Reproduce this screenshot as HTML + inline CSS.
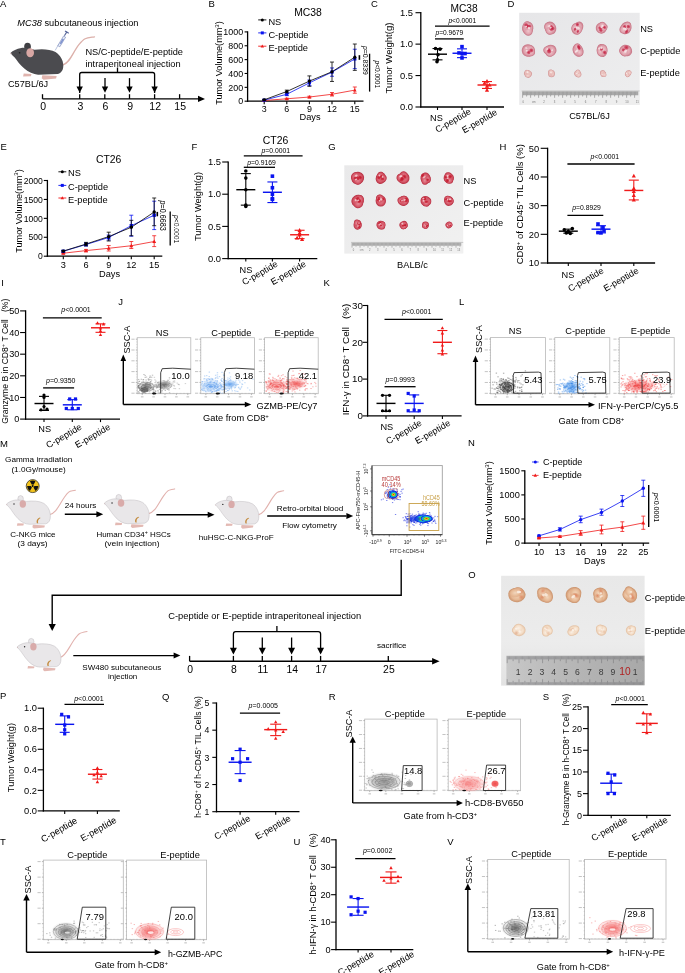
<!DOCTYPE html>
<html><head><meta charset="utf-8"><style>
html,body{margin:0;padding:0;background:#fff;width:685px;height:973px;overflow:hidden}
svg{display:block;font-family:"Liberation Sans",sans-serif;will-change:transform}
</style></head><body>
<svg width="685" height="973" viewBox="0 0 685 973">
<defs>
<radialGradient id="tumA"><stop offset="0" stop-color="#eec6cc"/><stop offset="0.7" stop-color="#e0a2ae"/><stop offset="1" stop-color="#d8929e" stop-opacity="0.2"/></radialGradient>
<radialGradient id="tumB" cx="0.4" cy="0.4" r="0.65"><stop offset="0" stop-color="#f0c8cc"/><stop offset="0.5" stop-color="#d8768a"/><stop offset="1" stop-color="#b83048"/></radialGradient>
<radialGradient id="tumS"><stop offset="0" stop-color="#f2d6d2"/><stop offset="0.7" stop-color="#eac0bc"/><stop offset="1" stop-color="#e0b0ae" stop-opacity="0.3"/></radialGradient>
<radialGradient id="tumG"><stop offset="0" stop-color="#e6909c"/><stop offset="0.7" stop-color="#d65a6a"/><stop offset="1" stop-color="#cc4a5c" stop-opacity="0.3"/></radialGradient>
<radialGradient id="tumO"><stop offset="0" stop-color="#f2d6bc"/><stop offset="0.7" stop-color="#e6b894"/><stop offset="1" stop-color="#dca884" stop-opacity="0.3"/></radialGradient>
<radialGradient id="tumO2"><stop offset="0" stop-color="#faf0e6"/><stop offset="0.7" stop-color="#f4dec8"/><stop offset="1" stop-color="#eed0b6" stop-opacity="0.2"/></radialGradient>
<radialGradient id="redA"><stop offset="0" stop-color="#c01c3c"/><stop offset="0.6" stop-color="#c82848" stop-opacity="0.7"/><stop offset="1" stop-color="#d04060" stop-opacity="0"/></radialGradient>
<radialGradient id="redS"><stop offset="0" stop-color="#e0a0a4"/><stop offset="1" stop-color="#e0a0a4" stop-opacity="0"/></radialGradient>
<radialGradient id="redG"><stop offset="0" stop-color="#c01428"/><stop offset="0.6" stop-color="#c81c30" stop-opacity="0.75"/><stop offset="1" stop-color="#d03040" stop-opacity="0"/></radialGradient>
<radialGradient id="redO"><stop offset="0" stop-color="#d8704a"/><stop offset="1" stop-color="#d8704a" stop-opacity="0"/></radialGradient>
<radialGradient id="redO2"><stop offset="0" stop-color="#e0a888"/><stop offset="1" stop-color="#e0a888" stop-opacity="0"/></radialGradient>
<linearGradient id="bgD" x1="0" y1="0" x2="1" y2="1"><stop offset="0" stop-color="#e6e6e8"/><stop offset="1" stop-color="#eeeeef"/></linearGradient>
<linearGradient id="bgG" x1="0" y1="0" x2="1" y2="1"><stop offset="0" stop-color="#e9e9ea"/><stop offset="1" stop-color="#f1f1f1"/></linearGradient>
<linearGradient id="rulerO" x1="0" y1="0" x2="1" y2="0"><stop offset="0" stop-color="#c8c8c8"/><stop offset="0.35" stop-color="#bababa"/><stop offset="0.7" stop-color="#b0b0b0"/><stop offset="1" stop-color="#a8a8a8"/></linearGradient>
<radialGradient id="cgK"><stop offset="0" stop-color="#505050" stop-opacity="0.9"/><stop offset="0.45" stop-color="#8a8a8a" stop-opacity="0.6"/><stop offset="1" stop-color="#bbb" stop-opacity="0"/></radialGradient>
<radialGradient id="cgB"><stop offset="0" stop-color="#3d8ae8" stop-opacity="0.85"/><stop offset="0.5" stop-color="#7ab0f0" stop-opacity="0.5"/><stop offset="1" stop-color="#b0d0f8" stop-opacity="0"/></radialGradient>
<radialGradient id="cgK2"><stop offset="0" stop-color="#7a7a7a" stop-opacity="0.85"/><stop offset="0.6" stop-color="#a0a0a0" stop-opacity="0.55"/><stop offset="1" stop-color="#c0c0c0" stop-opacity="0"/></radialGradient>
<radialGradient id="cgR2"><stop offset="0" stop-color="#f47070" stop-opacity="0.8"/><stop offset="0.6" stop-color="#f69a9a" stop-opacity="0.5"/><stop offset="1" stop-color="#f8c0c0" stop-opacity="0"/></radialGradient>
<radialGradient id="cgR"><stop offset="0" stop-color="#f04848" stop-opacity="0.9"/><stop offset="0.5" stop-color="#f47c7c" stop-opacity="0.55"/><stop offset="1" stop-color="#f8b8b8" stop-opacity="0"/></radialGradient>
<radialGradient id="heat1"><stop offset="0" stop-color="#e82010"/><stop offset="0.25" stop-color="#f0c020"/><stop offset="0.45" stop-color="#30d050"/><stop offset="0.65" stop-color="#10a0f0"/><stop offset="0.85" stop-color="#1030e0"/><stop offset="1" stop-color="#2030d0" stop-opacity="0"/></radialGradient>
<linearGradient id="bgO" x1="0" y1="0" x2="0" y2="1"><stop offset="0" stop-color="#e8e8e8"/><stop offset="0.6" stop-color="#ececec"/><stop offset="1" stop-color="#e2e2e2"/></linearGradient>
</defs>
<text x="0" y="7" font-size="9.5">A</text>
<text x="17.3" y="26" font-size="9.25" textLength="121.2" lengthAdjust="spacingAndGlyphs"><tspan font-style="italic">MC38</tspan> subcutaneous injection</text>
<path d="M62.7 65 C70.5 62.6, 72.9 51.8, 78.9 44.6 S86.1 38, 94.5 36.8" fill="none" stroke="#dcb0aa" stroke-width="1.32" stroke-linecap="round"/>
<path d="M23.7 73.4 L31.5 73.88 L30.9 76.16 L23.1 76.52 Z" fill="#e0b4ae"/>
<path d="M42.3 75.32 L56.7 76.04 L56.1 78.44 L43.5 79.76 L41.7 78.2 Z" fill="#e0b4ae"/>
<ellipse cx="27.54" cy="46.64" rx="3.36" ry="3.96" fill="#3f3f43" />
<path d="M10.5 53 C12.9 50.6, 16.5 48.68, 21.3 47.96 C24.9 47.48, 29.7 48.68, 34.5 49.64 C41.7 48.68, 50.1 48.92, 55.5 52.04 C60.3 55.16, 63.3 60.2, 63.3 65.6 C63.3 69.8, 61.86 72.8, 57.9 74.12 L38.1 74.72 C33.3 74.6, 28.5 72.2, 24.3 68.6 C20.1 65, 17.1 60.8, 14.7 57.56 C12.9 56, 11.46 54.44, 10.5 53 Z" fill="#4b4b4f"/>
<ellipse cx="30.18" cy="52.76" rx="3.84" ry="4.44" fill="#d8a7a4" />
<circle cx="19.62" cy="52.76" r="0.84" fill="#222" />
<circle cx="10.98" cy="53.6" r="0.54" fill="#caa" />
<path d="M55.2 50.4 L58.6 44.4" fill="none" stroke="#8a9cc8" stroke-width="0.6"/>
<path d="M57.8 45.6 L63.6 36.0 L65.6 37.2 L59.8 46.8 Z" fill="#e4eaf6" stroke="#7080b4" stroke-width="0.6"/>
<path d="M59.6 43.4 L62.6 38.6 L64.0 39.4 L61.0 44.2 Z" fill="#8094d0"/>
<path d="M64.4 35.8 L67.0 31.6" fill="none" stroke="#55659a" stroke-width="1.1"/>
<path d="M65.0 31.0 L68.8 33.2" fill="none" stroke="#55659a" stroke-width="1.1"/>
<text x="8" y="87.4" font-size="9.25" textLength="40.2" lengthAdjust="spacingAndGlyphs">C57BL/6J</text>
<text x="85.4" y="55.4" font-size="9.25" textLength="97.6" lengthAdjust="spacingAndGlyphs">NS/C-peptide/E-peptide</text>
<text x="85.4" y="66.8" font-size="9.25" textLength="95.3" lengthAdjust="spacingAndGlyphs">intraperitoneal injection</text>
<path d="M79.7 93 L79.7 74.5 Q79.7 72.5 81.7 72.5 L152.6 72.5 Q154.6 72.5 154.6 74.5 L154.6 93" fill="none" stroke="#000" stroke-width="1.3"/>
<line x1="117.5" y1="67.5" x2="117.5" y2="72.5" stroke="#000" stroke-width="1.3" />
<line x1="105" y1="78.1" x2="105" y2="90" stroke="#000" stroke-width="1.3" />
<line x1="129.5" y1="78.1" x2="129.5" y2="90" stroke="#000" stroke-width="1.3" />
<path d="M79.7 92.8 L76.5 86.6 L82.9 86.6 Z" fill="#000"/>
<path d="M105 92.8 L101.8 86.6 L108.2 86.6 Z" fill="#000"/>
<path d="M129.5 92.8 L126.3 86.6 L132.7 86.6 Z" fill="#000"/>
<path d="M154.6 92.8 L151.4 86.6 L157.8 86.6 Z" fill="#000"/>
<line x1="42.5" y1="98.9" x2="199" y2="98.9" stroke="#000" stroke-width="1.4" />
<path d="M205 98.9 L198 95.8 L198 102 Z" fill="#000"/>
<line x1="42.5" y1="94.2" x2="42.5" y2="98.9" stroke="#000" stroke-width="1.3" />
<text x="43.1" y="110.4" font-size="10.5" text-anchor="middle">0</text>
<line x1="79.7" y1="94.2" x2="79.7" y2="98.9" stroke="#000" stroke-width="1.3" />
<text x="80.3" y="110.4" font-size="10.5" text-anchor="middle">3</text>
<line x1="104.8" y1="94.2" x2="104.8" y2="98.9" stroke="#000" stroke-width="1.3" />
<text x="105.4" y="110.4" font-size="10.5" text-anchor="middle">6</text>
<line x1="129.5" y1="94.2" x2="129.5" y2="98.9" stroke="#000" stroke-width="1.3" />
<text x="130.1" y="110.4" font-size="10.5" text-anchor="middle">9</text>
<line x1="154.6" y1="94.2" x2="154.6" y2="98.9" stroke="#000" stroke-width="1.3" />
<text x="155.2" y="110.4" font-size="10.5" text-anchor="middle">12</text>
<line x1="179.6" y1="94.2" x2="179.6" y2="98.9" stroke="#000" stroke-width="1.3" />
<text x="180.2" y="110.4" font-size="10.5" text-anchor="middle">15</text>
<text x="208.5" y="7" font-size="9.5">B</text>
<text x="308" y="16.4" font-size="10.4" text-anchor="middle">MC38</text>
<line x1="247.6" y1="31.3" x2="247.6" y2="101.8" stroke="#000" stroke-width="1.3" />
<line x1="244.6" y1="101.2" x2="247.6" y2="101.2" stroke="#000" stroke-width="1.1" />
<text x="243.1" y="104.4" font-size="8.9" text-anchor="end">0</text>
<line x1="244.6" y1="87.34" x2="247.6" y2="87.34" stroke="#000" stroke-width="1.1" />
<text x="243.1" y="90.54" font-size="8.9" text-anchor="end">200</text>
<line x1="244.6" y1="73.48" x2="247.6" y2="73.48" stroke="#000" stroke-width="1.1" />
<text x="243.1" y="76.68" font-size="8.9" text-anchor="end">400</text>
<line x1="244.6" y1="59.62" x2="247.6" y2="59.62" stroke="#000" stroke-width="1.1" />
<text x="243.1" y="62.82" font-size="8.9" text-anchor="end">600</text>
<line x1="244.6" y1="45.76" x2="247.6" y2="45.76" stroke="#000" stroke-width="1.1" />
<text x="243.1" y="48.96" font-size="8.9" text-anchor="end">800</text>
<line x1="244.6" y1="31.9" x2="247.6" y2="31.9" stroke="#000" stroke-width="1.1" />
<text x="243.1" y="35.1" font-size="8.9" text-anchor="end">1000</text>
<line x1="247" y1="101.2" x2="363.5" y2="101.2" stroke="#000" stroke-width="1.3" />
<line x1="264.2" y1="101.2" x2="264.2" y2="104.2" stroke="#000" stroke-width="1.1" />
<text x="264.2" y="112.4" font-size="8.9" text-anchor="middle">3</text>
<line x1="286.8" y1="101.2" x2="286.8" y2="104.2" stroke="#000" stroke-width="1.1" />
<text x="286.8" y="112.4" font-size="8.9" text-anchor="middle">6</text>
<line x1="309.4" y1="101.2" x2="309.4" y2="104.2" stroke="#000" stroke-width="1.1" />
<text x="309.4" y="112.4" font-size="8.9" text-anchor="middle">9</text>
<line x1="332" y1="101.2" x2="332" y2="104.2" stroke="#000" stroke-width="1.1" />
<text x="332" y="112.4" font-size="8.9" text-anchor="middle">12</text>
<line x1="354.8" y1="101.2" x2="354.8" y2="104.2" stroke="#000" stroke-width="1.1" />
<text x="354.8" y="112.4" font-size="8.9" text-anchor="middle">15</text>
<text x="310" y="120.3" font-size="9.25" text-anchor="middle">Days</text>
<text x="222.1" y="63" font-size="9.1" text-anchor="middle" transform="rotate(-90 222.1 63)">Tumor Volume(mm<tspan dy="-3.2" font-size="6">3</tspan><tspan dy="3.2">)</tspan></text>
<line x1="258.2" y1="19.9" x2="266.4" y2="19.9" stroke="#000" stroke-width="0.9" />
<circle cx="262.3" cy="19.9" r="1.5" fill="#000" />
<text x="268.4" y="24.6" font-size="9.25">NS</text>
<line x1="258.2" y1="32.9" x2="266.4" y2="32.9" stroke="#0a14f0" stroke-width="0.9" />
<rect x="260.8" y="31.4" width="3" height="3" fill="#0a14f0"/>
<text x="268.4" y="37.6" font-size="9.25">C-peptide</text>
<line x1="258.2" y1="46.2" x2="266.4" y2="46.2" stroke="#f01a1a" stroke-width="0.9" />
<path d="M262.3 44.4 L260.57 47.55 L264.03 47.55 Z" fill="#f01a1a"/>
<text x="268.4" y="50.9" font-size="9.25">E-peptide</text>
<polyline points="264.2,100.51 286.8,98.77 309.4,97.04 332,94.27 354.8,90.11" fill="none" stroke="#f01a1a" stroke-width="0.8"/>
<line x1="264.2" y1="100.09" x2="264.2" y2="100.92" stroke="#f01a1a" stroke-width="0.8" />
<line x1="262.2" y1="100.09" x2="266.2" y2="100.09" stroke="#f01a1a" stroke-width="0.8" />
<line x1="262.2" y1="100.92" x2="266.2" y2="100.92" stroke="#f01a1a" stroke-width="0.8" />
<path d="M264.2 98.59 L262.36 101.95 L266.04 101.95 Z" fill="#f01a1a"/>
<line x1="286.8" y1="98.22" x2="286.8" y2="99.33" stroke="#f01a1a" stroke-width="0.8" />
<line x1="284.8" y1="98.22" x2="288.8" y2="98.22" stroke="#f01a1a" stroke-width="0.8" />
<line x1="284.8" y1="99.33" x2="288.8" y2="99.33" stroke="#f01a1a" stroke-width="0.8" />
<path d="M286.8 96.85 L284.96 100.21 L288.64 100.21 Z" fill="#f01a1a"/>
<line x1="309.4" y1="96.21" x2="309.4" y2="97.87" stroke="#f01a1a" stroke-width="0.8" />
<line x1="307.4" y1="96.21" x2="311.4" y2="96.21" stroke="#f01a1a" stroke-width="0.8" />
<line x1="307.4" y1="97.87" x2="311.4" y2="97.87" stroke="#f01a1a" stroke-width="0.8" />
<path d="M309.4 95.12 L307.56 98.48 L311.24 98.48 Z" fill="#f01a1a"/>
<line x1="332" y1="92.54" x2="332" y2="96" stroke="#f01a1a" stroke-width="0.8" />
<line x1="330" y1="92.54" x2="334" y2="92.54" stroke="#f01a1a" stroke-width="0.8" />
<line x1="330" y1="96" x2="334" y2="96" stroke="#f01a1a" stroke-width="0.8" />
<path d="M332 92.35 L330.16 95.71 L333.84 95.71 Z" fill="#f01a1a"/>
<line x1="354.8" y1="86.99" x2="354.8" y2="93.23" stroke="#f01a1a" stroke-width="0.8" />
<line x1="352.8" y1="86.99" x2="356.8" y2="86.99" stroke="#f01a1a" stroke-width="0.8" />
<line x1="352.8" y1="93.23" x2="356.8" y2="93.23" stroke="#f01a1a" stroke-width="0.8" />
<path d="M354.8 88.19 L352.96 91.55 L356.64 91.55 Z" fill="#f01a1a"/>
<polyline points="264.2,100.16 286.8,94.27 309.4,82.84 332,72.09 354.8,58.93" fill="none" stroke="#0a14f0" stroke-width="0.8"/>
<line x1="264.2" y1="99.61" x2="264.2" y2="100.71" stroke="#0a14f0" stroke-width="0.8" />
<line x1="262.2" y1="99.61" x2="266.2" y2="99.61" stroke="#0a14f0" stroke-width="0.8" />
<line x1="262.2" y1="100.71" x2="266.2" y2="100.71" stroke="#0a14f0" stroke-width="0.8" />
<rect x="262.6" y="98.56" width="3.2" height="3.2" fill="#0a14f0"/>
<line x1="286.8" y1="92.88" x2="286.8" y2="95.66" stroke="#0a14f0" stroke-width="0.8" />
<line x1="284.8" y1="92.88" x2="288.8" y2="92.88" stroke="#0a14f0" stroke-width="0.8" />
<line x1="284.8" y1="95.66" x2="288.8" y2="95.66" stroke="#0a14f0" stroke-width="0.8" />
<rect x="285.2" y="92.67" width="3.2" height="3.2" fill="#0a14f0"/>
<line x1="309.4" y1="80.06" x2="309.4" y2="85.61" stroke="#0a14f0" stroke-width="0.8" />
<line x1="307.4" y1="80.06" x2="311.4" y2="80.06" stroke="#0a14f0" stroke-width="0.8" />
<line x1="307.4" y1="85.61" x2="311.4" y2="85.61" stroke="#0a14f0" stroke-width="0.8" />
<rect x="307.8" y="81.24" width="3.2" height="3.2" fill="#0a14f0"/>
<line x1="332" y1="67.94" x2="332" y2="76.25" stroke="#0a14f0" stroke-width="0.8" />
<line x1="330" y1="67.94" x2="334" y2="67.94" stroke="#0a14f0" stroke-width="0.8" />
<line x1="330" y1="76.25" x2="334" y2="76.25" stroke="#0a14f0" stroke-width="0.8" />
<rect x="330.4" y="70.49" width="3.2" height="3.2" fill="#0a14f0"/>
<line x1="354.8" y1="49.22" x2="354.8" y2="68.63" stroke="#0a14f0" stroke-width="0.8" />
<line x1="352.8" y1="49.22" x2="356.8" y2="49.22" stroke="#0a14f0" stroke-width="0.8" />
<line x1="352.8" y1="68.63" x2="356.8" y2="68.63" stroke="#0a14f0" stroke-width="0.8" />
<rect x="353.2" y="57.33" width="3.2" height="3.2" fill="#0a14f0"/>
<polyline points="264.2,99.81 286.8,91.5 309.4,81.1 332,71.75 354.8,57.19" fill="none" stroke="#000" stroke-width="0.8"/>
<line x1="264.2" y1="99.26" x2="264.2" y2="100.37" stroke="#000" stroke-width="0.8" />
<line x1="262.2" y1="99.26" x2="266.2" y2="99.26" stroke="#000" stroke-width="0.8" />
<line x1="262.2" y1="100.37" x2="266.2" y2="100.37" stroke="#000" stroke-width="0.8" />
<circle cx="264.2" cy="99.81" r="1.6" fill="#000" />
<line x1="286.8" y1="90.11" x2="286.8" y2="92.88" stroke="#000" stroke-width="0.8" />
<line x1="284.8" y1="90.11" x2="288.8" y2="90.11" stroke="#000" stroke-width="0.8" />
<line x1="284.8" y1="92.88" x2="288.8" y2="92.88" stroke="#000" stroke-width="0.8" />
<circle cx="286.8" cy="91.5" r="1.6" fill="#000" />
<line x1="309.4" y1="75.91" x2="309.4" y2="86.3" stroke="#000" stroke-width="0.8" />
<line x1="307.4" y1="75.91" x2="311.4" y2="75.91" stroke="#000" stroke-width="0.8" />
<line x1="307.4" y1="86.3" x2="311.4" y2="86.3" stroke="#000" stroke-width="0.8" />
<circle cx="309.4" cy="81.1" r="1.6" fill="#000" />
<line x1="332" y1="62.05" x2="332" y2="81.45" stroke="#000" stroke-width="0.8" />
<line x1="330" y1="62.05" x2="334" y2="62.05" stroke="#000" stroke-width="0.8" />
<line x1="330" y1="81.45" x2="334" y2="81.45" stroke="#000" stroke-width="0.8" />
<circle cx="332" cy="71.75" r="1.6" fill="#000" />
<line x1="354.8" y1="44.03" x2="354.8" y2="70.36" stroke="#000" stroke-width="0.8" />
<line x1="352.8" y1="44.03" x2="356.8" y2="44.03" stroke="#000" stroke-width="0.8" />
<line x1="352.8" y1="70.36" x2="356.8" y2="70.36" stroke="#000" stroke-width="0.8" />
<circle cx="354.8" cy="57.19" r="1.6" fill="#000" />
<line x1="359.4" y1="55.2" x2="359.4" y2="59.8" stroke="#000" stroke-width="1.6" />
<text x="363.2" y="60.4" font-size="6.6" text-anchor="middle" transform="rotate(90 363.2 60.4)" textLength="29" lengthAdjust="spacingAndGlyphs"><tspan font-style="italic">p</tspan>=0.8339</text>
<line x1="369.6" y1="53.7" x2="369.6" y2="91.6" stroke="#000" stroke-width="1.3" />
<text x="375.3" y="74.3" font-size="6.6" text-anchor="middle" transform="rotate(90 375.3 74.3)" textLength="27.5" lengthAdjust="spacingAndGlyphs"><tspan font-style="italic">p</tspan>&lt;0.0001</text>
<text x="371" y="7" font-size="9.5">C</text>
<text x="464" y="11.9" font-size="10.2" text-anchor="middle">MC38</text>
<line x1="420.8" y1="12.1" x2="420.8" y2="107.6" stroke="#000" stroke-width="1.3" />
<line x1="415.5" y1="107" x2="420.8" y2="107" stroke="#000" stroke-width="1.1" />
<text x="413" y="110.2" font-size="9.4" text-anchor="end">0.0</text>
<line x1="415.5" y1="75.57" x2="420.8" y2="75.57" stroke="#000" stroke-width="1.1" />
<text x="413" y="78.77" font-size="9.4" text-anchor="end">0.5</text>
<line x1="415.5" y1="44.13" x2="420.8" y2="44.13" stroke="#000" stroke-width="1.1" />
<text x="413" y="47.33" font-size="9.4" text-anchor="end">1.0</text>
<line x1="415.5" y1="12.7" x2="420.8" y2="12.7" stroke="#000" stroke-width="1.1" />
<text x="413" y="15.9" font-size="9.4" text-anchor="end">1.5</text>
<line x1="420.2" y1="107" x2="504" y2="107" stroke="#000" stroke-width="1.3" />
<line x1="437.5" y1="107" x2="437.5" y2="110" stroke="#000" stroke-width="1.1" />
<line x1="462" y1="107" x2="462" y2="110" stroke="#000" stroke-width="1.1" />
<line x1="487" y1="107" x2="487" y2="110" stroke="#000" stroke-width="1.1" />
<text x="391.8" y="58" font-size="9.5" text-anchor="middle" transform="rotate(-90 391.8 58)">Tumor Weight(g)</text>
<circle cx="435.5" cy="48.53" r="1.8" fill="#000" />
<circle cx="440" cy="49.16" r="1.8" fill="#000" />
<circle cx="438" cy="54.82" r="1.8" fill="#000" />
<circle cx="437.5" cy="59.85" r="1.8" fill="#000" />
<circle cx="437" cy="61.74" r="1.8" fill="#000" />
<line x1="437.5" y1="48.53" x2="437.5" y2="59.85" stroke="#000" stroke-width="1.1" />
<line x1="432.5" y1="48.53" x2="442.5" y2="48.53" stroke="#000" stroke-width="1.1" />
<line x1="432.5" y1="59.85" x2="442.5" y2="59.85" stroke="#000" stroke-width="1.1" />
<line x1="428" y1="54.19" x2="447" y2="54.19" stroke="#000" stroke-width="1.43" />
<rect x="460.2" y="44.85" width="3.6" height="3.6" fill="#0a14f0"/>
<rect x="457.2" y="51.13" width="3.6" height="3.6" fill="#0a14f0"/>
<rect x="463.2" y="51.76" width="3.6" height="3.6" fill="#0a14f0"/>
<rect x="460.2" y="51.76" width="3.6" height="3.6" fill="#0a14f0"/>
<rect x="460.2" y="56.16" width="3.6" height="3.6" fill="#0a14f0"/>
<line x1="462" y1="48.85" x2="462" y2="57.65" stroke="#0a14f0" stroke-width="1.1" />
<line x1="457" y1="48.85" x2="467" y2="48.85" stroke="#0a14f0" stroke-width="1.1" />
<line x1="457" y1="57.65" x2="467" y2="57.65" stroke="#0a14f0" stroke-width="1.1" />
<line x1="452.5" y1="53.25" x2="471.5" y2="53.25" stroke="#0a14f0" stroke-width="1.43" />
<path d="M487 79.06 L484.93 82.84 L489.07 82.84 Z" fill="#f01a1a"/>
<path d="M484.5 80.95 L482.43 84.73 L486.57 84.73 Z" fill="#f01a1a"/>
<path d="M489.5 82.84 L487.43 86.62 L491.57 86.62 Z" fill="#f01a1a"/>
<path d="M487 84.09 L484.93 87.87 L489.07 87.87 Z" fill="#f01a1a"/>
<path d="M487 87.87 L484.93 91.65 L489.07 91.65 Z" fill="#f01a1a"/>
<line x1="487" y1="81.54" x2="487" y2="88.45" stroke="#f01a1a" stroke-width="1.1" />
<line x1="482" y1="81.54" x2="492" y2="81.54" stroke="#f01a1a" stroke-width="1.1" />
<line x1="482" y1="88.45" x2="492" y2="88.45" stroke="#f01a1a" stroke-width="1.1" />
<line x1="477.5" y1="85" x2="496.5" y2="85" stroke="#f01a1a" stroke-width="1.43" />
<line x1="435" y1="26.2" x2="489.6" y2="26.2" stroke="#000" stroke-width="1.3" />
<text x="462.3" y="22.7" font-size="6.6" text-anchor="middle"><tspan font-style="italic">p</tspan>&lt;0.0001</text>
<line x1="435" y1="38.9" x2="463.7" y2="38.9" stroke="#000" stroke-width="1.3" />
<text x="449.35" y="35.4" font-size="6.6" text-anchor="middle"><tspan font-style="italic">p</tspan>=0.9679</text>
<text x="436.4" y="121" font-size="9.2" text-anchor="middle">NS</text>
<text x="471.7" y="113.3" font-size="9.1" text-anchor="end" transform="rotate(-30 471.7 113.3)">C-peptide</text>
<text x="498" y="114" font-size="9.1" text-anchor="end" transform="rotate(-30 498 114)">E-peptide</text>
<text x="507.5" y="7" font-size="9.5">D</text>
<rect x="519.2" y="12.8" width="120.5" height="92.1" fill="url(#bgD)"/>
<rect x="521.6" y="90.6" width="118" height="14.2" fill="#eeeeee"/>
<path d="M522.6 91.4v6.39M523.4 91.4v3.83M524.2 91.4v3.83M525 91.4v3.83M525.8 91.4v3.83M526.6 91.4v5.11M527.4 91.4v3.83M528.2 91.4v3.83M529 91.4v3.83M529.8 91.4v3.83M530.6 91.4v6.39M531.4 91.4v3.83M532.2 91.4v3.83M533 91.4v3.83M533.8 91.4v3.83M534.6 91.4v5.11M535.4 91.4v3.83M536.2 91.4v3.83M537 91.4v3.83M537.8 91.4v3.83M538.6 91.4v6.39M539.4 91.4v3.83M540.2 91.4v3.83M541 91.4v3.83M541.8 91.4v3.83M542.6 91.4v5.11M543.4 91.4v3.83M544.2 91.4v3.83M545 91.4v3.83M545.8 91.4v3.83M546.6 91.4v6.39M547.4 91.4v3.83M548.2 91.4v3.83M549 91.4v3.83M549.8 91.4v3.83M550.6 91.4v5.11M551.4 91.4v3.83M552.2 91.4v3.83M553 91.4v3.83M553.8 91.4v3.83M554.6 91.4v6.39M555.4 91.4v3.83M556.2 91.4v3.83M557 91.4v3.83M557.8 91.4v3.83M558.6 91.4v5.11M559.4 91.4v3.83M560.2 91.4v3.83M561 91.4v3.83M561.8 91.4v3.83M562.6 91.4v6.39M563.4 91.4v3.83M564.2 91.4v3.83M565 91.4v3.83M565.8 91.4v3.83M566.6 91.4v5.11M567.4 91.4v3.83M568.2 91.4v3.83M569 91.4v3.83M569.8 91.4v3.83M570.6 91.4v6.39M571.4 91.4v3.83M572.2 91.4v3.83M573 91.4v3.83M573.8 91.4v3.83M574.6 91.4v5.11M575.4 91.4v3.83M576.2 91.4v3.83M577 91.4v3.83M577.8 91.4v3.83M578.6 91.4v6.39M579.4 91.4v3.83M580.2 91.4v3.83M581 91.4v3.83M581.8 91.4v3.83M582.6 91.4v5.11M583.4 91.4v3.83M584.2 91.4v3.83M585 91.4v3.83M585.8 91.4v3.83M586.6 91.4v6.39M587.4 91.4v3.83M588.2 91.4v3.83M589 91.4v3.83M589.8 91.4v3.83M590.6 91.4v5.11M591.4 91.4v3.83M592.2 91.4v3.83M593 91.4v3.83M593.8 91.4v3.83M594.6 91.4v6.39M595.4 91.4v3.83M596.2 91.4v3.83M597 91.4v3.83M597.8 91.4v3.83M598.6 91.4v5.11M599.4 91.4v3.83M600.2 91.4v3.83M601 91.4v3.83M601.8 91.4v3.83M602.6 91.4v6.39M603.4 91.4v3.83M604.2 91.4v3.83M605 91.4v3.83M605.8 91.4v3.83M606.6 91.4v5.11M607.4 91.4v3.83M608.2 91.4v3.83M609 91.4v3.83M609.8 91.4v3.83M610.6 91.4v6.39M611.4 91.4v3.83M612.2 91.4v3.83M613 91.4v3.83M613.8 91.4v3.83M614.6 91.4v5.11M615.4 91.4v3.83M616.2 91.4v3.83M617 91.4v3.83M617.8 91.4v3.83M618.6 91.4v6.39M619.4 91.4v3.83M620.2 91.4v3.83M621 91.4v3.83M621.8 91.4v3.83M622.6 91.4v5.11M623.4 91.4v3.83M624.2 91.4v3.83M625 91.4v3.83M625.8 91.4v3.83M626.6 91.4v6.39M627.4 91.4v3.83M628.2 91.4v3.83M629 91.4v3.83M629.8 91.4v3.83M630.6 91.4v5.11M631.4 91.4v3.83M632.2 91.4v3.83M633 91.4v3.83M633.8 91.4v3.83M634.6 91.4v6.39M635.4 91.4v3.83M636.2 91.4v3.83M637 91.4v3.83M637.8 91.4v3.83" fill="none" stroke="#5a5a5a" stroke-width="0.45"/>
<line x1="521.6" y1="91" x2="639.6" y2="91" stroke="#aaa" stroke-width="0.6" />
<text x="523.4" y="102.6" font-size="2.8" text-anchor="middle" fill="#777">0</text>
<text x="533.75" y="102.6" font-size="2.8" text-anchor="middle" fill="#777">cm</text>
<text x="544.1" y="102.6" font-size="2.8" text-anchor="middle" fill="#777">2</text>
<text x="554.45" y="102.6" font-size="2.8" text-anchor="middle" fill="#777">3</text>
<text x="564.8" y="102.6" font-size="2.8" text-anchor="middle" fill="#777">4</text>
<text x="575.15" y="102.6" font-size="2.8" text-anchor="middle" fill="#777">5</text>
<text x="585.5" y="102.6" font-size="2.8" text-anchor="middle" fill="#777">6</text>
<text x="595.85" y="102.6" font-size="2.8" text-anchor="middle" fill="#777">7</text>
<text x="606.2" y="102.6" font-size="2.8" text-anchor="middle" fill="#777">8</text>
<text x="616.55" y="102.6" font-size="2.8" text-anchor="middle" fill="#777">9</text>
<text x="626.9" y="102.6" font-size="2.8" text-anchor="middle" fill="#777">10</text>
<text x="637.25" y="102.6" font-size="2.8" text-anchor="middle" fill="#777">11</text>
<g transform="rotate(5.68 527.7 28)"><ellipse cx="527.7" cy="28" rx="5.68" ry="6.62" fill="#c87888"/><ellipse cx="528.63" cy="31.01" rx="4.42" ry="4.7" fill="#c87888"/><ellipse cx="526.64" cy="25.96" rx="3.82" ry="4.52" fill="#c87888"/><ellipse cx="527.7" cy="28" rx="5.34" ry="6.22" fill="url(#tumA)"/><ellipse cx="528.63" cy="31.01" rx="4.16" ry="4.42" fill="url(#tumA)"/><ellipse cx="526.64" cy="25.96" rx="3.59" ry="4.25" fill="url(#tumA)"/><ellipse cx="528.84" cy="26.01" rx="2.74" ry="1.79" fill="url(#redA)" opacity="0.9"/><ellipse cx="525.88" cy="25.15" rx="2.51" ry="2.2" fill="url(#redA)" opacity="0.9"/><ellipse cx="527.53" cy="26.79" rx="2.37" ry="2.25" fill="url(#redA)" opacity="0.9"/><ellipse cx="526.02" cy="26.69" rx="0.99" ry="0.84" fill="#f8ecee" opacity="0.8"/><ellipse cx="528.86" cy="27.94" rx="1.23" ry="1.31" fill="#f8ecee" opacity="0.8"/></g>
<g transform="rotate(-24.63 550.5 28)"><ellipse cx="550.5" cy="28" rx="5.68" ry="6.62" fill="#c87888"/><ellipse cx="549" cy="26.44" rx="4.24" ry="4.84" fill="#c87888"/><ellipse cx="548.69" cy="29.87" rx="4.12" ry="4.28" fill="#c87888"/><ellipse cx="550.5" cy="28" rx="5.34" ry="6.22" fill="url(#tumA)"/><ellipse cx="549" cy="26.44" rx="3.99" ry="4.55" fill="url(#tumA)"/><ellipse cx="548.69" cy="29.87" rx="3.87" ry="4.02" fill="url(#tumA)"/><ellipse cx="550.68" cy="28.83" rx="2.23" ry="2.91" fill="url(#redA)" opacity="0.9"/><ellipse cx="551.9" cy="27.15" rx="1.9" ry="1.87" fill="url(#redA)" opacity="0.9"/><ellipse cx="552.34" cy="29.32" rx="2.33" ry="2.31" fill="url(#redA)" opacity="0.9"/><ellipse cx="550.17" cy="25.65" rx="1.14" ry="0.86" fill="#f8ecee" opacity="0.8"/><ellipse cx="550.73" cy="27.69" rx="1.23" ry="0.92" fill="#f8ecee" opacity="0.8"/></g>
<g transform="rotate(33.53 577.6 28)"><ellipse cx="577.6" cy="28" rx="5.11" ry="7" fill="#c87888"/><ellipse cx="575.42" cy="28.84" rx="3.83" ry="4.7" fill="#c87888"/><ellipse cx="579.51" cy="29.4" rx="3.36" ry="4.88" fill="#c87888"/><ellipse cx="577.6" cy="28" rx="4.8" ry="6.58" fill="url(#tumA)"/><ellipse cx="575.42" cy="28.84" rx="3.6" ry="4.42" fill="url(#tumA)"/><ellipse cx="579.51" cy="29.4" rx="3.16" ry="4.59" fill="url(#tumA)"/><ellipse cx="579.68" cy="30.73" rx="1.6" ry="1.91" fill="url(#redA)" opacity="0.9"/><ellipse cx="576.12" cy="30.4" rx="1.51" ry="2.12" fill="url(#redA)" opacity="0.9"/><ellipse cx="575.5" cy="25.27" rx="2.01" ry="2.06" fill="url(#redA)" opacity="0.9"/><ellipse cx="576.93" cy="28.22" rx="1.14" ry="1.08" fill="#f8ecee" opacity="0.8"/><ellipse cx="578.49" cy="27.37" rx="1.2" ry="0.98" fill="#f8ecee" opacity="0.8"/></g>
<g transform="rotate(32.2 601.3 28)"><ellipse cx="601.3" cy="28" rx="5.49" ry="5.68" fill="#c87888"/><ellipse cx="602.99" cy="26.18" rx="3.7" ry="3.91" fill="#c87888"/><ellipse cx="600.73" cy="25.47" rx="3.52" ry="3.77" fill="#c87888"/><ellipse cx="601.3" cy="28" rx="5.16" ry="5.34" fill="url(#tumA)"/><ellipse cx="602.99" cy="26.18" rx="3.48" ry="3.68" fill="url(#tumA)"/><ellipse cx="600.73" cy="25.47" rx="3.31" ry="3.55" fill="url(#tumA)"/><ellipse cx="603.57" cy="25.73" rx="2.31" ry="1.84" fill="url(#redA)" opacity="0.9"/><ellipse cx="602.14" cy="30.15" rx="2.23" ry="1.92" fill="url(#redA)" opacity="0.9"/><ellipse cx="600.28" cy="28.72" rx="2.28" ry="1.94" fill="url(#redA)" opacity="0.9"/><ellipse cx="600.83" cy="27.33" rx="0.93" ry="0.75" fill="#f8ecee" opacity="0.8"/><ellipse cx="601.29" cy="25.46" rx="1.15" ry="1.08" fill="#f8ecee" opacity="0.8"/></g>
<g transform="rotate(26.47 626 28)"><ellipse cx="626" cy="28" rx="5.39" ry="6.34" fill="#c87888"/><ellipse cx="624.57" cy="30.34" rx="4.22" ry="4.35" fill="#c87888"/><ellipse cx="626.24" cy="25.61" rx="3.58" ry="4.39" fill="#c87888"/><ellipse cx="626" cy="28" rx="5.07" ry="5.96" fill="url(#tumA)"/><ellipse cx="624.57" cy="30.34" rx="3.97" ry="4.09" fill="url(#tumA)"/><ellipse cx="626.24" cy="25.61" rx="3.37" ry="4.12" fill="url(#tumA)"/><ellipse cx="627.42" cy="25.66" rx="2.27" ry="2.09" fill="url(#redA)" opacity="0.9"/><ellipse cx="624.13" cy="27.54" rx="1.98" ry="2.23" fill="url(#redA)" opacity="0.9"/><ellipse cx="628.15" cy="30.79" rx="1.81" ry="2.93" fill="url(#redA)" opacity="0.9"/><ellipse cx="626.18" cy="29.28" rx="1.26" ry="1.05" fill="#f8ecee" opacity="0.8"/><ellipse cx="624.59" cy="29.14" rx="1.38" ry="1.11" fill="#f8ecee" opacity="0.8"/></g>
<g transform="rotate(14.75 528 50.5)"><ellipse cx="528" cy="50.5" rx="6.34" ry="6.24" fill="#c87888"/><ellipse cx="529.69" cy="49.31" rx="4.96" ry="4.77" fill="#c87888"/><ellipse cx="530.71" cy="51.49" rx="4.82" ry="4.17" fill="#c87888"/><ellipse cx="528" cy="50.5" rx="5.96" ry="5.87" fill="url(#tumA)"/><ellipse cx="529.69" cy="49.31" rx="4.66" ry="4.48" fill="url(#tumA)"/><ellipse cx="530.71" cy="51.49" rx="4.53" ry="3.92" fill="url(#tumA)"/><ellipse cx="531.13" cy="49.61" rx="2.41" ry="2.45" fill="url(#redA)" opacity="0.9"/><ellipse cx="529.26" cy="52.11" rx="2.19" ry="2.23" fill="url(#redA)" opacity="0.9"/><ellipse cx="525.76" cy="48.53" rx="1.25" ry="0.77" fill="#f8ecee" opacity="0.8"/><ellipse cx="526.85" cy="51.08" rx="1.02" ry="0.98" fill="#f8ecee" opacity="0.8"/></g>
<g transform="rotate(-17.75 550.5 50.5)"><ellipse cx="550.5" cy="50.5" rx="6.05" ry="5.68" fill="#c87888"/><ellipse cx="547.94" cy="49.16" rx="4.47" ry="4.04" fill="#c87888"/><ellipse cx="549.74" cy="52.34" rx="4.79" ry="4.28" fill="#c87888"/><ellipse cx="550.5" cy="50.5" rx="5.69" ry="5.34" fill="url(#tumA)"/><ellipse cx="547.94" cy="49.16" rx="4.21" ry="3.8" fill="url(#tumA)"/><ellipse cx="549.74" cy="52.34" rx="4.5" ry="4.02" fill="url(#tumA)"/><ellipse cx="548.92" cy="51.06" rx="2.61" ry="2.53" fill="url(#redA)" opacity="0.9"/><ellipse cx="549.11" cy="49.39" rx="1.98" ry="2.15" fill="url(#redA)" opacity="0.9"/><ellipse cx="552.23" cy="50.68" rx="0.94" ry="0.86" fill="#f8ecee" opacity="0.8"/><ellipse cx="548.06" cy="48.22" rx="1.19" ry="0.74" fill="#f8ecee" opacity="0.8"/></g>
<g transform="rotate(-25.86 578 50.5)"><ellipse cx="578" cy="50.5" rx="5.3" ry="6.43" fill="#c87888"/><ellipse cx="579" cy="47.74" rx="3.7" ry="4.38" fill="#c87888"/><ellipse cx="578.6" cy="52.55" rx="3.56" ry="4.31" fill="#c87888"/><ellipse cx="578" cy="50.5" rx="4.98" ry="6.05" fill="url(#tumA)"/><ellipse cx="579" cy="47.74" rx="3.47" ry="4.12" fill="url(#tumA)"/><ellipse cx="578.6" cy="52.55" rx="3.35" ry="4.05" fill="url(#tumA)"/><ellipse cx="579.96" cy="48.42" rx="1.74" ry="2.89" fill="url(#redA)" opacity="0.9"/><ellipse cx="580.31" cy="47.82" rx="1.88" ry="2.98" fill="url(#redA)" opacity="0.9"/><ellipse cx="577.22" cy="50.19" rx="1.17" ry="1.14" fill="#f8ecee" opacity="0.8"/><ellipse cx="575.77" cy="50.65" rx="1.24" ry="1.02" fill="#f8ecee" opacity="0.8"/></g>
<g transform="rotate(-15.43 602 50.5)"><ellipse cx="602" cy="50.5" rx="5.11" ry="6.62" fill="#c87888"/><ellipse cx="599.95" cy="51.19" rx="3.35" ry="4.74" fill="#c87888"/><ellipse cx="604.05" cy="49.75" rx="3.67" ry="5.03" fill="#c87888"/><ellipse cx="602" cy="50.5" rx="4.8" ry="6.22" fill="url(#tumA)"/><ellipse cx="599.95" cy="51.19" rx="3.14" ry="4.45" fill="url(#tumA)"/><ellipse cx="604.05" cy="49.75" rx="3.45" ry="4.72" fill="url(#tumA)"/><ellipse cx="601.74" cy="48.94" rx="2.33" ry="1.93" fill="url(#redA)" opacity="0.9"/><ellipse cx="604.08" cy="53.16" rx="2.04" ry="2.41" fill="url(#redA)" opacity="0.9"/><ellipse cx="599.9" cy="47.9" rx="1.17" ry="1.22" fill="#f8ecee" opacity="0.8"/><ellipse cx="602.21" cy="47.72" rx="1.14" ry="1.38" fill="#f8ecee" opacity="0.8"/></g>
<g transform="rotate(30.4 626 50.5)"><ellipse cx="626" cy="50.5" rx="6.24" ry="5.68" fill="#c87888"/><ellipse cx="623.81" cy="52.19" rx="4.23" ry="4.04" fill="#c87888"/><ellipse cx="625.62" cy="52.82" rx="4.06" ry="3.99" fill="#c87888"/><ellipse cx="626" cy="50.5" rx="5.87" ry="5.34" fill="url(#tumA)"/><ellipse cx="623.81" cy="52.19" rx="3.97" ry="3.8" fill="url(#tumA)"/><ellipse cx="625.62" cy="52.82" rx="3.82" ry="3.75" fill="url(#tumA)"/><ellipse cx="624.8" cy="47.77" rx="2.82" ry="2.54" fill="url(#redA)" opacity="0.9"/><ellipse cx="623.72" cy="51.29" rx="2.47" ry="1.96" fill="url(#redA)" opacity="0.9"/><ellipse cx="626.09" cy="50.37" rx="1.07" ry="0.85" fill="#f8ecee" opacity="0.8"/><ellipse cx="625.67" cy="51.79" rx="1.55" ry="1.07" fill="#f8ecee" opacity="0.8"/></g>
<g transform="rotate(22.9 528 73.6)"><ellipse cx="528" cy="73.6" rx="4.05" ry="3.47" fill="#d49c9c"/><ellipse cx="528.45" cy="75.22" rx="2.89" ry="2.43" fill="#d49c9c"/><ellipse cx="526.94" cy="72.78" rx="2.71" ry="2.44" fill="#d49c9c"/><ellipse cx="528" cy="73.6" rx="3.8" ry="3.26" fill="url(#tumS)"/><ellipse cx="528.45" cy="75.22" rx="2.72" ry="2.28" fill="url(#tumS)"/><ellipse cx="526.94" cy="72.78" rx="2.54" ry="2.29" fill="url(#tumS)"/><ellipse cx="526.86" cy="74.22" rx="1.51" ry="1.17" fill="url(#redS)" opacity="0.5"/><ellipse cx="527.03" cy="72.36" rx="0.9" ry="0.69" fill="#fbf4f2" opacity="0.8"/></g>
<g transform="rotate(-1.31 551.5 73.6)"><ellipse cx="551.5" cy="73.6" rx="3.47" ry="3.66" fill="#d49c9c"/><ellipse cx="550.76" cy="72.25" rx="2.58" ry="2.84" fill="#d49c9c"/><ellipse cx="551.51" cy="72.31" rx="2.33" ry="2.59" fill="#d49c9c"/><ellipse cx="551.5" cy="73.6" rx="3.26" ry="3.44" fill="url(#tumS)"/><ellipse cx="550.76" cy="72.25" rx="2.43" ry="2.67" fill="url(#tumS)"/><ellipse cx="551.51" cy="72.31" rx="2.19" ry="2.44" fill="url(#tumS)"/><ellipse cx="551.1" cy="75.37" rx="1.51" ry="1.3" fill="url(#redS)" opacity="0.5"/><ellipse cx="550.88" cy="72.31" rx="0.73" ry="0.74" fill="#fbf4f2" opacity="0.8"/></g>
<g transform="rotate(-32.86 577.7 73.6)"><ellipse cx="577.7" cy="73.6" rx="3.47" ry="3.47" fill="#d49c9c"/><ellipse cx="578.73" cy="72.46" rx="2.23" ry="2.51" fill="#d49c9c"/><ellipse cx="577.82" cy="75.22" rx="2.66" ry="2.38" fill="#d49c9c"/><ellipse cx="577.7" cy="73.6" rx="3.26" ry="3.26" fill="url(#tumS)"/><ellipse cx="578.73" cy="72.46" rx="2.09" ry="2.36" fill="url(#tumS)"/><ellipse cx="577.82" cy="75.22" rx="2.51" ry="2.23" fill="url(#tumS)"/><ellipse cx="578.06" cy="73.58" rx="1.2" ry="1.2" fill="url(#redS)" opacity="0.5"/><ellipse cx="577.2" cy="73.01" rx="0.87" ry="0.64" fill="#fbf4f2" opacity="0.8"/></g>
<g transform="rotate(-18.13 603 73.6)"><ellipse cx="603" cy="73.6" rx="2.89" ry="3.47" fill="#d49c9c"/><ellipse cx="604.02" cy="74.47" rx="1.95" ry="2.54" fill="#d49c9c"/><ellipse cx="603.8" cy="74.98" rx="2.14" ry="2.37" fill="#d49c9c"/><ellipse cx="603" cy="73.6" rx="2.72" ry="3.26" fill="url(#tumS)"/><ellipse cx="604.02" cy="74.47" rx="1.84" ry="2.39" fill="url(#tumS)"/><ellipse cx="603.8" cy="74.98" rx="2.01" ry="2.23" fill="url(#tumS)"/><ellipse cx="601.68" cy="74.82" rx="1.35" ry="1.13" fill="url(#redS)" opacity="0.5"/><ellipse cx="601.91" cy="74.35" rx="0.7" ry="0.55" fill="#fbf4f2" opacity="0.8"/></g>
<g transform="rotate(27.71 628 73.6)"><ellipse cx="628" cy="73.6" rx="2.89" ry="3.37" fill="#d49c9c"/><ellipse cx="628.33" cy="74.7" rx="1.9" ry="2.54" fill="#d49c9c"/><ellipse cx="628.88" cy="72.32" rx="2.14" ry="2.48" fill="#d49c9c"/><ellipse cx="628" cy="73.6" rx="2.72" ry="3.17" fill="url(#tumS)"/><ellipse cx="628.33" cy="74.7" rx="1.78" ry="2.39" fill="url(#tumS)"/><ellipse cx="628.88" cy="72.32" rx="2.02" ry="2.33" fill="url(#tumS)"/><ellipse cx="628.57" cy="73.54" rx="1.15" ry="0.96" fill="url(#redS)" opacity="0.5"/><ellipse cx="626.75" cy="74.05" rx="0.67" ry="0.69" fill="#fbf4f2" opacity="0.8"/></g>
<text x="640.2" y="31.6" font-size="9.25">NS</text>
<text x="640.2" y="54.4" font-size="9.25">C-peptide</text>
<text x="640.2" y="76.2" font-size="9.25">E-peptide</text>
<text x="589.5" y="119" font-size="9.25" text-anchor="middle">C57BL/6J</text>
<text x="0.5" y="150" font-size="9.5">E</text>
<text x="108.7" y="162.8" font-size="10.4" text-anchor="middle">CT26</text>
<line x1="47.4" y1="179.9" x2="47.4" y2="256.8" stroke="#000" stroke-width="1.3" />
<line x1="43.8" y1="256.2" x2="47.4" y2="256.2" stroke="#000" stroke-width="1.1" />
<text x="42.8" y="259.4" font-size="8.6" text-anchor="end">0</text>
<line x1="43.8" y1="237.27" x2="47.4" y2="237.27" stroke="#000" stroke-width="1.1" />
<text x="42.8" y="240.47" font-size="8.6" text-anchor="end">500</text>
<line x1="43.8" y1="218.35" x2="47.4" y2="218.35" stroke="#000" stroke-width="1.1" />
<text x="42.8" y="221.55" font-size="8.6" text-anchor="end">1000</text>
<line x1="43.8" y1="199.43" x2="47.4" y2="199.43" stroke="#000" stroke-width="1.1" />
<text x="42.8" y="202.62" font-size="8.6" text-anchor="end">1500</text>
<line x1="43.8" y1="180.5" x2="47.4" y2="180.5" stroke="#000" stroke-width="1.1" />
<text x="42.8" y="183.7" font-size="8.6" text-anchor="end">2000</text>
<line x1="46.8" y1="256.2" x2="162.3" y2="256.2" stroke="#000" stroke-width="1.3" />
<line x1="63.3" y1="256.2" x2="63.3" y2="259.2" stroke="#000" stroke-width="1.1" />
<text x="63.3" y="268" font-size="9.2" text-anchor="middle">3</text>
<line x1="86" y1="256.2" x2="86" y2="259.2" stroke="#000" stroke-width="1.1" />
<text x="86" y="268" font-size="9.2" text-anchor="middle">6</text>
<line x1="108.7" y1="256.2" x2="108.7" y2="259.2" stroke="#000" stroke-width="1.1" />
<text x="108.7" y="268" font-size="9.2" text-anchor="middle">9</text>
<line x1="131.3" y1="256.2" x2="131.3" y2="259.2" stroke="#000" stroke-width="1.1" />
<text x="131.3" y="268" font-size="9.2" text-anchor="middle">12</text>
<line x1="154.2" y1="256.2" x2="154.2" y2="259.2" stroke="#000" stroke-width="1.1" />
<text x="154.2" y="268" font-size="9.2" text-anchor="middle">15</text>
<text x="109.5" y="276.7" font-size="9.25" text-anchor="middle">Days</text>
<text x="21.7" y="211" font-size="9.1" text-anchor="middle" transform="rotate(-90 21.7 211)">Tumor Volume(mm<tspan dy="-3.2" font-size="6">3</tspan><tspan dy="3.2">)</tspan></text>
<line x1="58.4" y1="171.8" x2="66.3" y2="171.8" stroke="#000" stroke-width="0.9" />
<circle cx="62.3" cy="171.8" r="1.5" fill="#000" />
<text x="68" y="176.4" font-size="9.25">NS</text>
<line x1="58.4" y1="185.4" x2="66.3" y2="185.4" stroke="#0a14f0" stroke-width="0.9" />
<rect x="60.8" y="183.9" width="3" height="3" fill="#0a14f0"/>
<text x="68" y="190" font-size="9.25">C-peptide</text>
<line x1="58.4" y1="198" x2="66.3" y2="198" stroke="#f01a1a" stroke-width="0.9" />
<path d="M62.3 196.2 L60.57 199.35 L64.02 199.35 Z" fill="#f01a1a"/>
<text x="68" y="202.6" font-size="9.25">E-peptide</text>
<polyline points="63.3,253.21 86,250.6 108.7,248.29 131.3,245.72 154.2,241.51" fill="none" stroke="#f01a1a" stroke-width="0.8"/>
<line x1="63.3" y1="252.64" x2="63.3" y2="253.78" stroke="#f01a1a" stroke-width="0.8" />
<line x1="61.3" y1="252.64" x2="65.3" y2="252.64" stroke="#f01a1a" stroke-width="0.8" />
<line x1="61.3" y1="253.78" x2="65.3" y2="253.78" stroke="#f01a1a" stroke-width="0.8" />
<path d="M63.3 251.17 L61.34 254.74 L65.25 254.74 Z" fill="#f01a1a"/>
<line x1="86" y1="249.46" x2="86" y2="251.73" stroke="#f01a1a" stroke-width="0.8" />
<line x1="84" y1="249.46" x2="88" y2="249.46" stroke="#f01a1a" stroke-width="0.8" />
<line x1="84" y1="251.73" x2="88" y2="251.73" stroke="#f01a1a" stroke-width="0.8" />
<path d="M86 248.56 L84.05 252.13 L87.95 252.13 Z" fill="#f01a1a"/>
<line x1="108.7" y1="245.56" x2="108.7" y2="251.01" stroke="#f01a1a" stroke-width="0.8" />
<line x1="106.7" y1="245.56" x2="110.7" y2="245.56" stroke="#f01a1a" stroke-width="0.8" />
<line x1="106.7" y1="251.01" x2="110.7" y2="251.01" stroke="#f01a1a" stroke-width="0.8" />
<path d="M108.7 246.25 L106.75 249.82 L110.66 249.82 Z" fill="#f01a1a"/>
<line x1="131.3" y1="241.51" x2="131.3" y2="248.52" stroke="#f01a1a" stroke-width="0.8" />
<line x1="129.3" y1="241.51" x2="133.3" y2="241.51" stroke="#f01a1a" stroke-width="0.8" />
<line x1="129.3" y1="248.52" x2="133.3" y2="248.52" stroke="#f01a1a" stroke-width="0.8" />
<path d="M131.3 243.68 L129.34 247.25 L133.26 247.25 Z" fill="#f01a1a"/>
<line x1="154.2" y1="235.72" x2="154.2" y2="246.59" stroke="#f01a1a" stroke-width="0.8" />
<line x1="152.2" y1="235.72" x2="156.2" y2="235.72" stroke="#f01a1a" stroke-width="0.8" />
<line x1="152.2" y1="246.59" x2="156.2" y2="246.59" stroke="#f01a1a" stroke-width="0.8" />
<path d="M154.2 239.47 L152.24 243.04 L156.16 243.04 Z" fill="#f01a1a"/>
<polyline points="63.3,251.28 86,244.5 108.7,237.5 131.3,225.69 154.2,215.21" fill="none" stroke="#0a14f0" stroke-width="0.8"/>
<line x1="63.3" y1="250.52" x2="63.3" y2="252.04" stroke="#0a14f0" stroke-width="0.8" />
<line x1="61.3" y1="250.52" x2="65.3" y2="250.52" stroke="#0a14f0" stroke-width="0.8" />
<line x1="61.3" y1="252.04" x2="65.3" y2="252.04" stroke="#0a14f0" stroke-width="0.8" />
<rect x="61.6" y="249.58" width="3.4" height="3.4" fill="#0a14f0"/>
<line x1="86" y1="242.99" x2="86" y2="246.02" stroke="#0a14f0" stroke-width="0.8" />
<line x1="84" y1="242.99" x2="88" y2="242.99" stroke="#0a14f0" stroke-width="0.8" />
<line x1="84" y1="246.02" x2="88" y2="246.02" stroke="#0a14f0" stroke-width="0.8" />
<rect x="84.3" y="242.8" width="3.4" height="3.4" fill="#0a14f0"/>
<line x1="108.7" y1="235" x2="108.7" y2="240" stroke="#0a14f0" stroke-width="0.8" />
<line x1="106.7" y1="235" x2="110.7" y2="235" stroke="#0a14f0" stroke-width="0.8" />
<line x1="106.7" y1="240" x2="110.7" y2="240" stroke="#0a14f0" stroke-width="0.8" />
<rect x="107" y="235.8" width="3.4" height="3.4" fill="#0a14f0"/>
<line x1="131.3" y1="215.21" x2="131.3" y2="236.22" stroke="#0a14f0" stroke-width="0.8" />
<line x1="129.3" y1="215.21" x2="133.3" y2="215.21" stroke="#0a14f0" stroke-width="0.8" />
<line x1="129.3" y1="236.22" x2="133.3" y2="236.22" stroke="#0a14f0" stroke-width="0.8" />
<rect x="129.6" y="223.99" width="3.4" height="3.4" fill="#0a14f0"/>
<line x1="154.2" y1="201.2" x2="154.2" y2="229.59" stroke="#0a14f0" stroke-width="0.8" />
<line x1="152.2" y1="201.2" x2="156.2" y2="201.2" stroke="#0a14f0" stroke-width="0.8" />
<line x1="152.2" y1="229.59" x2="156.2" y2="229.59" stroke="#0a14f0" stroke-width="0.8" />
<rect x="152.5" y="213.51" width="3.4" height="3.4" fill="#0a14f0"/>
<polyline points="63.3,251.09 86,244.09 108.7,236.59 131.3,227.28 154.2,211.99" fill="none" stroke="#000" stroke-width="0.8"/>
<line x1="63.3" y1="250.33" x2="63.3" y2="251.85" stroke="#000" stroke-width="0.8" />
<line x1="61.3" y1="250.33" x2="65.3" y2="250.33" stroke="#000" stroke-width="0.8" />
<line x1="61.3" y1="251.85" x2="65.3" y2="251.85" stroke="#000" stroke-width="0.8" />
<circle cx="63.3" cy="251.09" r="1.7" fill="#000" />
<line x1="86" y1="242.38" x2="86" y2="245.79" stroke="#000" stroke-width="0.8" />
<line x1="84" y1="242.38" x2="88" y2="242.38" stroke="#000" stroke-width="0.8" />
<line x1="84" y1="245.79" x2="88" y2="245.79" stroke="#000" stroke-width="0.8" />
<circle cx="86" cy="244.09" r="1.7" fill="#000" />
<line x1="108.7" y1="232.2" x2="108.7" y2="240.98" stroke="#000" stroke-width="0.8" />
<line x1="106.7" y1="232.2" x2="110.7" y2="232.2" stroke="#000" stroke-width="0.8" />
<line x1="106.7" y1="240.98" x2="110.7" y2="240.98" stroke="#000" stroke-width="0.8" />
<circle cx="108.7" cy="236.59" r="1.7" fill="#000" />
<line x1="131.3" y1="220.32" x2="131.3" y2="235.72" stroke="#000" stroke-width="0.8" />
<line x1="129.3" y1="220.32" x2="133.3" y2="220.32" stroke="#000" stroke-width="0.8" />
<line x1="129.3" y1="235.72" x2="133.3" y2="235.72" stroke="#000" stroke-width="0.8" />
<circle cx="131.3" cy="227.28" r="1.7" fill="#000" />
<line x1="154.2" y1="197.99" x2="154.2" y2="225.69" stroke="#000" stroke-width="0.8" />
<line x1="152.2" y1="197.99" x2="156.2" y2="197.99" stroke="#000" stroke-width="0.8" />
<line x1="152.2" y1="225.69" x2="156.2" y2="225.69" stroke="#000" stroke-width="0.8" />
<circle cx="154.2" cy="211.99" r="1.7" fill="#000" />
<line x1="157.3" y1="211.9" x2="157.3" y2="216.3" stroke="#000" stroke-width="1.6" />
<text x="160.2" y="215.6" font-size="8.2" text-anchor="middle" transform="rotate(90 160.2 215.6)" textLength="30.2" lengthAdjust="spacingAndGlyphs"><tspan font-style="italic">p</tspan>=0.6683</text>
<line x1="170.2" y1="211.5" x2="170.2" y2="245.6" stroke="#000" stroke-width="1.3" />
<text x="174.4" y="229.2" font-size="7.8" text-anchor="middle" transform="rotate(90 174.4 229.2)" textLength="28.4" lengthAdjust="spacingAndGlyphs"><tspan font-style="italic">p</tspan>&lt;0.0001</text>
<text x="191.6" y="150" font-size="9.5">F</text>
<text x="275.5" y="143.6" font-size="10.4" text-anchor="middle">CT26</text>
<line x1="228.2" y1="161.4" x2="228.2" y2="259.2" stroke="#000" stroke-width="1.3" />
<line x1="222.2" y1="258.6" x2="228.2" y2="258.6" stroke="#000" stroke-width="1.1" />
<text x="221.1" y="261.8" font-size="9.4" text-anchor="end">0.0</text>
<line x1="222.2" y1="226.4" x2="228.2" y2="226.4" stroke="#000" stroke-width="1.1" />
<text x="221.1" y="229.6" font-size="9.4" text-anchor="end">0.5</text>
<line x1="222.2" y1="194.2" x2="228.2" y2="194.2" stroke="#000" stroke-width="1.1" />
<text x="221.1" y="197.4" font-size="9.4" text-anchor="end">1.0</text>
<line x1="222.2" y1="162" x2="228.2" y2="162" stroke="#000" stroke-width="1.1" />
<text x="221.1" y="165.2" font-size="9.4" text-anchor="end">1.5</text>
<line x1="227.6" y1="258.6" x2="317.3" y2="258.6" stroke="#000" stroke-width="1.3" />
<line x1="245.8" y1="258.6" x2="245.8" y2="261.6" stroke="#000" stroke-width="1.1" />
<line x1="272.4" y1="258.6" x2="272.4" y2="261.6" stroke="#000" stroke-width="1.1" />
<line x1="299.6" y1="258.6" x2="299.6" y2="261.6" stroke="#000" stroke-width="1.1" />
<text x="201.4" y="206.5" font-size="9.3" text-anchor="middle" transform="rotate(-90 201.4 206.5)">Tumor Weight(g)</text>
<circle cx="245.8" cy="171.02" r="1.8" fill="#000" />
<circle cx="245.8" cy="178.1" r="1.8" fill="#000" />
<circle cx="245.8" cy="189.69" r="1.8" fill="#000" />
<circle cx="245.8" cy="205.15" r="1.8" fill="#000" />
<circle cx="245.8" cy="206.44" r="1.8" fill="#000" />
<line x1="245.8" y1="173.59" x2="245.8" y2="205.15" stroke="#000" stroke-width="1.1" />
<line x1="240.8" y1="173.59" x2="250.8" y2="173.59" stroke="#000" stroke-width="1.1" />
<line x1="240.8" y1="205.15" x2="250.8" y2="205.15" stroke="#000" stroke-width="1.1" />
<line x1="236.3" y1="189.69" x2="255.3" y2="189.69" stroke="#000" stroke-width="1.43" />
<rect x="270.6" y="174.37" width="3.6" height="3.6" fill="#0a14f0"/>
<rect x="270.6" y="185.96" width="3.6" height="3.6" fill="#0a14f0"/>
<rect x="270.6" y="192.4" width="3.6" height="3.6" fill="#0a14f0"/>
<rect x="270.6" y="196.91" width="3.6" height="3.6" fill="#0a14f0"/>
<rect x="270.6" y="197.55" width="3.6" height="3.6" fill="#0a14f0"/>
<line x1="272.4" y1="181.96" x2="272.4" y2="202.57" stroke="#0a14f0" stroke-width="1.1" />
<line x1="267.4" y1="181.96" x2="277.4" y2="181.96" stroke="#0a14f0" stroke-width="1.1" />
<line x1="267.4" y1="202.57" x2="277.4" y2="202.57" stroke="#0a14f0" stroke-width="1.1" />
<line x1="262.9" y1="192.27" x2="281.9" y2="192.27" stroke="#0a14f0" stroke-width="1.43" />
<path d="M299.6 228.1 L297.53 231.88 L301.67 231.88 Z" fill="#f01a1a"/>
<path d="M299.6 230.68 L297.53 234.46 L301.67 234.46 Z" fill="#f01a1a"/>
<path d="M299.6 232.61 L297.53 236.39 L301.67 236.39 Z" fill="#f01a1a"/>
<path d="M297.1 235.83 L295.03 239.61 L299.17 239.61 Z" fill="#f01a1a"/>
<path d="M302.1 237.12 L300.03 240.9 L304.17 240.9 Z" fill="#f01a1a"/>
<line x1="299.6" y1="230.26" x2="299.6" y2="238.64" stroke="#f01a1a" stroke-width="1.1" />
<line x1="294.6" y1="230.26" x2="304.6" y2="230.26" stroke="#f01a1a" stroke-width="1.1" />
<line x1="294.6" y1="238.64" x2="304.6" y2="238.64" stroke="#f01a1a" stroke-width="1.1" />
<line x1="290.1" y1="234.77" x2="309.1" y2="234.77" stroke="#f01a1a" stroke-width="1.43" />
<line x1="243.8" y1="155.8" x2="302.6" y2="155.8" stroke="#000" stroke-width="1.3" />
<text x="275.8" y="153.2" font-size="6.8" text-anchor="middle"><tspan font-style="italic">p</tspan>=0.0001</text>
<line x1="243.8" y1="167.3" x2="275" y2="167.3" stroke="#000" stroke-width="1.3" />
<text x="261.5" y="164.6" font-size="6.8" text-anchor="middle"><tspan font-style="italic">p</tspan>=0.9169</text>
<text x="246" y="272.5" font-size="9.2" text-anchor="middle">NS</text>
<text x="278.5" y="265.8" font-size="9.1" text-anchor="end" transform="rotate(-30 278.5 265.8)">C-peptide</text>
<text x="306.7" y="265.8" font-size="9.1" text-anchor="end" transform="rotate(-30 306.7 265.8)">E-peptide</text>
<text x="328.2" y="150" font-size="9.5">G</text>
<rect x="344.3" y="165.3" width="118.9" height="88.3" fill="url(#bgG)"/>
<rect x="351" y="242" width="112.2" height="10.8" fill="#f0f0f0"/>
<path d="M352 242.8v4.86M352.8 242.8v2.92M353.6 242.8v2.92M354.4 242.8v2.92M355.2 242.8v2.92M356 242.8v3.89M356.8 242.8v2.92M357.6 242.8v2.92M358.4 242.8v2.92M359.2 242.8v2.92M360 242.8v4.86M360.8 242.8v2.92M361.6 242.8v2.92M362.4 242.8v2.92M363.2 242.8v2.92M364 242.8v3.89M364.8 242.8v2.92M365.6 242.8v2.92M366.4 242.8v2.92M367.2 242.8v2.92M368 242.8v4.86M368.8 242.8v2.92M369.6 242.8v2.92M370.4 242.8v2.92M371.2 242.8v2.92M372 242.8v3.89M372.8 242.8v2.92M373.6 242.8v2.92M374.4 242.8v2.92M375.2 242.8v2.92M376 242.8v4.86M376.8 242.8v2.92M377.6 242.8v2.92M378.4 242.8v2.92M379.2 242.8v2.92M380 242.8v3.89M380.8 242.8v2.92M381.6 242.8v2.92M382.4 242.8v2.92M383.2 242.8v2.92M384 242.8v4.86M384.8 242.8v2.92M385.6 242.8v2.92M386.4 242.8v2.92M387.2 242.8v2.92M388 242.8v3.89M388.8 242.8v2.92M389.6 242.8v2.92M390.4 242.8v2.92M391.2 242.8v2.92M392 242.8v4.86M392.8 242.8v2.92M393.6 242.8v2.92M394.4 242.8v2.92M395.2 242.8v2.92M396 242.8v3.89M396.8 242.8v2.92M397.6 242.8v2.92M398.4 242.8v2.92M399.2 242.8v2.92M400 242.8v4.86M400.8 242.8v2.92M401.6 242.8v2.92M402.4 242.8v2.92M403.2 242.8v2.92M404 242.8v3.89M404.8 242.8v2.92M405.6 242.8v2.92M406.4 242.8v2.92M407.2 242.8v2.92M408 242.8v4.86M408.8 242.8v2.92M409.6 242.8v2.92M410.4 242.8v2.92M411.2 242.8v2.92M412 242.8v3.89M412.8 242.8v2.92M413.6 242.8v2.92M414.4 242.8v2.92M415.2 242.8v2.92M416 242.8v4.86M416.8 242.8v2.92M417.6 242.8v2.92M418.4 242.8v2.92M419.2 242.8v2.92M420 242.8v3.89M420.8 242.8v2.92M421.6 242.8v2.92M422.4 242.8v2.92M423.2 242.8v2.92M424 242.8v4.86M424.8 242.8v2.92M425.6 242.8v2.92M426.4 242.8v2.92M427.2 242.8v2.92M428 242.8v3.89M428.8 242.8v2.92M429.6 242.8v2.92M430.4 242.8v2.92M431.2 242.8v2.92M432 242.8v4.86M432.8 242.8v2.92M433.6 242.8v2.92M434.4 242.8v2.92M435.2 242.8v2.92M436 242.8v3.89M436.8 242.8v2.92M437.6 242.8v2.92M438.4 242.8v2.92M439.2 242.8v2.92M440 242.8v4.86M440.8 242.8v2.92M441.6 242.8v2.92M442.4 242.8v2.92M443.2 242.8v2.92M444 242.8v3.89M444.8 242.8v2.92M445.6 242.8v2.92M446.4 242.8v2.92M447.2 242.8v2.92M448 242.8v4.86M448.8 242.8v2.92M449.6 242.8v2.92M450.4 242.8v2.92M451.2 242.8v2.92M452 242.8v3.89M452.8 242.8v2.92M453.6 242.8v2.92M454.4 242.8v2.92M455.2 242.8v2.92M456 242.8v4.86M456.8 242.8v2.92M457.6 242.8v2.92M458.4 242.8v2.92M459.2 242.8v2.92M460 242.8v3.89M460.8 242.8v2.92" fill="none" stroke="#6a6a6a" stroke-width="0.45"/>
<line x1="351" y1="242.4" x2="463.2" y2="242.4" stroke="#aaa" stroke-width="0.6" />
<text x="353.5" y="250.6" font-size="2.6" text-anchor="middle" fill="#777">0</text>
<text x="361.6" y="250.6" font-size="2.6" text-anchor="middle" fill="#777">cm</text>
<text x="369.7" y="250.6" font-size="2.6" text-anchor="middle" fill="#777">2</text>
<text x="377.8" y="250.6" font-size="2.6" text-anchor="middle" fill="#777">3</text>
<text x="385.9" y="250.6" font-size="2.6" text-anchor="middle" fill="#777">4</text>
<text x="394" y="250.6" font-size="2.6" text-anchor="middle" fill="#777">5</text>
<text x="402.1" y="250.6" font-size="2.6" text-anchor="middle" fill="#777">6</text>
<text x="410.2" y="250.6" font-size="2.6" text-anchor="middle" fill="#777">7</text>
<text x="418.3" y="250.6" font-size="2.6" text-anchor="middle" fill="#777">8</text>
<text x="426.4" y="250.6" font-size="2.6" text-anchor="middle" fill="#777">9</text>
<text x="434.5" y="250.6" font-size="2.6" text-anchor="middle" fill="#777">10</text>
<text x="442.6" y="250.6" font-size="2.6" text-anchor="middle" fill="#777">11</text>
<text x="450.7" y="250.6" font-size="2.6" text-anchor="middle" fill="#777">12</text>
<text x="458.8" y="250.6" font-size="2.6" text-anchor="middle" fill="#777">13</text>
<g transform="rotate(-30.3 357.7 178.1)"><ellipse cx="357.7" cy="178.1" rx="6.53" ry="6.15" fill="#b83244"/><ellipse cx="356.73" cy="179.88" rx="4.45" ry="4.63" fill="#b83244"/><ellipse cx="356.79" cy="175.78" rx="4.92" ry="4.35" fill="#b83244"/><ellipse cx="357.7" cy="178.1" rx="6.14" ry="5.78" fill="url(#tumG)"/><ellipse cx="356.73" cy="179.88" rx="4.19" ry="4.35" fill="url(#tumG)"/><ellipse cx="356.79" cy="175.78" rx="4.62" ry="4.09" fill="url(#tumG)"/><ellipse cx="360.19" cy="178.81" rx="2.08" ry="2.3" fill="url(#redG)" opacity="0.9"/><ellipse cx="357.54" cy="178.33" rx="2.18" ry="2.47" fill="url(#redG)" opacity="0.9"/><ellipse cx="355.57" cy="176.81" rx="2.21" ry="1.92" fill="url(#redG)" opacity="0.9"/><ellipse cx="355.62" cy="178.38" rx="1.42" ry="0.73" fill="#f6d6da" opacity="0.8"/><ellipse cx="357.72" cy="175.25" rx="1.4" ry="0.95" fill="#f6d6da" opacity="0.8"/></g>
<g transform="rotate(18.47 380.8 178.1)"><ellipse cx="380.8" cy="178.1" rx="5.01" ry="5.87" fill="#b83244"/><ellipse cx="379.59" cy="176.28" rx="3.36" ry="4.35" fill="#b83244"/><ellipse cx="382.74" cy="177.66" rx="3.85" ry="3.78" fill="#b83244"/><ellipse cx="380.8" cy="178.1" rx="4.71" ry="5.51" fill="url(#tumG)"/><ellipse cx="379.59" cy="176.28" rx="3.16" ry="4.09" fill="url(#tumG)"/><ellipse cx="382.74" cy="177.66" rx="3.62" ry="3.56" fill="url(#tumG)"/><ellipse cx="380.95" cy="176.27" rx="1.95" ry="2.25" fill="url(#redG)" opacity="0.9"/><ellipse cx="382.67" cy="178.24" rx="2.32" ry="1.9" fill="url(#redG)" opacity="0.9"/><ellipse cx="378.85" cy="177.88" rx="2.17" ry="2.37" fill="url(#redG)" opacity="0.9"/><ellipse cx="378.62" cy="176.13" rx="0.85" ry="0.94" fill="#f6d6da" opacity="0.8"/><ellipse cx="381.98" cy="176.23" rx="0.73" ry="1.17" fill="#f6d6da" opacity="0.8"/></g>
<g transform="rotate(-28.65 403.6 178.1)"><ellipse cx="403.6" cy="178.1" rx="5.96" ry="5.87" fill="#b83244"/><ellipse cx="404.98" cy="176.02" rx="4" ry="4.44" fill="#b83244"/><ellipse cx="401.33" cy="176.59" rx="4.36" ry="4.39" fill="#b83244"/><ellipse cx="403.6" cy="178.1" rx="5.6" ry="5.51" fill="url(#tumG)"/><ellipse cx="404.98" cy="176.02" rx="3.76" ry="4.18" fill="url(#tumG)"/><ellipse cx="401.33" cy="176.59" rx="4.1" ry="4.13" fill="url(#tumG)"/><ellipse cx="405.32" cy="177.14" rx="1.85" ry="2.6" fill="url(#redG)" opacity="0.9"/><ellipse cx="401.21" cy="178.45" rx="2.9" ry="1.93" fill="url(#redG)" opacity="0.9"/><ellipse cx="402.11" cy="177.38" rx="1.97" ry="2.42" fill="url(#redG)" opacity="0.9"/><ellipse cx="402.27" cy="175.36" rx="1.24" ry="0.82" fill="#f6d6da" opacity="0.8"/><ellipse cx="401.7" cy="175.11" rx="1.41" ry="0.89" fill="#f6d6da" opacity="0.8"/></g>
<g transform="rotate(-7.22 425.5 178.1)"><ellipse cx="425.5" cy="178.1" rx="5.01" ry="5.68" fill="#b83244"/><ellipse cx="427.31" cy="179.32" rx="3.31" ry="4.04" fill="#b83244"/><ellipse cx="424.41" cy="180.27" rx="3.33" ry="4.46" fill="#b83244"/><ellipse cx="425.5" cy="178.1" rx="4.71" ry="5.34" fill="url(#tumG)"/><ellipse cx="427.31" cy="179.32" rx="3.11" ry="3.8" fill="url(#tumG)"/><ellipse cx="424.41" cy="180.27" rx="3.13" ry="4.19" fill="url(#tumG)"/><ellipse cx="423.26" cy="175.53" rx="2.13" ry="2.62" fill="url(#redG)" opacity="0.9"/><ellipse cx="427.4" cy="180.03" rx="1.61" ry="1.69" fill="url(#redG)" opacity="0.9"/><ellipse cx="424.42" cy="176.54" rx="1.63" ry="1.81" fill="url(#redG)" opacity="0.9"/><ellipse cx="424.71" cy="176.52" rx="1.17" ry="1.1" fill="#f6d6da" opacity="0.8"/><ellipse cx="423.72" cy="177.37" rx="1.13" ry="0.68" fill="#f6d6da" opacity="0.8"/></g>
<g transform="rotate(-4.59 448.8 178.1)"><ellipse cx="448.8" cy="178.1" rx="5.2" ry="5.01" fill="#b83244"/><ellipse cx="448.46" cy="176.06" rx="3.72" ry="3.83" fill="#b83244"/><ellipse cx="449.19" cy="180.5" rx="3.73" ry="3.28" fill="#b83244"/><ellipse cx="448.8" cy="178.1" rx="4.89" ry="4.71" fill="url(#tumG)"/><ellipse cx="448.46" cy="176.06" rx="3.5" ry="3.6" fill="url(#tumG)"/><ellipse cx="449.19" cy="180.5" rx="3.51" ry="3.08" fill="url(#tumG)"/><ellipse cx="450.1" cy="176.67" rx="2.51" ry="2" fill="url(#redG)" opacity="0.9"/><ellipse cx="447.18" cy="180.53" rx="1.84" ry="2.28" fill="url(#redG)" opacity="0.9"/><ellipse cx="446.11" cy="177.04" rx="2.16" ry="1.57" fill="url(#redG)" opacity="0.9"/><ellipse cx="447.8" cy="175.87" rx="1.09" ry="0.98" fill="#f6d6da" opacity="0.8"/><ellipse cx="447.67" cy="178.02" rx="1.05" ry="0.91" fill="#f6d6da" opacity="0.8"/></g>
<g transform="rotate(-34.39 357.7 200.9)"><ellipse cx="357.7" cy="200.9" rx="6.53" ry="5.96" fill="#b83244"/><ellipse cx="356.71" cy="203.4" rx="5.01" ry="4.62" fill="#b83244"/><ellipse cx="359.99" cy="200.53" rx="4.43" ry="4.29" fill="#b83244"/><ellipse cx="357.7" cy="200.9" rx="6.14" ry="5.6" fill="url(#tumG)"/><ellipse cx="356.71" cy="203.4" rx="4.7" ry="4.34" fill="url(#tumG)"/><ellipse cx="359.99" cy="200.53" rx="4.17" ry="4.03" fill="url(#tumG)"/><ellipse cx="358.73" cy="198.99" rx="2.85" ry="1.87" fill="url(#redG)" opacity="0.9"/><ellipse cx="358.92" cy="201.8" rx="2.29" ry="2.05" fill="url(#redG)" opacity="0.9"/><ellipse cx="358.96" cy="201.23" rx="2.29" ry="2.7" fill="url(#redG)" opacity="0.9"/><ellipse cx="356.5" cy="199.21" rx="0.99" ry="1.22" fill="#f6d6da" opacity="0.8"/><ellipse cx="358.36" cy="200.78" rx="1.3" ry="0.8" fill="#f6d6da" opacity="0.8"/></g>
<g transform="rotate(0.42 380.8 200.9)"><ellipse cx="380.8" cy="200.9" rx="5.2" ry="5.68" fill="#b83244"/><ellipse cx="379.62" cy="198.6" rx="3.5" ry="3.77" fill="#b83244"/><ellipse cx="379.88" cy="198.98" rx="3.87" ry="4.36" fill="#b83244"/><ellipse cx="380.8" cy="200.9" rx="4.89" ry="5.34" fill="url(#tumG)"/><ellipse cx="379.62" cy="198.6" rx="3.29" ry="3.54" fill="url(#tumG)"/><ellipse cx="379.88" cy="198.98" rx="3.64" ry="4.1" fill="url(#tumG)"/><ellipse cx="378.4" cy="200.11" rx="1.7" ry="1.84" fill="url(#redG)" opacity="0.9"/><ellipse cx="383.15" cy="199.13" rx="1.92" ry="1.68" fill="url(#redG)" opacity="0.9"/><ellipse cx="378.89" cy="198.56" rx="1.56" ry="2.39" fill="url(#redG)" opacity="0.9"/><ellipse cx="381.3" cy="199.4" rx="1.19" ry="1.15" fill="#f6d6da" opacity="0.8"/><ellipse cx="379.46" cy="200.74" rx="0.8" ry="0.81" fill="#f6d6da" opacity="0.8"/></g>
<g transform="rotate(-15.47 403.6 200.9)"><ellipse cx="403.6" cy="200.9" rx="5.39" ry="5.01" fill="#b83244"/><ellipse cx="403.94" cy="199.25" rx="4.1" ry="3.4" fill="#b83244"/><ellipse cx="401.33" cy="199.97" rx="3.66" ry="3.72" fill="#b83244"/><ellipse cx="403.6" cy="200.9" rx="5.07" ry="4.71" fill="url(#tumG)"/><ellipse cx="403.94" cy="199.25" rx="3.85" ry="3.2" fill="url(#tumG)"/><ellipse cx="401.33" cy="199.97" rx="3.44" ry="3.5" fill="url(#tumG)"/><ellipse cx="406.24" cy="201.6" rx="1.93" ry="1.47" fill="url(#redG)" opacity="0.9"/><ellipse cx="406.4" cy="199.85" rx="2.48" ry="1.86" fill="url(#redG)" opacity="0.9"/><ellipse cx="401.63" cy="200.34" rx="1.97" ry="1.93" fill="url(#redG)" opacity="0.9"/><ellipse cx="402.08" cy="200.31" rx="1.1" ry="0.7" fill="#f6d6da" opacity="0.8"/><ellipse cx="404.76" cy="200.12" rx="1.27" ry="1" fill="#f6d6da" opacity="0.8"/></g>
<g transform="rotate(3.99 425.5 200.9)"><ellipse cx="425.5" cy="200.9" rx="5.01" ry="5.01" fill="#b83244"/><ellipse cx="427.89" cy="201.25" rx="3.42" ry="3.69" fill="#b83244"/><ellipse cx="426.29" cy="202.66" rx="3.75" ry="3.91" fill="#b83244"/><ellipse cx="425.5" cy="200.9" rx="4.71" ry="4.71" fill="url(#tumG)"/><ellipse cx="427.89" cy="201.25" rx="3.22" ry="3.47" fill="url(#tumG)"/><ellipse cx="426.29" cy="202.66" rx="3.52" ry="3.68" fill="url(#tumG)"/><ellipse cx="424.55" cy="199.34" rx="1.53" ry="1.8" fill="url(#redG)" opacity="0.9"/><ellipse cx="424.56" cy="198.42" rx="1.59" ry="1.88" fill="url(#redG)" opacity="0.9"/><ellipse cx="426.29" cy="201.71" rx="2.2" ry="1.58" fill="url(#redG)" opacity="0.9"/><ellipse cx="423.68" cy="200.94" rx="1.05" ry="0.86" fill="#f6d6da" opacity="0.8"/><ellipse cx="423.34" cy="198.66" rx="1.15" ry="0.64" fill="#f6d6da" opacity="0.8"/></g>
<g transform="rotate(-8.07 448.8 200.9)"><ellipse cx="448.8" cy="200.9" rx="4.73" ry="5.01" fill="#b83244"/><ellipse cx="447.91" cy="198.88" rx="3.31" ry="3.33" fill="#b83244"/><ellipse cx="450.55" cy="201.13" rx="3.05" ry="3.31" fill="#b83244"/><ellipse cx="448.8" cy="200.9" rx="4.45" ry="4.71" fill="url(#tumG)"/><ellipse cx="447.91" cy="198.88" rx="3.12" ry="3.13" fill="url(#tumG)"/><ellipse cx="450.55" cy="201.13" rx="2.87" ry="3.11" fill="url(#tumG)"/><ellipse cx="449" cy="200.82" rx="2.17" ry="1.41" fill="url(#redG)" opacity="0.9"/><ellipse cx="446.7" cy="198.96" rx="1.76" ry="1.43" fill="url(#redG)" opacity="0.9"/><ellipse cx="450.16" cy="201.33" rx="2.31" ry="1.58" fill="url(#redG)" opacity="0.9"/><ellipse cx="450.28" cy="199.53" rx="1.09" ry="0.98" fill="#f6d6da" opacity="0.8"/><ellipse cx="447.73" cy="199.48" rx="0.66" ry="0.88" fill="#f6d6da" opacity="0.8"/></g>
<g transform="rotate(4.54 357.7 225)"><ellipse cx="357.7" cy="225" rx="4.16" ry="4.73" fill="#b83244"/><ellipse cx="357.62" cy="223.45" rx="3.22" ry="3.48" fill="#b83244"/><ellipse cx="356.59" cy="223.21" rx="2.88" ry="3.6" fill="#b83244"/><ellipse cx="357.7" cy="225" rx="3.91" ry="4.45" fill="url(#tumG)"/><ellipse cx="357.62" cy="223.45" rx="3.02" ry="3.27" fill="url(#tumG)"/><ellipse cx="356.59" cy="223.21" rx="2.71" ry="3.38" fill="url(#tumG)"/><ellipse cx="358.47" cy="223.18" rx="1.79" ry="1.8" fill="url(#redG)" opacity="0.9"/><ellipse cx="359.09" cy="226.64" rx="1.75" ry="1.81" fill="url(#redG)" opacity="0.9"/><ellipse cx="359.57" cy="223.41" rx="1.35" ry="1.86" fill="url(#redG)" opacity="0.9"/><ellipse cx="358.05" cy="225.97" rx="0.93" ry="0.79" fill="#f6d6da" opacity="0.8"/><ellipse cx="358.82" cy="222.98" rx="0.7" ry="0.98" fill="#f6d6da" opacity="0.8"/></g>
<g transform="rotate(-7.26 380.8 225)"><ellipse cx="380.8" cy="225" rx="4.35" ry="4.35" fill="#b83244"/><ellipse cx="382.7" cy="224.79" rx="2.82" ry="3.15" fill="#b83244"/><ellipse cx="381.61" cy="226.2" rx="3.33" ry="3.43" fill="#b83244"/><ellipse cx="380.8" cy="225" rx="4.09" ry="4.09" fill="url(#tumG)"/><ellipse cx="382.7" cy="224.79" rx="2.65" ry="2.96" fill="url(#tumG)"/><ellipse cx="381.61" cy="226.2" rx="3.13" ry="3.23" fill="url(#tumG)"/><ellipse cx="380.9" cy="225.64" rx="1.38" ry="1.2" fill="url(#redG)" opacity="0.9"/><ellipse cx="379.84" cy="223.04" rx="1.93" ry="1.26" fill="url(#redG)" opacity="0.9"/><ellipse cx="380.65" cy="222.97" rx="1.43" ry="1.42" fill="url(#redG)" opacity="0.9"/><ellipse cx="380.58" cy="223.69" rx="0.89" ry="0.75" fill="#f6d6da" opacity="0.8"/><ellipse cx="379.35" cy="224.56" rx="0.66" ry="0.77" fill="#f6d6da" opacity="0.8"/></g>
<g transform="rotate(-24.35 403.6 225)"><ellipse cx="403.6" cy="225" rx="4.16" ry="3.97" fill="#b83244"/><ellipse cx="403.85" cy="226.28" rx="2.92" ry="2.85" fill="#b83244"/><ellipse cx="403.02" cy="226.41" rx="2.99" ry="2.67" fill="#b83244"/><ellipse cx="403.6" cy="225" rx="3.91" ry="3.73" fill="url(#tumG)"/><ellipse cx="403.85" cy="226.28" rx="2.75" ry="2.68" fill="url(#tumG)"/><ellipse cx="403.02" cy="226.41" rx="2.81" ry="2.51" fill="url(#tumG)"/><ellipse cx="402.89" cy="225.21" rx="1.59" ry="1.68" fill="url(#redG)" opacity="0.9"/><ellipse cx="404.93" cy="225.75" rx="1.69" ry="1.26" fill="url(#redG)" opacity="0.9"/><ellipse cx="404.74" cy="225.97" rx="1.47" ry="1.19" fill="url(#redG)" opacity="0.9"/><ellipse cx="403.19" cy="223.94" rx="0.75" ry="0.6" fill="#f6d6da" opacity="0.8"/><ellipse cx="402.94" cy="223.01" rx="0.83" ry="0.81" fill="#f6d6da" opacity="0.8"/></g>
<g transform="rotate(1.21 425.5 225)"><ellipse cx="425.5" cy="225" rx="3.5" ry="3.5" fill="#b83244"/><ellipse cx="424.69" cy="226.03" rx="2.52" ry="2.47" fill="#b83244"/><ellipse cx="425.72" cy="226.14" rx="2.35" ry="2.72" fill="#b83244"/><ellipse cx="425.5" cy="225" rx="3.29" ry="3.29" fill="url(#tumG)"/><ellipse cx="424.69" cy="226.03" rx="2.37" ry="2.32" fill="url(#tumG)"/><ellipse cx="425.72" cy="226.14" rx="2.21" ry="2.56" fill="url(#tumG)"/><ellipse cx="427.04" cy="225.65" rx="1.21" ry="1.3" fill="url(#redG)" opacity="0.9"/><ellipse cx="426.62" cy="226.08" rx="1.05" ry="1.62" fill="url(#redG)" opacity="0.9"/><ellipse cx="426.64" cy="225.4" rx="1.61" ry="0.94" fill="url(#redG)" opacity="0.9"/><ellipse cx="424.29" cy="224.94" rx="0.63" ry="0.61" fill="#f6d6da" opacity="0.8"/><ellipse cx="425.86" cy="225.49" rx="0.57" ry="0.55" fill="#f6d6da" opacity="0.8"/></g>
<g transform="rotate(-31.92 448.8 225)"><ellipse cx="448.8" cy="225" rx="3.31" ry="3.22" fill="#b83244"/><ellipse cx="449.79" cy="224.47" rx="2.26" ry="2.1" fill="#b83244"/><ellipse cx="450.04" cy="225.31" rx="2.45" ry="2.45" fill="#b83244"/><ellipse cx="448.8" cy="225" rx="3.11" ry="3.02" fill="url(#tumG)"/><ellipse cx="449.79" cy="224.47" rx="2.13" ry="1.97" fill="url(#tumG)"/><ellipse cx="450.04" cy="225.31" rx="2.31" ry="2.3" fill="url(#tumG)"/><ellipse cx="449.13" cy="226.1" rx="1.13" ry="0.9" fill="url(#redG)" opacity="0.9"/><ellipse cx="449.82" cy="226.09" rx="1.25" ry="0.93" fill="url(#redG)" opacity="0.9"/><ellipse cx="448.6" cy="225.37" rx="1.23" ry="1.1" fill="url(#redG)" opacity="0.9"/><ellipse cx="448.98" cy="225.3" rx="0.65" ry="0.47" fill="#f6d6da" opacity="0.8"/><ellipse cx="447.42" cy="224.75" rx="0.52" ry="0.47" fill="#f6d6da" opacity="0.8"/></g>
<text x="463.5" y="183.7" font-size="9.25">NS</text>
<text x="463.5" y="205.8" font-size="9.25">C-peptide</text>
<text x="463.5" y="226.4" font-size="9.25">E-peptide</text>
<text x="412.5" y="267.8" font-size="9.25" text-anchor="middle">BALB/c</text>
<text x="499.4" y="149.8" font-size="9.5">H</text>
<line x1="547.6" y1="147.7" x2="547.6" y2="263.6" stroke="#000" stroke-width="1.3" />
<line x1="540.7" y1="263" x2="547.6" y2="263" stroke="#000" stroke-width="1.1" />
<text x="539.1" y="266.2" font-size="9.3" text-anchor="end">10</text>
<line x1="540.7" y1="234.32" x2="547.6" y2="234.32" stroke="#000" stroke-width="1.1" />
<text x="539.1" y="237.52" font-size="9.3" text-anchor="end">20</text>
<line x1="540.7" y1="205.65" x2="547.6" y2="205.65" stroke="#000" stroke-width="1.1" />
<text x="539.1" y="208.85" font-size="9.3" text-anchor="end">30</text>
<line x1="540.7" y1="176.98" x2="547.6" y2="176.98" stroke="#000" stroke-width="1.1" />
<text x="539.1" y="180.18" font-size="9.3" text-anchor="end">40</text>
<line x1="540.7" y1="148.3" x2="547.6" y2="148.3" stroke="#000" stroke-width="1.1" />
<text x="539.1" y="151.5" font-size="9.3" text-anchor="end">50</text>
<line x1="547" y1="263" x2="655.1" y2="263" stroke="#000" stroke-width="1.3" />
<line x1="568.3" y1="263" x2="568.3" y2="266" stroke="#000" stroke-width="1.1" />
<line x1="601" y1="263" x2="601" y2="266" stroke="#000" stroke-width="1.1" />
<line x1="633.8" y1="263" x2="633.8" y2="266" stroke="#000" stroke-width="1.1" />
<text x="523.4" y="204.2" font-size="8.9" text-anchor="middle" transform="rotate(-90 523.4 204.2)" textLength="120" lengthAdjust="spacingAndGlyphs">CD8<tspan dy="-3" font-size="5.8">+</tspan><tspan dy="3"> of CD45</tspan><tspan dy="-3" font-size="5.8">+</tspan><tspan dy="3"> TIL  Cells (%)</tspan></text>
<circle cx="572.3" cy="228.59" r="1.8" fill="#000" />
<circle cx="564.3" cy="229.74" r="1.8" fill="#000" />
<circle cx="568.3" cy="231.46" r="1.8" fill="#000" />
<circle cx="566.3" cy="232.89" r="1.8" fill="#000" />
<circle cx="570.3" cy="233.46" r="1.8" fill="#000" />
<line x1="568.3" y1="229.16" x2="568.3" y2="233.18" stroke="#000" stroke-width="1.1" />
<line x1="563.3" y1="229.16" x2="573.3" y2="229.16" stroke="#000" stroke-width="1.1" />
<line x1="563.3" y1="233.18" x2="573.3" y2="233.18" stroke="#000" stroke-width="1.1" />
<line x1="558.8" y1="231.17" x2="577.8" y2="231.17" stroke="#000" stroke-width="1.43" />
<rect x="596.2" y="222.2" width="3.6" height="3.6" fill="#0a14f0"/>
<rect x="601.2" y="225.64" width="3.6" height="3.6" fill="#0a14f0"/>
<rect x="602.2" y="229.08" width="3.6" height="3.6" fill="#0a14f0"/>
<rect x="596.2" y="230.8" width="3.6" height="3.6" fill="#0a14f0"/>
<rect x="599.2" y="231.09" width="3.6" height="3.6" fill="#0a14f0"/>
<line x1="601" y1="225.72" x2="601" y2="232.89" stroke="#0a14f0" stroke-width="1.1" />
<line x1="596" y1="225.72" x2="606" y2="225.72" stroke="#0a14f0" stroke-width="1.1" />
<line x1="596" y1="232.89" x2="606" y2="232.89" stroke="#0a14f0" stroke-width="1.1" />
<line x1="591.5" y1="229.16" x2="610.5" y2="229.16" stroke="#0a14f0" stroke-width="1.43" />
<path d="M633.8 173.67 L631.73 177.45 L635.87 177.45 Z" fill="#f01a1a"/>
<path d="M633.8 186.28 L631.73 190.06 L635.87 190.06 Z" fill="#f01a1a"/>
<path d="M633.8 189.15 L631.73 192.93 L635.87 192.93 Z" fill="#f01a1a"/>
<path d="M633.8 193.17 L631.73 196.95 L635.87 196.95 Z" fill="#f01a1a"/>
<path d="M633.8 197.76 L631.73 201.54 L635.87 201.54 Z" fill="#f01a1a"/>
<line x1="633.8" y1="180.13" x2="633.8" y2="199.92" stroke="#f01a1a" stroke-width="1.1" />
<line x1="628.8" y1="180.13" x2="638.8" y2="180.13" stroke="#f01a1a" stroke-width="1.1" />
<line x1="628.8" y1="199.92" x2="638.8" y2="199.92" stroke="#f01a1a" stroke-width="1.1" />
<line x1="624.3" y1="190.45" x2="643.3" y2="190.45" stroke="#f01a1a" stroke-width="1.43" />
<line x1="567.4" y1="164" x2="634.6" y2="164" stroke="#000" stroke-width="1.3" />
<text x="604.8" y="159.2" font-size="6.8" text-anchor="middle"><tspan font-style="italic">p</tspan>&lt;0.0001</text>
<line x1="567.4" y1="215.3" x2="603.3" y2="215.3" stroke="#000" stroke-width="1.3" />
<text x="586.5" y="210.4" font-size="6.8" text-anchor="middle"><tspan font-style="italic">p</tspan>=0.8929</text>
<text x="568" y="277.6" font-size="9.2" text-anchor="middle">NS</text>
<text x="604.4" y="272.4" font-size="9.1" text-anchor="end" transform="rotate(-30 604.4 272.4)">C-peptide</text>
<text x="639.4" y="272.4" font-size="9.1" text-anchor="end" transform="rotate(-30 639.4 272.4)">E-peptide</text>
<text x="1.2" y="285.5" font-size="9.5">I</text>
<line x1="25.6" y1="310.3" x2="25.6" y2="419.7" stroke="#000" stroke-width="1.3" />
<line x1="20.1" y1="419.1" x2="25.6" y2="419.1" stroke="#000" stroke-width="1.1" />
<text x="19.4" y="422.3" font-size="9.1" text-anchor="end">0</text>
<line x1="20.1" y1="397.46" x2="25.6" y2="397.46" stroke="#000" stroke-width="1.1" />
<text x="19.4" y="400.66" font-size="9.1" text-anchor="end">10</text>
<line x1="20.1" y1="375.82" x2="25.6" y2="375.82" stroke="#000" stroke-width="1.1" />
<text x="19.4" y="379.02" font-size="9.1" text-anchor="end">20</text>
<line x1="20.1" y1="354.18" x2="25.6" y2="354.18" stroke="#000" stroke-width="1.1" />
<text x="19.4" y="357.38" font-size="9.1" text-anchor="end">30</text>
<line x1="20.1" y1="332.54" x2="25.6" y2="332.54" stroke="#000" stroke-width="1.1" />
<text x="19.4" y="335.74" font-size="9.1" text-anchor="end">40</text>
<line x1="20.1" y1="310.9" x2="25.6" y2="310.9" stroke="#000" stroke-width="1.1" />
<text x="19.4" y="314.1" font-size="9.1" text-anchor="end">50</text>
<line x1="25" y1="419.1" x2="120" y2="419.1" stroke="#000" stroke-width="1.3" />
<line x1="44" y1="419.1" x2="44" y2="422.1" stroke="#000" stroke-width="1.1" />
<line x1="72.3" y1="419.1" x2="72.3" y2="422.1" stroke="#000" stroke-width="1.1" />
<line x1="100.5" y1="419.1" x2="100.5" y2="422.1" stroke="#000" stroke-width="1.1" />
<text x="7.9" y="361.2" font-size="8.9" text-anchor="middle" transform="rotate(-90 7.9 361.2)" textLength="125" lengthAdjust="spacingAndGlyphs">Granzyme B in CD8<tspan dy="-3" font-size="5.8">+</tspan><tspan dy="3"> T Cell &#160;&#160;(%)</tspan></text>
<circle cx="44" cy="395.08" r="1.6" fill="#000" />
<circle cx="44" cy="397.46" r="1.6" fill="#000" />
<circle cx="44" cy="406.55" r="1.6" fill="#000" />
<circle cx="41" cy="409.79" r="1.6" fill="#000" />
<circle cx="47" cy="409.15" r="1.6" fill="#000" />
<line x1="44" y1="396.38" x2="44" y2="410.44" stroke="#000" stroke-width="1.1" />
<line x1="39" y1="396.38" x2="49" y2="396.38" stroke="#000" stroke-width="1.1" />
<line x1="39" y1="410.44" x2="49" y2="410.44" stroke="#000" stroke-width="1.1" />
<line x1="34.5" y1="403.52" x2="53.5" y2="403.52" stroke="#000" stroke-width="1.43" />
<rect x="68.1" y="397.37" width="3.2" height="3.2" fill="#0a14f0"/>
<rect x="73.9" y="397.37" width="3.2" height="3.2" fill="#0a14f0"/>
<rect x="64.7" y="406.9" width="3.2" height="3.2" fill="#0a14f0"/>
<rect x="70.7" y="406.9" width="3.2" height="3.2" fill="#0a14f0"/>
<rect x="76.7" y="406.9" width="3.2" height="3.2" fill="#0a14f0"/>
<line x1="72.3" y1="399.62" x2="72.3" y2="409.79" stroke="#0a14f0" stroke-width="1.1" />
<line x1="67.3" y1="399.62" x2="77.3" y2="399.62" stroke="#0a14f0" stroke-width="1.1" />
<line x1="67.3" y1="409.79" x2="77.3" y2="409.79" stroke="#0a14f0" stroke-width="1.1" />
<line x1="62.8" y1="404.82" x2="81.8" y2="404.82" stroke="#0a14f0" stroke-width="1.43" />
<path d="M97.5 321.22 L95.78 324.37 L99.22 324.37 Z" fill="#f01a1a"/>
<path d="M103.5 322.3 L101.78 325.45 L105.22 325.45 Z" fill="#f01a1a"/>
<path d="M100.5 326.41 L98.78 329.56 L102.22 329.56 Z" fill="#f01a1a"/>
<path d="M100.5 329.01 L98.78 332.16 L102.22 332.16 Z" fill="#f01a1a"/>
<path d="M100.5 332.9 L98.78 336.05 L102.22 336.05 Z" fill="#f01a1a"/>
<line x1="100.5" y1="323.88" x2="100.5" y2="332.32" stroke="#f01a1a" stroke-width="1.1" />
<line x1="95.5" y1="323.88" x2="105.5" y2="323.88" stroke="#f01a1a" stroke-width="1.1" />
<line x1="95.5" y1="332.32" x2="105.5" y2="332.32" stroke="#f01a1a" stroke-width="1.1" />
<line x1="91" y1="327.78" x2="110" y2="327.78" stroke="#f01a1a" stroke-width="1.43" />
<line x1="42.9" y1="317.8" x2="101.7" y2="317.8" stroke="#000" stroke-width="1.3" />
<text x="76" y="312.2" font-size="7" text-anchor="middle"><tspan font-style="italic">p</tspan>&lt;0.0001</text>
<line x1="43.1" y1="387.9" x2="74.1" y2="387.9" stroke="#000" stroke-width="1.3" />
<text x="60.8" y="382.7" font-size="7" text-anchor="middle"><tspan font-style="italic">p</tspan>=0.9350</text>
<text x="44.7" y="431.8" font-size="9.2" text-anchor="middle">NS</text>
<text x="82.5" y="428.8" font-size="9.1" text-anchor="end" transform="rotate(-30 82.5 428.8)">C-peptide</text>
<text x="111.1" y="428.8" font-size="9.1" text-anchor="end" transform="rotate(-30 111.1 428.8)">E-peptide</text>
<text x="118.3" y="305" font-size="9.5">J</text>
<text x="130.2" y="339.6" font-size="9.1" text-anchor="middle" transform="rotate(-90 130.2 339.6)">SSC-A</text>
<line x1="123.3" y1="360" x2="123.3" y2="404.5" stroke="#000" stroke-width="1.4" />
<path d="M123.3 354.6 L120.5 361.1 L126.1 361.1 Z" fill="#000"/>
<line x1="123.3" y1="404.5" x2="245" y2="404.5" stroke="#000" stroke-width="1.4" />
<path d="M251.3 404.5 L244.8 401.7 L244.8 407.3 Z" fill="#000"/>
<text x="256.5" y="408.8" font-size="9.25" textLength="61" lengthAdjust="spacingAndGlyphs">GZMB-PE/Cy7</text>
<text x="203.1" y="421.3" font-size="9.25">Gate from CD8<tspan dy="-3" font-size="6">+</tspan></text>
<rect x="137.2" y="337.7" width="53.6" height="56" fill="#fff" stroke="#b8b8b8" stroke-width="0.8"/>
<line x1="135.8" y1="339.2" x2="137.2" y2="339.2" stroke="#777" stroke-width="0.5" />
<rect x="131.4" y="338.7" width="3.2" height="1" fill="#c4c4c4"/>
<line x1="136.4" y1="341.9" x2="137.2" y2="341.9" stroke="#999" stroke-width="0.4" />
<line x1="136.4" y1="344.6" x2="137.2" y2="344.6" stroke="#999" stroke-width="0.4" />
<line x1="136.4" y1="347.3" x2="137.2" y2="347.3" stroke="#999" stroke-width="0.4" />
<line x1="135.8" y1="350" x2="137.2" y2="350" stroke="#777" stroke-width="0.5" />
<rect x="131.4" y="349.5" width="3.2" height="1" fill="#c4c4c4"/>
<line x1="136.4" y1="352.7" x2="137.2" y2="352.7" stroke="#999" stroke-width="0.4" />
<line x1="136.4" y1="355.4" x2="137.2" y2="355.4" stroke="#999" stroke-width="0.4" />
<line x1="136.4" y1="358.1" x2="137.2" y2="358.1" stroke="#999" stroke-width="0.4" />
<line x1="135.8" y1="360.8" x2="137.2" y2="360.8" stroke="#777" stroke-width="0.5" />
<rect x="131.4" y="360.3" width="3.2" height="1" fill="#c4c4c4"/>
<line x1="136.4" y1="363.5" x2="137.2" y2="363.5" stroke="#999" stroke-width="0.4" />
<line x1="136.4" y1="366.2" x2="137.2" y2="366.2" stroke="#999" stroke-width="0.4" />
<line x1="136.4" y1="368.9" x2="137.2" y2="368.9" stroke="#999" stroke-width="0.4" />
<line x1="135.8" y1="371.6" x2="137.2" y2="371.6" stroke="#777" stroke-width="0.5" />
<rect x="131.4" y="371.1" width="3.2" height="1" fill="#c4c4c4"/>
<line x1="136.4" y1="374.3" x2="137.2" y2="374.3" stroke="#999" stroke-width="0.4" />
<line x1="136.4" y1="377" x2="137.2" y2="377" stroke="#999" stroke-width="0.4" />
<line x1="136.4" y1="379.7" x2="137.2" y2="379.7" stroke="#999" stroke-width="0.4" />
<line x1="135.8" y1="382.4" x2="137.2" y2="382.4" stroke="#777" stroke-width="0.5" />
<rect x="131.4" y="381.9" width="3.2" height="1" fill="#c4c4c4"/>
<line x1="136.4" y1="385.1" x2="137.2" y2="385.1" stroke="#999" stroke-width="0.4" />
<line x1="136.4" y1="387.8" x2="137.2" y2="387.8" stroke="#999" stroke-width="0.4" />
<line x1="136.4" y1="390.5" x2="137.2" y2="390.5" stroke="#999" stroke-width="0.4" />
<line x1="135.8" y1="393.2" x2="137.2" y2="393.2" stroke="#777" stroke-width="0.5" />
<rect x="131.4" y="392.7" width="3.2" height="1" fill="#c4c4c4"/>
<line x1="142.2" y1="393.7" x2="142.2" y2="395.1" stroke="#777" stroke-width="0.5" />
<rect x="140.9" y="396.3" width="2.6" height="1.1" fill="#c4c4c4"/>
<line x1="153.6" y1="393.7" x2="153.6" y2="395.1" stroke="#777" stroke-width="0.5" />
<rect x="152.3" y="396.3" width="2.6" height="1.1" fill="#c4c4c4"/>
<line x1="165" y1="393.7" x2="165" y2="395.1" stroke="#777" stroke-width="0.5" />
<rect x="163.7" y="396.3" width="2.6" height="1.1" fill="#c4c4c4"/>
<line x1="176.4" y1="393.7" x2="176.4" y2="395.1" stroke="#777" stroke-width="0.5" />
<rect x="175.1" y="396.3" width="2.6" height="1.1" fill="#c4c4c4"/>
<line x1="187.8" y1="393.7" x2="187.8" y2="395.1" stroke="#777" stroke-width="0.5" />
<rect x="186.5" y="396.3" width="2.6" height="1.1" fill="#c4c4c4"/>
<path d="M138.2 393.3 L189.8 393.3" fill="none" stroke="#999" stroke-width="0.5" stroke-dasharray="0.6 0.8"/>
<text x="162.2" y="335.8" font-size="9.25" text-anchor="middle">NS</text>
<ellipse cx="146.2" cy="386.7" rx="9" ry="6" fill="url(#cgK)" />
<path d="M152.23 375.23h0.6M144.91 375.42h0.6M156.11 387.71h0.6M158.41 384.18h0.6M149.78 385.27h0.6M139.56 387.43h0.6M152.47 386.99h0.6M146.72 383.77h0.6M147.64 384.09h0.6M142.73 384.95h0.6M164.43 386.81h0.6M147.78 390.07h0.6M164.35 385.58h0.6M152.15 384.09h0.6M142.71 389.01h0.6M148.21 388.16h0.6M142.32 393.15h0.6M159.74 386.86h0.6M142.13 390.37h0.6M150.5 381.5h0.6M142.06 391.95h0.6M145.33 385.06h0.6M148.11 386.53h0.6M146.18 377.05h0.6M161.94 387.7h0.6M138.31 391.6h0.6M148.98 386.79h0.6M165.62 381.6h0.6M141.49 390.58h0.6M157.84 391.92h0.6M151.42 377.22h0.6M167.36 389.45h0.6M153.1 389.17h0.6M138.72 385.49h0.6M143.91 389.55h0.6M150.71 388.04h0.6M147.7 388.04h0.6M157.28 386.18h0.6M140.7 388.75h0.6M165.02 390.52h0.6M156.48 387.89h0.6M148.71 384.45h0.6M143.67 374.55h0.6M153.73 390.02h0.6M143.45 391.98h0.6M163.8 386.66h0.6M155.98 385.87h0.6M138.8 387.24h0.6M142.03 388.3h0.6M158.44 384.95h0.6M138.02 386.72h0.6M152.28 388.82h0.6M149.82 376.85h0.6M148.36 379.09h0.6M138.38 379.46h0.6M144.2 392.36h0.6M147.91 379.1h0.6M139.21 381.37h0.6M157.5 387.16h0.6M138.74 392.57h0.6M144.91 377.34h0.6M155.6 381.13h0.6M168.48 384.83h0.6M155.67 384.52h0.6M141.04 379.26h0.6M145.52 383.65h0.6M148.45 380.23h0.6M141.44 382.19h0.6M151.44 387.21h0.6M144.41 385.63h0.6M139.86 387.34h0.6M150.74 387.59h0.6M143.86 389.59h0.6M147.05 387.96h0.6M155.38 386.72h0.6M144.55 391.75h0.6M158.93 392.94h0.6M144.49 387.66h0.6M143.16 385.24h0.6M138.33 385.42h0.6M150.12 381.96h0.6M151.18 380.08h0.6M142.8 388.72h0.6M168.97 383.22h0.6M139.7 383.77h0.6M146.51 386.56h0.6M155.25 390.75h0.6M142.49 384.88h0.6M139.4 390.44h0.6M147.31 390.81h0.6M154.87 385.86h0.6M165.53 384.02h0.6M140.45 384.5h0.6M156.67 386h0.6M139.4 388.92h0.6M156.62 386.13h0.6M143.88 392.24h0.6M155.25 391.53h0.6M139.17 388.15h0.6M149.54 377.52h0.6M157.26 387.21h0.6M147.55 383.02h0.6M145.62 389.58h0.6M153.68 386.41h0.6M138.25 383.14h0.6M138.69 381.33h0.6M146.01 384.19h0.6M146.7 382.48h0.6M138.23 385.75h0.6M142.99 392.58h0.6M137.89 387.75h0.6M145.82 380.02h0.6M152.89 387.57h0.6M154.82 382.63h0.6M161.76 387.49h0.6M142.89 379.87h0.6M139.45 389.99h0.6M149.76 384.05h0.6M161.87 390.54h0.6M142.93 381.69h0.6M150.43 385.22h0.6M138.14 386.77h0.6M153.01 392.16h0.6M147.48 384.96h0.6M149.65 379.57h0.6M160.43 387.98h0.6M178.11 384.31h0.6M145.34 385.19h0.6M149.66 383.75h0.6M145.07 384.09h0.6M153.48 392.25h0.6M141.63 388.23h0.6M144.27 385.66h0.6M153.03 389.77h0.6M148.99 387.45h0.6M149.69 384.84h0.6M139.09 388.51h0.6M137.76 383.29h0.6M154.27 384.88h0.6M159.27 389.35h0.6M153.6 392.44h0.6M145.25 393.01h0.6M141.4 386.41h0.6M147.05 391.49h0.6M145.73 383.57h0.6M143.2 379.6h0.6M157.69 390.49h0.6M150.1 388.1h0.6" fill="none" stroke="#777" stroke-width="0.6" stroke-linecap="round" opacity="0.8"/>
<ellipse cx="146.2" cy="386.7" rx="8" ry="4.5" fill="none" stroke="#666" stroke-width="0.45"/>
<ellipse cx="146.2" cy="387.2" rx="5" ry="3" fill="none" stroke="#666" stroke-width="0.45"/>
<ellipse cx="165.2" cy="385.7" rx="6.5" ry="3.2" fill="none" stroke="#666" stroke-width="0.45"/>
<ellipse cx="165.2" cy="385.7" rx="4" ry="1.8" fill="none" stroke="#666" stroke-width="0.45"/>
<ellipse cx="165.2" cy="385.7" rx="2" ry="0.9" fill="none" stroke="#666" stroke-width="0.45"/>
<ellipse cx="144.2" cy="389.7" rx="4" ry="2.6" fill="#444" opacity="0.6"/>
<ellipse cx="164.2" cy="384.7" rx="10" ry="5" fill="url(#cgK)" />
<path d="M169.2 377.54h0.6M156.45 384.99h0.6M178.95 384.72h0.6M147.61 385.96h0.6M152.22 389.61h0.6M161.64 391.82h0.6M162.89 380.6h0.6M149.5 383.26h0.6M168.65 389.46h0.6M166.87 381.74h0.6M169.21 378.95h0.6M169.25 381.7h0.6M179.16 388.67h0.6M167.86 380.61h0.6M169.71 386.17h0.6M158.71 382.21h0.6M176.91 383.1h0.6M168.63 390.26h0.6M149.35 391.85h0.6M174.33 382.11h0.6M154.68 379.82h0.6M173.55 374.41h0.6M173.52 385.37h0.6M157.36 382.67h0.6M160.53 383.78h0.6M173.1 381.36h0.6M175.15 388.65h0.6M161.68 387.14h0.6M158.78 384.92h0.6M169.2 392.46h0.6M163.69 384.1h0.6M164.53 383.97h0.6M153.41 392.22h0.6M157.98 382.35h0.6M157.07 387.47h0.6M174.09 386.09h0.6M163.97 380.67h0.6M171.65 384.34h0.6M185.13 383.6h0.6M154.11 377.34h0.6M146.36 387.16h0.6M167.64 380.08h0.6M148.82 385.84h0.6M160.63 385.62h0.6M164.03 381.56h0.6M146.74 385.24h0.6M165.19 385.44h0.6M173.72 388.44h0.6M159.26 387.06h0.6M142.34 387.45h0.6M163.89 388.81h0.6M174.19 380.91h0.6M162.92 389.21h0.6M158.71 385h0.6M158.07 387.08h0.6M167.18 381.37h0.6M149.85 375.75h0.6M172.8 382.89h0.6M157.19 382.58h0.6" fill="none" stroke="#999" stroke-width="0.6" stroke-linecap="round" opacity="0.8"/>
<ellipse cx="154.2" cy="393.5" rx="2.2" ry="0.9" fill="#111" />
<path d="M160.7 393.4 L160.7 372.7 L162.2 368.7 L172.7 368.2 L190.8 369.2" fill="none" stroke="#111" stroke-width="0.8"/>
<text x="189.6" y="378.7" font-size="9.4" text-anchor="end">10.0</text>
<rect x="200.8" y="337.7" width="53.6" height="56" fill="#fff" stroke="#b8b8b8" stroke-width="0.8"/>
<line x1="199.4" y1="339.2" x2="200.8" y2="339.2" stroke="#777" stroke-width="0.5" />
<rect x="195" y="338.7" width="3.2" height="1" fill="#c4c4c4"/>
<line x1="200" y1="341.9" x2="200.8" y2="341.9" stroke="#999" stroke-width="0.4" />
<line x1="200" y1="344.6" x2="200.8" y2="344.6" stroke="#999" stroke-width="0.4" />
<line x1="200" y1="347.3" x2="200.8" y2="347.3" stroke="#999" stroke-width="0.4" />
<line x1="199.4" y1="350" x2="200.8" y2="350" stroke="#777" stroke-width="0.5" />
<rect x="195" y="349.5" width="3.2" height="1" fill="#c4c4c4"/>
<line x1="200" y1="352.7" x2="200.8" y2="352.7" stroke="#999" stroke-width="0.4" />
<line x1="200" y1="355.4" x2="200.8" y2="355.4" stroke="#999" stroke-width="0.4" />
<line x1="200" y1="358.1" x2="200.8" y2="358.1" stroke="#999" stroke-width="0.4" />
<line x1="199.4" y1="360.8" x2="200.8" y2="360.8" stroke="#777" stroke-width="0.5" />
<rect x="195" y="360.3" width="3.2" height="1" fill="#c4c4c4"/>
<line x1="200" y1="363.5" x2="200.8" y2="363.5" stroke="#999" stroke-width="0.4" />
<line x1="200" y1="366.2" x2="200.8" y2="366.2" stroke="#999" stroke-width="0.4" />
<line x1="200" y1="368.9" x2="200.8" y2="368.9" stroke="#999" stroke-width="0.4" />
<line x1="199.4" y1="371.6" x2="200.8" y2="371.6" stroke="#777" stroke-width="0.5" />
<rect x="195" y="371.1" width="3.2" height="1" fill="#c4c4c4"/>
<line x1="200" y1="374.3" x2="200.8" y2="374.3" stroke="#999" stroke-width="0.4" />
<line x1="200" y1="377" x2="200.8" y2="377" stroke="#999" stroke-width="0.4" />
<line x1="200" y1="379.7" x2="200.8" y2="379.7" stroke="#999" stroke-width="0.4" />
<line x1="199.4" y1="382.4" x2="200.8" y2="382.4" stroke="#777" stroke-width="0.5" />
<rect x="195" y="381.9" width="3.2" height="1" fill="#c4c4c4"/>
<line x1="200" y1="385.1" x2="200.8" y2="385.1" stroke="#999" stroke-width="0.4" />
<line x1="200" y1="387.8" x2="200.8" y2="387.8" stroke="#999" stroke-width="0.4" />
<line x1="200" y1="390.5" x2="200.8" y2="390.5" stroke="#999" stroke-width="0.4" />
<line x1="199.4" y1="393.2" x2="200.8" y2="393.2" stroke="#777" stroke-width="0.5" />
<rect x="195" y="392.7" width="3.2" height="1" fill="#c4c4c4"/>
<line x1="205.8" y1="393.7" x2="205.8" y2="395.1" stroke="#777" stroke-width="0.5" />
<rect x="204.5" y="396.3" width="2.6" height="1.1" fill="#c4c4c4"/>
<line x1="217.2" y1="393.7" x2="217.2" y2="395.1" stroke="#777" stroke-width="0.5" />
<rect x="215.9" y="396.3" width="2.6" height="1.1" fill="#c4c4c4"/>
<line x1="228.6" y1="393.7" x2="228.6" y2="395.1" stroke="#777" stroke-width="0.5" />
<rect x="227.3" y="396.3" width="2.6" height="1.1" fill="#c4c4c4"/>
<line x1="240" y1="393.7" x2="240" y2="395.1" stroke="#777" stroke-width="0.5" />
<rect x="238.7" y="396.3" width="2.6" height="1.1" fill="#c4c4c4"/>
<line x1="251.4" y1="393.7" x2="251.4" y2="395.1" stroke="#777" stroke-width="0.5" />
<rect x="250.1" y="396.3" width="2.6" height="1.1" fill="#c4c4c4"/>
<path d="M201.8 393.3 L253.4 393.3" fill="none" stroke="#999" stroke-width="0.5" stroke-dasharray="0.6 0.8"/>
<text x="231.3" y="335.8" font-size="9.25" text-anchor="middle">C-peptide</text>
<ellipse cx="210.8" cy="385.7" rx="12" ry="7.5" fill="url(#cgB)" />
<path d="M208.24 388.26h0.6M208.54 384.12h0.6M201.5 384.63h0.6M221.92 387.82h0.6M221.17 386.94h0.6M214.75 386.63h0.6M215.86 388.19h0.6M201.9 383.36h0.6M213.85 385.47h0.6M216.01 382.49h0.6M213.89 387.67h0.6M216.37 391.69h0.6M204.6 382h0.6M207.36 385.17h0.6M217.12 386.94h0.6M206.33 380.92h0.6M205.59 391.8h0.6M202.72 386.92h0.6M215.07 378.25h0.6M211.28 392.23h0.6M209.74 381.61h0.6M215.77 385.39h0.6M217.49 390.43h0.6M225.21 387.51h0.6M211.99 379.2h0.6M216.95 382.64h0.6M206.27 379.38h0.6M223.69 375.54h0.6M225.23 388.59h0.6M214.37 382.02h0.6M221.82 386.49h0.6M213.26 387.87h0.6M226.74 388.8h0.6M215.99 388.44h0.6M220.35 388.35h0.6M219.22 376.64h0.6M208.96 390.8h0.6M216.32 384.95h0.6M214.05 388.95h0.6M212 391.43h0.6M204.18 383.63h0.6M221.22 385.83h0.6M202 390.43h0.6M225.45 383.48h0.6M209.31 384.21h0.6M224.85 380.57h0.6M223.41 379.36h0.6M202.93 388.86h0.6M222.09 390h0.6M214.25 386.41h0.6M212.32 388.58h0.6M209.04 387.09h0.6M216.53 385.7h0.6M218.44 388.53h0.6M230.91 387.32h0.6M206.52 383.84h0.6M210.67 390.32h0.6M207.43 387.63h0.6M229.17 372.88h0.6M214.78 386.89h0.6M206.49 388.98h0.6M213.62 383.09h0.6M235.1 387.48h0.6M205.26 385.2h0.6M208.54 385.39h0.6M220.89 379.86h0.6M210.13 390.47h0.6M219.36 393.16h0.6M207.39 388.82h0.6M221.72 372.29h0.6M221.69 378.46h0.6M217.63 378.24h0.6M212.56 391.67h0.6M209.31 386.66h0.6M218.77 386.41h0.6M221.28 384.23h0.6M238.25 379.97h0.6M219.95 384.37h0.6M212.12 389.23h0.6M213.02 388.89h0.6M216.95 380.88h0.6M223.46 389.43h0.6M225.53 381.01h0.6M210.81 380h0.6M220.68 384.81h0.6M209.84 382.69h0.6M214.8 387.75h0.6M225.78 380.6h0.6M222.16 393.14h0.6M225.32 384.8h0.6M203.36 390.79h0.6M211.95 386.32h0.6M225.04 384.38h0.6M213.97 382.64h0.6M210.7 389.86h0.6M211.59 392.33h0.6M210.19 390.9h0.6M204.08 390.1h0.6M208.88 385.56h0.6M204.88 386.87h0.6M228.71 385.92h0.6M216.11 390.7h0.6M208.82 379.4h0.6M205.25 391.07h0.6M220.87 389.66h0.6M210.88 389.73h0.6M212.46 379.81h0.6M220.03 382.87h0.6M201.78 381.85h0.6M204.38 375.99h0.6M218.05 384.32h0.6M213.71 383.41h0.6M218.6 389.44h0.6M217.46 387.33h0.6M224.14 389h0.6M215.31 375.28h0.6M219.77 392.25h0.6M207.83 383.35h0.6M230.2 376.91h0.6M201.52 389.15h0.6M229.66 385.1h0.6M216.41 390.21h0.6M201.74 385.25h0.6M213.73 389.83h0.6M210.45 384.72h0.6M219.72 386.21h0.6M202.27 381.49h0.6M237.47 391.4h0.6M217.17 372.74h0.6M217.01 388.1h0.6M227.64 387.84h0.6M210.13 388.31h0.6M214.05 382.19h0.6M213.71 386.62h0.6M206.82 380.83h0.6M232 390.89h0.6M227.83 390.65h0.6M229.01 389.75h0.6M202.08 387h0.6M210.21 388.31h0.6M203.52 385.08h0.6M215.39 387.58h0.6M217.18 386.74h0.6M207.56 389.65h0.6M211.29 381.57h0.6M204.54 385.7h0.6M209.7 386.48h0.6M210.8 386.58h0.6M209.46 379.41h0.6M215.01 390.97h0.6M215.15 384.75h0.6M215.26 380.87h0.6M201.5 389.4h0.6M206.98 378.85h0.6M203.17 388.3h0.6M215.77 386.58h0.6M225.64 389.23h0.6M210.59 388.68h0.6M227.35 390.56h0.6M221.04 380.29h0.6M209.32 389.35h0.6M207.84 391.04h0.6M216.76 390.24h0.6M223.2 384.62h0.6M207.37 390.07h0.6M220.6 385.73h0.6M214.39 391.35h0.6M218.63 385.82h0.6M219.34 388.4h0.6M212.86 385.98h0.6M208.37 389.13h0.6M210.85 378.38h0.6M206.44 375.66h0.6M203.97 388.54h0.6M216.46 385.43h0.6M208.48 378.62h0.6M229.08 388.28h0.6M221.73 381.29h0.6M208.95 376.6h0.6M218.6 390.38h0.6M217.1 376.89h0.6M204.51 378.69h0.6M211.12 386.95h0.6M217.14 389.21h0.6M225.83 391.52h0.6M209.99 385.73h0.6M215.7 377.77h0.6M208.81 384.14h0.6M210.17 381.9h0.6M217.81 387.47h0.6M209.92 382.34h0.6M209.06 372.09h0.6M212.27 378.81h0.6M208.29 384.13h0.6M215.4 388.76h0.6M210.44 381.44h0.6M209.36 385.37h0.6M218.14 387.17h0.6M203.57 378.93h0.6M207.07 382h0.6M205.89 386.23h0.6M216.03 383.63h0.6M234.04 384.09h0.6M221.82 386.31h0.6" fill="none" stroke="#6aa4ee" stroke-width="0.6" stroke-linecap="round" opacity="0.8"/>
<ellipse cx="210.8" cy="385.7" rx="9" ry="4.5" fill="none" stroke="#fff" stroke-width="0.45"/>
<ellipse cx="210.8" cy="386.2" rx="6" ry="3" fill="none" stroke="#fff" stroke-width="0.45"/>
<ellipse cx="210.8" cy="386.7" rx="3" ry="1.8" fill="none" stroke="#fff" stroke-width="0.45"/>
<ellipse cx="229.8" cy="384.2" rx="8" ry="3.4" fill="none" stroke="#fff" stroke-width="0.45"/>
<ellipse cx="229.8" cy="384.2" rx="4.5" ry="1.8" fill="none" stroke="#fff" stroke-width="0.45"/>
<ellipse cx="229.8" cy="384.2" rx="9" ry="5" fill="url(#cgB)" />
<path d="M239.66 388.66h0.6M235.64 385.74h0.6M235.97 384.18h0.6M223.53 380.75h0.6M219.73 385.56h0.6M235.82 391.25h0.6M235.36 385.76h0.6M236.83 384.59h0.6M213.57 388.93h0.6M226.59 385.55h0.6M241.35 386.35h0.6M220.31 388.3h0.6M222.52 389.41h0.6M216.77 384.29h0.6M239.47 381.13h0.6M231.86 385.34h0.6M239.63 382.66h0.6M217.01 381.12h0.6M235.21 381.97h0.6M218.33 390.63h0.6M239.92 389.3h0.6M241.07 387.72h0.6M223.28 374.85h0.6M235.7 380.26h0.6M231.46 386.36h0.6M219.23 383.34h0.6M247.32 387.95h0.6M215.82 383.91h0.6M231.06 387.14h0.6M238.03 384.47h0.6M228.8 388.37h0.6M217.59 389.5h0.6M234.14 382.63h0.6M225.49 385.66h0.6M217.13 374.92h0.6M234.38 390.71h0.6M229.35 384.82h0.6M230.54 380.56h0.6M234.43 387.95h0.6M230.86 388.28h0.6M220.97 385.58h0.6M223.49 382.46h0.6M232.94 385.15h0.6M238.36 387.21h0.6M219.37 389.79h0.6M215.68 384.01h0.6M233.02 384.02h0.6M234.72 384.43h0.6M220.92 387.62h0.6M229.47 380.48h0.6M230.47 384.13h0.6M232.97 381.84h0.6M231.45 383.47h0.6M244.63 382.73h0.6M241.63 383.88h0.6M226.3 384.8h0.6M221.48 381.32h0.6M224.66 384.59h0.6M238.35 387.86h0.6M225.33 384.81h0.6M216.36 386.59h0.6M227.61 379.79h0.6M223.11 386.54h0.6M230.71 386.82h0.6M225.74 384.83h0.6M227.6 378h0.6M228.33 383.65h0.6M223.51 387.41h0.6M249.45 390h0.6M230.18 379.48h0.6M228.13 381.63h0.6M231.22 389.05h0.6M229.31 378.43h0.6M242.19 384.43h0.6M242.27 380.63h0.6M252.67 379.23h0.6" fill="none" stroke="#7ab0f0" stroke-width="0.6" stroke-linecap="round" opacity="0.8"/>
<ellipse cx="217.8" cy="393.5" rx="2.2" ry="0.9" fill="#111" />
<path d="M224.3 393.4 L224.3 372.7 L225.8 368.7 L236.3 368.2 L254.4 369.2" fill="none" stroke="#111" stroke-width="0.8"/>
<text x="253.2" y="378.7" font-size="9.4" text-anchor="end">9.18</text>
<rect x="264.6" y="337.7" width="53.6" height="56" fill="#fff" stroke="#b8b8b8" stroke-width="0.8"/>
<line x1="263.2" y1="339.2" x2="264.6" y2="339.2" stroke="#777" stroke-width="0.5" />
<rect x="258.8" y="338.7" width="3.2" height="1" fill="#c4c4c4"/>
<line x1="263.8" y1="341.9" x2="264.6" y2="341.9" stroke="#999" stroke-width="0.4" />
<line x1="263.8" y1="344.6" x2="264.6" y2="344.6" stroke="#999" stroke-width="0.4" />
<line x1="263.8" y1="347.3" x2="264.6" y2="347.3" stroke="#999" stroke-width="0.4" />
<line x1="263.2" y1="350" x2="264.6" y2="350" stroke="#777" stroke-width="0.5" />
<rect x="258.8" y="349.5" width="3.2" height="1" fill="#c4c4c4"/>
<line x1="263.8" y1="352.7" x2="264.6" y2="352.7" stroke="#999" stroke-width="0.4" />
<line x1="263.8" y1="355.4" x2="264.6" y2="355.4" stroke="#999" stroke-width="0.4" />
<line x1="263.8" y1="358.1" x2="264.6" y2="358.1" stroke="#999" stroke-width="0.4" />
<line x1="263.2" y1="360.8" x2="264.6" y2="360.8" stroke="#777" stroke-width="0.5" />
<rect x="258.8" y="360.3" width="3.2" height="1" fill="#c4c4c4"/>
<line x1="263.8" y1="363.5" x2="264.6" y2="363.5" stroke="#999" stroke-width="0.4" />
<line x1="263.8" y1="366.2" x2="264.6" y2="366.2" stroke="#999" stroke-width="0.4" />
<line x1="263.8" y1="368.9" x2="264.6" y2="368.9" stroke="#999" stroke-width="0.4" />
<line x1="263.2" y1="371.6" x2="264.6" y2="371.6" stroke="#777" stroke-width="0.5" />
<rect x="258.8" y="371.1" width="3.2" height="1" fill="#c4c4c4"/>
<line x1="263.8" y1="374.3" x2="264.6" y2="374.3" stroke="#999" stroke-width="0.4" />
<line x1="263.8" y1="377" x2="264.6" y2="377" stroke="#999" stroke-width="0.4" />
<line x1="263.8" y1="379.7" x2="264.6" y2="379.7" stroke="#999" stroke-width="0.4" />
<line x1="263.2" y1="382.4" x2="264.6" y2="382.4" stroke="#777" stroke-width="0.5" />
<rect x="258.8" y="381.9" width="3.2" height="1" fill="#c4c4c4"/>
<line x1="263.8" y1="385.1" x2="264.6" y2="385.1" stroke="#999" stroke-width="0.4" />
<line x1="263.8" y1="387.8" x2="264.6" y2="387.8" stroke="#999" stroke-width="0.4" />
<line x1="263.8" y1="390.5" x2="264.6" y2="390.5" stroke="#999" stroke-width="0.4" />
<line x1="263.2" y1="393.2" x2="264.6" y2="393.2" stroke="#777" stroke-width="0.5" />
<rect x="258.8" y="392.7" width="3.2" height="1" fill="#c4c4c4"/>
<line x1="269.6" y1="393.7" x2="269.6" y2="395.1" stroke="#777" stroke-width="0.5" />
<rect x="268.3" y="396.3" width="2.6" height="1.1" fill="#c4c4c4"/>
<line x1="281" y1="393.7" x2="281" y2="395.1" stroke="#777" stroke-width="0.5" />
<rect x="279.7" y="396.3" width="2.6" height="1.1" fill="#c4c4c4"/>
<line x1="292.4" y1="393.7" x2="292.4" y2="395.1" stroke="#777" stroke-width="0.5" />
<rect x="291.1" y="396.3" width="2.6" height="1.1" fill="#c4c4c4"/>
<line x1="303.8" y1="393.7" x2="303.8" y2="395.1" stroke="#777" stroke-width="0.5" />
<rect x="302.5" y="396.3" width="2.6" height="1.1" fill="#c4c4c4"/>
<line x1="315.2" y1="393.7" x2="315.2" y2="395.1" stroke="#777" stroke-width="0.5" />
<rect x="313.9" y="396.3" width="2.6" height="1.1" fill="#c4c4c4"/>
<path d="M265.6 393.3 L317.2 393.3" fill="none" stroke="#999" stroke-width="0.5" stroke-dasharray="0.6 0.8"/>
<text x="294.4" y="335.8" font-size="9.25" text-anchor="middle">E-peptide</text>
<ellipse cx="276.6" cy="385.7" rx="13" ry="7.5" fill="url(#cgR)" />
<path d="M266.25 386.81h0.6M289.59 385.94h0.6M280.22 384.48h0.6M286.99 386.94h0.6M273.12 380.45h0.6M275.6 382.81h0.6M277 388.12h0.6M283.93 388.17h0.6M268.49 378.55h0.6M272.44 386.71h0.6M275.81 389.11h0.6M279.28 384.55h0.6M267.34 389.71h0.6M288.04 386.47h0.6M281.06 384.35h0.6M272.01 384.25h0.6M277.01 386.32h0.6M288.46 388.82h0.6M281.2 385.93h0.6M266.88 388.12h0.6M273.46 384.01h0.6M270.66 384.22h0.6M289.8 387.82h0.6M271.69 383.94h0.6M282.19 385.67h0.6M269.14 373.9h0.6M277.85 392.55h0.6M286.72 386.97h0.6M269.86 379.77h0.6M277.32 383.6h0.6M266.19 382.94h0.6M274.71 385.27h0.6M279.6 381.45h0.6M269.63 387.1h0.6M267.45 387.23h0.6M289.75 389.43h0.6M291.96 390.98h0.6M295.52 387.08h0.6M281.16 380.21h0.6M274.51 382.04h0.6M275.7 380.46h0.6M267.97 388.52h0.6M283.33 382h0.6M273.26 383.04h0.6M281.31 382.48h0.6M305.03 389.94h0.6M291.57 385.11h0.6M280.49 385.83h0.6M279.41 390.5h0.6M272.9 387.88h0.6M271.07 384.67h0.6M288.59 389h0.6M275.25 383.96h0.6M277.56 380.81h0.6M281.68 383.72h0.6M272.53 377.31h0.6M285.98 381.71h0.6M279.41 386.62h0.6M269.92 385.14h0.6M273.43 384.17h0.6M278.07 382.22h0.6M283.42 385.95h0.6M271.42 387.69h0.6M310.76 388.54h0.6M287.17 381.67h0.6M280.01 384.71h0.6M268.02 380.81h0.6M275.66 383.41h0.6M272.83 380.48h0.6M290.73 387.92h0.6M274.63 378.75h0.6M278.72 384.75h0.6M271.69 381.1h0.6M283.06 387.06h0.6M271.19 383.71h0.6M286.05 387.56h0.6M295.36 387.1h0.6M303.86 386.37h0.6M297.33 384.89h0.6M284.6 388.57h0.6M279.36 389h0.6M280.87 387.32h0.6M304.43 380.52h0.6M265.95 390.89h0.6M277.34 389.53h0.6M269.35 385.33h0.6M281.69 386.03h0.6M277.77 384.06h0.6M270.47 383.53h0.6M284.83 387.14h0.6M295.7 384.36h0.6M297.32 379.01h0.6M294.25 377.83h0.6M281.4 385.25h0.6M273.18 389.13h0.6M266.45 382.16h0.6M270.53 387.73h0.6M274.58 391.19h0.6M265.64 381.55h0.6M270.03 386.88h0.6M268.63 388.26h0.6M283.2 391.2h0.6M283.13 393h0.6M273.35 383.41h0.6M269.55 382.48h0.6M278.26 375.36h0.6M275.82 382.27h0.6M267 384.52h0.6M290.45 386.46h0.6M271.59 385.5h0.6M274.74 381.7h0.6M272.46 385.3h0.6M301.33 386.46h0.6M282.63 386.44h0.6M279.16 387.62h0.6M292.74 371.09h0.6M270.07 381.66h0.6M286.59 381.87h0.6M287.75 391.44h0.6M271.08 388.77h0.6M271.95 390.16h0.6M282.84 391.97h0.6M286.29 380.92h0.6M293.27 386.15h0.6M289.06 386.42h0.6M287.6 380.08h0.6M292.06 381.13h0.6M275.72 388.46h0.6M277.71 390.16h0.6M276.48 381.08h0.6M265.47 381.98h0.6M278.89 385.2h0.6M274.19 383.73h0.6M281.62 388.27h0.6M278.14 388.99h0.6M272.07 380.88h0.6M299.9 370.46h0.6M292.66 382.6h0.6M272.7 385.74h0.6M280.56 380.99h0.6M290.26 384.27h0.6M301.28 379.34h0.6M285.46 388.08h0.6M290.96 380.2h0.6M283.53 385.08h0.6M283.3 385.22h0.6M296.83 389.11h0.6M270.18 384.07h0.6M281.04 382.15h0.6M282.94 388.76h0.6M287.54 386.85h0.6M278.84 380.29h0.6M279.74 385.38h0.6M279.45 388.17h0.6M270.05 384.2h0.6M269.95 380.42h0.6M282.76 374.75h0.6M282.8 389.69h0.6M287.32 384.46h0.6M273.81 391.29h0.6M273.38 384.02h0.6M289.6 384.35h0.6M276.25 392.58h0.6M286.25 384.26h0.6M283.87 385.99h0.6M289.18 387.91h0.6M277.12 386.54h0.6M271.09 386.27h0.6M273.69 389.02h0.6M283.42 392.1h0.6M286.34 383.82h0.6M270.34 382.32h0.6M288.62 382.47h0.6M294.4 387.21h0.6M277.45 387.2h0.6M297.51 386.86h0.6M274.01 381.14h0.6M291.91 389.27h0.6M269.87 374.15h0.6M289.96 388.07h0.6M265.95 391.26h0.6M284.73 382.91h0.6M305.64 388.57h0.6M271.91 390.8h0.6M294.61 391.96h0.6M283.75 378.88h0.6M278.05 389.52h0.6M272.75 386.24h0.6M287.38 384.23h0.6M283.29 384.78h0.6M269.5 381.57h0.6M288.28 386.34h0.6M303.8 383.63h0.6M283.24 385.32h0.6M285.58 386.47h0.6M282.13 385.82h0.6M270.08 384.14h0.6M268.34 382.56h0.6M287.83 392.2h0.6M282.22 383.58h0.6M270.71 382.28h0.6M268.65 377.88h0.6M268.3 381.44h0.6M286.15 388.41h0.6M279.69 377.8h0.6M287.81 388.26h0.6M285.94 391.53h0.6M272.17 379.84h0.6M290.01 383.27h0.6M285.58 386.02h0.6M275.27 383.75h0.6M293.24 384.01h0.6M277.23 382.66h0.6M298.93 386.13h0.6M273.39 381.57h0.6M268.8 392.59h0.6M300.15 378.83h0.6M286.89 387.88h0.6M273.52 386.13h0.6M287.25 381.32h0.6M293.22 389.84h0.6M282.64 382.63h0.6M267.54 386.17h0.6M293.5 388.38h0.6M279.14 387.49h0.6M280.77 384.49h0.6M277.83 376.53h0.6M276.55 390.52h0.6M294.51 384.34h0.6M275.6 389.42h0.6M273.81 382.08h0.6M294.28 385.11h0.6M277.52 386.65h0.6M271.79 384.15h0.6M280.52 381.08h0.6M283.2 389.09h0.6M280.33 381.31h0.6M280.77 384.81h0.6M285.6 388.12h0.6M266.34 386.77h0.6M278.81 391.06h0.6M296.98 378.43h0.6M270.65 382.96h0.6M271.01 384.25h0.6M294.68 389.12h0.6M275.91 388.64h0.6M278.99 383.39h0.6M277.13 388.56h0.6M289.58 380.97h0.6M278.39 387.45h0.6M281.41 384.25h0.6M272.89 378.24h0.6M265.92 382.7h0.6M268.89 387.75h0.6M272.79 383.43h0.6M268.15 386.26h0.6M276.25 385.49h0.6M281.22 375.72h0.6M276.28 379.62h0.6M291.55 375.8h0.6M275.5 388.65h0.6M275.5 386.52h0.6" fill="none" stroke="#f05a5a" stroke-width="0.6" stroke-linecap="round" opacity="0.8"/>
<ellipse cx="276.6" cy="385.7" rx="10" ry="4.8" fill="none" stroke="#fff" stroke-width="0.45"/>
<ellipse cx="276.6" cy="386.2" rx="6" ry="3" fill="none" stroke="#fff" stroke-width="0.45"/>
<ellipse cx="276.6" cy="386.7" rx="3.5" ry="1.8" fill="none" stroke="#fff" stroke-width="0.45"/>
<ellipse cx="297.6" cy="383.7" rx="10" ry="4" fill="none" stroke="#fff" stroke-width="0.45"/>
<ellipse cx="297.6" cy="383.7" rx="6" ry="2.4" fill="none" stroke="#fff" stroke-width="0.45"/>
<ellipse cx="297.6" cy="383.7" rx="3" ry="1.2" fill="none" stroke="#fff" stroke-width="0.45"/>
<ellipse cx="296.6" cy="383.7" rx="11" ry="6" fill="url(#cgR)" />
<path d="M288.02 381.86h0.6M291.21 382.42h0.6M303.1 376.83h0.6M293.57 381.76h0.6M288.65 383.24h0.6M299.32 383.67h0.6M304.41 379.51h0.6M291.19 385.91h0.6M292.08 379.76h0.6M291.4 378.28h0.6M306.92 388.77h0.6M294.55 382.91h0.6M301.43 383.75h0.6M303.73 382.47h0.6M283.77 390.07h0.6M292.13 388.34h0.6M293.56 384.27h0.6M281.64 379.79h0.6M300.16 386.07h0.6M294.49 384.27h0.6M279.99 383.86h0.6M290.52 379.56h0.6M299.74 381.9h0.6M288.65 382.11h0.6M293.06 382.54h0.6M297.25 381.92h0.6M304.8 389.98h0.6M305.68 382.32h0.6M290.81 385.24h0.6M294.67 389.18h0.6M298.57 385.52h0.6M291.4 384.36h0.6M286.68 377.73h0.6M298.37 379.19h0.6M291.07 387.19h0.6M310.8 383.9h0.6M292.72 386.76h0.6M305.2 385.8h0.6M288.83 381.72h0.6M305.79 379.33h0.6M297.19 388.58h0.6M305.83 381.12h0.6M294 382.84h0.6M286.61 384h0.6M288.96 386.13h0.6M286.96 381.17h0.6M291.19 383.85h0.6M274.5 387.49h0.6M294.52 384.25h0.6M307.74 383.79h0.6M300.37 384.25h0.6M304.28 386.48h0.6M306.96 383.49h0.6M287.28 384.8h0.6M286.8 383.67h0.6M293.74 375.25h0.6M293.56 379.73h0.6M284.96 376.62h0.6M300.37 386.12h0.6M286.55 379.55h0.6M289.11 379.54h0.6M301.52 379.69h0.6M304.76 374.12h0.6M280.24 386.83h0.6M292.86 375.48h0.6M315.66 386.23h0.6M299.03 373.51h0.6M303.93 383.32h0.6M294.21 381.77h0.6M279.9 378.65h0.6M299.58 387.17h0.6M301.79 384.96h0.6M297.66 385.43h0.6M315.41 383.68h0.6M282.13 385.19h0.6M292.91 379.12h0.6M284.81 386.43h0.6M289.95 382.63h0.6M288.28 387.93h0.6M292.29 381.73h0.6M282.44 378.51h0.6M305.63 379.5h0.6M305.14 385.49h0.6M299.17 384.42h0.6M296.31 388.12h0.6M297.35 378.08h0.6M293.79 389.74h0.6M285.9 383.51h0.6M295.77 388h0.6M288.72 389.11h0.6M286.87 384.17h0.6M286.42 384.36h0.6M291.28 377.77h0.6M299.5 379.83h0.6M302.89 373.74h0.6M310.96 383.39h0.6M312.59 386.8h0.6M297.44 383.08h0.6M292.88 386.82h0.6M295.86 378.22h0.6M295.43 386.22h0.6M298.57 385.26h0.6M301.92 374.63h0.6M299.4 390.19h0.6M302.2 382.91h0.6M287.89 381.82h0.6M314.54 382.43h0.6M302.6 383.97h0.6M303.39 379.43h0.6M280.37 382.66h0.6M298.57 373.79h0.6M295.3 384.81h0.6M295.58 382.5h0.6M280.24 380.54h0.6M286.86 386.97h0.6M299.1 385.76h0.6M282.46 378.76h0.6M298.86 383.7h0.6" fill="none" stroke="#f06a6a" stroke-width="0.6" stroke-linecap="round" opacity="0.8"/>
<ellipse cx="281.6" cy="393.5" rx="2.2" ry="0.9" fill="#111" />
<path d="M288.1 393.4 L288.1 372.7 L289.6 368.7 L300.1 368.2 L318.2 369.2" fill="none" stroke="#111" stroke-width="0.8"/>
<text x="317" y="378.7" font-size="9.4" text-anchor="end">42.1</text>
<text x="323.5" y="285.8" font-size="9.5">K</text>
<line x1="367.6" y1="304.9" x2="367.6" y2="416.5" stroke="#000" stroke-width="1.3" />
<line x1="362.6" y1="415.9" x2="367.6" y2="415.9" stroke="#000" stroke-width="1.1" />
<text x="362.8" y="419.1" font-size="9.7" text-anchor="end">0</text>
<line x1="362.6" y1="379.1" x2="367.6" y2="379.1" stroke="#000" stroke-width="1.1" />
<text x="362.8" y="382.3" font-size="9.7" text-anchor="end">10</text>
<line x1="362.6" y1="342.3" x2="367.6" y2="342.3" stroke="#000" stroke-width="1.1" />
<text x="362.8" y="345.5" font-size="9.7" text-anchor="end">20</text>
<line x1="362.6" y1="305.5" x2="367.6" y2="305.5" stroke="#000" stroke-width="1.1" />
<text x="362.8" y="308.7" font-size="9.7" text-anchor="end">30</text>
<line x1="367" y1="415.9" x2="461.6" y2="415.9" stroke="#000" stroke-width="1.3" />
<line x1="386" y1="415.9" x2="386" y2="418.9" stroke="#000" stroke-width="1.1" />
<line x1="414.2" y1="415.9" x2="414.2" y2="418.9" stroke="#000" stroke-width="1.1" />
<line x1="442.4" y1="415.9" x2="442.4" y2="418.9" stroke="#000" stroke-width="1.1" />
<text x="349" y="359.5" font-size="8.9" text-anchor="middle" transform="rotate(-90 349 359.5)" textLength="111.7" lengthAdjust="spacingAndGlyphs">IFN-γ in CD8<tspan dy="-3" font-size="5.8">+</tspan><tspan dy="3"> T Cell &#160;&#160;(%)</tspan></text>
<circle cx="382.5" cy="395.29" r="1.6" fill="#000" />
<circle cx="389.5" cy="395.29" r="1.6" fill="#000" />
<circle cx="382.5" cy="410.75" r="1.6" fill="#000" />
<circle cx="386" cy="410.75" r="1.6" fill="#000" />
<circle cx="389.5" cy="410.75" r="1.6" fill="#000" />
<line x1="386" y1="395.29" x2="386" y2="411.48" stroke="#000" stroke-width="1.1" />
<line x1="381" y1="395.29" x2="391" y2="395.29" stroke="#000" stroke-width="1.1" />
<line x1="381" y1="411.48" x2="391" y2="411.48" stroke="#000" stroke-width="1.1" />
<line x1="376.5" y1="403.39" x2="395.5" y2="403.39" stroke="#000" stroke-width="1.43" />
<rect x="406.6" y="391.85" width="3.2" height="3.2" fill="#0a14f0"/>
<rect x="412.6" y="394.43" width="3.2" height="3.2" fill="#0a14f0"/>
<rect x="406.6" y="409.15" width="3.2" height="3.2" fill="#0a14f0"/>
<rect x="412.6" y="408.41" width="3.2" height="3.2" fill="#0a14f0"/>
<rect x="417.6" y="409.15" width="3.2" height="3.2" fill="#0a14f0"/>
<line x1="414.2" y1="394.92" x2="414.2" y2="411.85" stroke="#0a14f0" stroke-width="1.1" />
<line x1="409.2" y1="394.92" x2="419.2" y2="394.92" stroke="#0a14f0" stroke-width="1.1" />
<line x1="409.2" y1="411.85" x2="419.2" y2="411.85" stroke="#0a14f0" stroke-width="1.1" />
<line x1="404.7" y1="403.39" x2="423.7" y2="403.39" stroke="#0a14f0" stroke-width="1.43" />
<path d="M442.4 326.15 L440.67 329.3 L444.12 329.3 Z" fill="#f01a1a"/>
<path d="M442.4 331.3 L440.67 334.45 L444.12 334.45 Z" fill="#f01a1a"/>
<path d="M442.4 343.44 L440.67 346.59 L444.12 346.59 Z" fill="#f01a1a"/>
<path d="M442.4 348.23 L440.67 351.38 L444.12 351.38 Z" fill="#f01a1a"/>
<path d="M442.4 352.28 L440.67 355.43 L444.12 355.43 Z" fill="#f01a1a"/>
<line x1="442.4" y1="330.52" x2="442.4" y2="353.71" stroke="#f01a1a" stroke-width="1.1" />
<line x1="437.4" y1="330.52" x2="447.4" y2="330.52" stroke="#f01a1a" stroke-width="1.1" />
<line x1="437.4" y1="353.71" x2="447.4" y2="353.71" stroke="#f01a1a" stroke-width="1.1" />
<line x1="432.9" y1="342.3" x2="451.9" y2="342.3" stroke="#f01a1a" stroke-width="1.43" />
<line x1="384.5" y1="319.4" x2="442.8" y2="319.4" stroke="#000" stroke-width="1.3" />
<text x="416.7" y="314.2" font-size="7" text-anchor="middle"><tspan font-style="italic">p</tspan>&lt;0.0001</text>
<line x1="384.5" y1="386.7" x2="415.6" y2="386.7" stroke="#000" stroke-width="1.3" />
<text x="400.1" y="382.2" font-size="7" text-anchor="middle"><tspan font-style="italic">p</tspan>=0.9993</text>
<text x="386.8" y="430.1" font-size="9.2" text-anchor="middle">NS</text>
<text x="422.5" y="424.8" font-size="9.1" text-anchor="end" transform="rotate(-30 422.5 424.8)">C-peptide</text>
<text x="451.1" y="424.8" font-size="9.1" text-anchor="end" transform="rotate(-30 451.1 424.8)">E-peptide</text>
<text x="459" y="305" font-size="9.5">L</text>
<text x="482.2" y="339" font-size="9.1" text-anchor="middle" transform="rotate(-90 482.2 339)">SSC-A</text>
<line x1="475.5" y1="361" x2="475.5" y2="404.8" stroke="#000" stroke-width="1.4" />
<path d="M475.5 355.6 L472.7 362.1 L478.3 362.1 Z" fill="#000"/>
<line x1="475.5" y1="404.8" x2="589" y2="404.8" stroke="#000" stroke-width="1.4" />
<path d="M595 404.8 L588.5 402 L588.5 407.6 Z" fill="#000"/>
<text x="598" y="408.6" font-size="9.25" textLength="80.5" lengthAdjust="spacingAndGlyphs">IFN-γ-PerCP/Cy5.5</text>
<text x="558.6" y="424" font-size="9.25">Gate from CD8<tspan dy="-3" font-size="6">+</tspan></text>
<rect x="490.5" y="337.6" width="55" height="56.2" fill="#fff" stroke="#b8b8b8" stroke-width="0.8"/>
<line x1="489.1" y1="339.1" x2="490.5" y2="339.1" stroke="#777" stroke-width="0.5" />
<rect x="484.7" y="338.6" width="3.2" height="1" fill="#c4c4c4"/>
<line x1="489.7" y1="341.81" x2="490.5" y2="341.81" stroke="#999" stroke-width="0.4" />
<line x1="489.7" y1="344.52" x2="490.5" y2="344.52" stroke="#999" stroke-width="0.4" />
<line x1="489.7" y1="347.23" x2="490.5" y2="347.23" stroke="#999" stroke-width="0.4" />
<line x1="489.1" y1="349.94" x2="490.5" y2="349.94" stroke="#777" stroke-width="0.5" />
<rect x="484.7" y="349.44" width="3.2" height="1" fill="#c4c4c4"/>
<line x1="489.7" y1="352.65" x2="490.5" y2="352.65" stroke="#999" stroke-width="0.4" />
<line x1="489.7" y1="355.36" x2="490.5" y2="355.36" stroke="#999" stroke-width="0.4" />
<line x1="489.7" y1="358.07" x2="490.5" y2="358.07" stroke="#999" stroke-width="0.4" />
<line x1="489.1" y1="360.78" x2="490.5" y2="360.78" stroke="#777" stroke-width="0.5" />
<rect x="484.7" y="360.28" width="3.2" height="1" fill="#c4c4c4"/>
<line x1="489.7" y1="363.49" x2="490.5" y2="363.49" stroke="#999" stroke-width="0.4" />
<line x1="489.7" y1="366.2" x2="490.5" y2="366.2" stroke="#999" stroke-width="0.4" />
<line x1="489.7" y1="368.91" x2="490.5" y2="368.91" stroke="#999" stroke-width="0.4" />
<line x1="489.1" y1="371.62" x2="490.5" y2="371.62" stroke="#777" stroke-width="0.5" />
<rect x="484.7" y="371.12" width="3.2" height="1" fill="#c4c4c4"/>
<line x1="489.7" y1="374.33" x2="490.5" y2="374.33" stroke="#999" stroke-width="0.4" />
<line x1="489.7" y1="377.04" x2="490.5" y2="377.04" stroke="#999" stroke-width="0.4" />
<line x1="489.7" y1="379.75" x2="490.5" y2="379.75" stroke="#999" stroke-width="0.4" />
<line x1="489.1" y1="382.46" x2="490.5" y2="382.46" stroke="#777" stroke-width="0.5" />
<rect x="484.7" y="381.96" width="3.2" height="1" fill="#c4c4c4"/>
<line x1="489.7" y1="385.17" x2="490.5" y2="385.17" stroke="#999" stroke-width="0.4" />
<line x1="489.7" y1="387.88" x2="490.5" y2="387.88" stroke="#999" stroke-width="0.4" />
<line x1="489.7" y1="390.59" x2="490.5" y2="390.59" stroke="#999" stroke-width="0.4" />
<line x1="489.1" y1="393.3" x2="490.5" y2="393.3" stroke="#777" stroke-width="0.5" />
<rect x="484.7" y="392.8" width="3.2" height="1" fill="#c4c4c4"/>
<line x1="495.5" y1="393.8" x2="495.5" y2="395.2" stroke="#777" stroke-width="0.5" />
<rect x="494.2" y="396.4" width="2.6" height="1.1" fill="#c4c4c4"/>
<line x1="507.25" y1="393.8" x2="507.25" y2="395.2" stroke="#777" stroke-width="0.5" />
<rect x="505.95" y="396.4" width="2.6" height="1.1" fill="#c4c4c4"/>
<line x1="519" y1="393.8" x2="519" y2="395.2" stroke="#777" stroke-width="0.5" />
<rect x="517.7" y="396.4" width="2.6" height="1.1" fill="#c4c4c4"/>
<line x1="530.75" y1="393.8" x2="530.75" y2="395.2" stroke="#777" stroke-width="0.5" />
<rect x="529.45" y="396.4" width="2.6" height="1.1" fill="#c4c4c4"/>
<line x1="542.5" y1="393.8" x2="542.5" y2="395.2" stroke="#777" stroke-width="0.5" />
<rect x="541.2" y="396.4" width="2.6" height="1.1" fill="#c4c4c4"/>
<path d="M491.5 393.4 L544.5 393.4" fill="none" stroke="#999" stroke-width="0.5" stroke-dasharray="0.6 0.8"/>
<text x="515.3" y="334.2" font-size="9.25" text-anchor="middle">NS</text>
<ellipse cx="507" cy="387.1" rx="9" ry="7" fill="url(#cgK)" />
<path d="M508.05 386.93h0.6M506.64 384.18h0.6M508.29 387.02h0.6M514.69 381.91h0.6M525.13 370.9h0.6M507.41 391.63h0.6M505.52 383.18h0.6M506.58 390.69h0.6M515.94 379.16h0.6M508.47 383.7h0.6M514.46 384.38h0.6M507.9 392.58h0.6M504.51 388.08h0.6M500.93 385.23h0.6M492.37 382.21h0.6M502.65 383.06h0.6M521.96 374.75h0.6M510.82 387.42h0.6M502.93 379.68h0.6M505.13 392.79h0.6M509.44 385.61h0.6M508.63 388.14h0.6M493.85 388.97h0.6M500.33 385.38h0.6M502.6 387.06h0.6M513.2 385.6h0.6M507.56 391.4h0.6M509.78 383.2h0.6M512.24 384.55h0.6M504.43 387.8h0.6M517.43 382.2h0.6M503.58 387.5h0.6M500.21 387.33h0.6M515.6 377.42h0.6M506.68 382.99h0.6M521.33 389.82h0.6M510.86 386.1h0.6M498.98 387.1h0.6M509.05 386.88h0.6M519.49 390.74h0.6M499.94 384.74h0.6M508.63 380.49h0.6M505.1 383.51h0.6M507.81 387.44h0.6M502.29 390.27h0.6M498.96 381.8h0.6M502.01 384.66h0.6M512.48 379.02h0.6M518.6 380.55h0.6M517.37 387.8h0.6M502.99 391.15h0.6M503.12 386.78h0.6M504.56 383.12h0.6M503.01 393.29h0.6M505.11 382.75h0.6M511.01 388.21h0.6M514.25 380.9h0.6M517.33 393.07h0.6M501.38 385.03h0.6M509.89 385.48h0.6M512.24 389.75h0.6M506.32 380.82h0.6M491.83 388.18h0.6M497.31 392.55h0.6M519.23 387.35h0.6M512.72 393.15h0.6M512.4 380.9h0.6M499.22 384.1h0.6M507.06 382.3h0.6M503.55 386.78h0.6M499.29 386.05h0.6M508.13 382.63h0.6M520.72 376.05h0.6M503.24 382.74h0.6M506.48 389.71h0.6M521.48 391.23h0.6M503.01 378.83h0.6M515.19 391.31h0.6M510.07 379.41h0.6M492.81 384.81h0.6M507.53 390h0.6M508.57 385.83h0.6M500.64 389.67h0.6M511.84 383.74h0.6M499.51 384.61h0.6M499.14 387.85h0.6M497.76 388.43h0.6M500.31 389.26h0.6M524.07 380.87h0.6M513.22 387.77h0.6M510.43 385.3h0.6M496.07 373.11h0.6M501.08 383.51h0.6M514.53 388.14h0.6M494.97 389.08h0.6M497.22 392.85h0.6M498.77 391.08h0.6M507.23 384.09h0.6M514.33 385.53h0.6M499.35 384.48h0.6M508.12 390.53h0.6M507.55 381.18h0.6M501.14 380.63h0.6M504.45 383.07h0.6M511.99 382.95h0.6M509.89 385.63h0.6M515.02 382.06h0.6M510.54 385.75h0.6M504.22 383.97h0.6M517.21 386.88h0.6M508.85 382.26h0.6M498.29 390.1h0.6M511.25 379.95h0.6M497.34 388.43h0.6M496.55 392.33h0.6M515.2 380.78h0.6M504.02 391.51h0.6M513.77 386.49h0.6M505.39 385.16h0.6M510.39 389.73h0.6M504.66 383.92h0.6M505.5 385.48h0.6M503.08 379.84h0.6M506.79 390.79h0.6M506.95 392.93h0.6M509.03 390.45h0.6M512.51 376.04h0.6M511.5 392.23h0.6M497.73 376.84h0.6M498.98 384.85h0.6M508.67 378.37h0.6M504.7 380.32h0.6M507.77 385.74h0.6M507.54 383.58h0.6M502.76 391.08h0.6M497.72 386.27h0.6M501.78 384.84h0.6M500.43 392.7h0.6M513.23 385.05h0.6M520.71 387.59h0.6M517.19 380.86h0.6M502.22 383.18h0.6M521.45 391.59h0.6M503.7 388.09h0.6M505.51 386.04h0.6M499.71 391.47h0.6M509.15 382.64h0.6M509.14 391.43h0.6M508.31 385.13h0.6M511.16 390.64h0.6M520.86 384.02h0.6M509.15 386.78h0.6M503.08 387.08h0.6M496.32 382.56h0.6M496.35 387.97h0.6M503.51 381.7h0.6M503.01 389.46h0.6M503.34 373.22h0.6M522.57 384.84h0.6M512.9 381.14h0.6M503.45 387.17h0.6M508.34 384.06h0.6M519.52 382.93h0.6M507.49 377.97h0.6M511.33 389.61h0.6M507.29 392.51h0.6M507.1 382.07h0.6M500.38 381.94h0.6M501.38 379.94h0.6M505.88 380.19h0.6M510.04 386.28h0.6M503.96 389.48h0.6M513.22 391.95h0.6M503.58 388.19h0.6M496.27 387.98h0.6M513.63 392.53h0.6M499.85 379.15h0.6M521.43 387.02h0.6M504.95 388.58h0.6M504.87 389.73h0.6M511.03 383.29h0.6M496.54 384.11h0.6M501.9 381.44h0.6M509.61 390.3h0.6M504.16 382.12h0.6M494.37 382.17h0.6M501.09 378.55h0.6M505.24 388.49h0.6M507.22 389.65h0.6M507.71 389.03h0.6M505.69 388.26h0.6M505.67 379.52h0.6M497.05 390.85h0.6M519.41 388.1h0.6M499.66 380.59h0.6M514.97 386.59h0.6M503.41 392.56h0.6M505 381.72h0.6" fill="none" stroke="#444" stroke-width="0.6" stroke-linecap="round" opacity="0.8"/>
<ellipse cx="507" cy="387.1" rx="6.5" ry="5" fill="none" stroke="#222" stroke-width="0.45"/>
<ellipse cx="507" cy="387.6" rx="4.5" ry="3.5" fill="none" stroke="#222" stroke-width="0.45"/>
<ellipse cx="507" cy="388.1" rx="2.5" ry="2" fill="none" stroke="#222" stroke-width="0.45"/>
<path d="M513.5 393.2 L513.2 375.6 L514.1 372.6 L538.5 372.1 L541 372.8 L541.5 393.1 L513.5 393.2" fill="none" stroke="#111" stroke-width="0.8"/>
<text x="542.5" y="382.5" font-size="9.4" text-anchor="end">5.43</text>
<rect x="554.8" y="337.6" width="55" height="56.2" fill="#fff" stroke="#b8b8b8" stroke-width="0.8"/>
<line x1="553.4" y1="339.1" x2="554.8" y2="339.1" stroke="#777" stroke-width="0.5" />
<rect x="549" y="338.6" width="3.2" height="1" fill="#c4c4c4"/>
<line x1="554" y1="341.81" x2="554.8" y2="341.81" stroke="#999" stroke-width="0.4" />
<line x1="554" y1="344.52" x2="554.8" y2="344.52" stroke="#999" stroke-width="0.4" />
<line x1="554" y1="347.23" x2="554.8" y2="347.23" stroke="#999" stroke-width="0.4" />
<line x1="553.4" y1="349.94" x2="554.8" y2="349.94" stroke="#777" stroke-width="0.5" />
<rect x="549" y="349.44" width="3.2" height="1" fill="#c4c4c4"/>
<line x1="554" y1="352.65" x2="554.8" y2="352.65" stroke="#999" stroke-width="0.4" />
<line x1="554" y1="355.36" x2="554.8" y2="355.36" stroke="#999" stroke-width="0.4" />
<line x1="554" y1="358.07" x2="554.8" y2="358.07" stroke="#999" stroke-width="0.4" />
<line x1="553.4" y1="360.78" x2="554.8" y2="360.78" stroke="#777" stroke-width="0.5" />
<rect x="549" y="360.28" width="3.2" height="1" fill="#c4c4c4"/>
<line x1="554" y1="363.49" x2="554.8" y2="363.49" stroke="#999" stroke-width="0.4" />
<line x1="554" y1="366.2" x2="554.8" y2="366.2" stroke="#999" stroke-width="0.4" />
<line x1="554" y1="368.91" x2="554.8" y2="368.91" stroke="#999" stroke-width="0.4" />
<line x1="553.4" y1="371.62" x2="554.8" y2="371.62" stroke="#777" stroke-width="0.5" />
<rect x="549" y="371.12" width="3.2" height="1" fill="#c4c4c4"/>
<line x1="554" y1="374.33" x2="554.8" y2="374.33" stroke="#999" stroke-width="0.4" />
<line x1="554" y1="377.04" x2="554.8" y2="377.04" stroke="#999" stroke-width="0.4" />
<line x1="554" y1="379.75" x2="554.8" y2="379.75" stroke="#999" stroke-width="0.4" />
<line x1="553.4" y1="382.46" x2="554.8" y2="382.46" stroke="#777" stroke-width="0.5" />
<rect x="549" y="381.96" width="3.2" height="1" fill="#c4c4c4"/>
<line x1="554" y1="385.17" x2="554.8" y2="385.17" stroke="#999" stroke-width="0.4" />
<line x1="554" y1="387.88" x2="554.8" y2="387.88" stroke="#999" stroke-width="0.4" />
<line x1="554" y1="390.59" x2="554.8" y2="390.59" stroke="#999" stroke-width="0.4" />
<line x1="553.4" y1="393.3" x2="554.8" y2="393.3" stroke="#777" stroke-width="0.5" />
<rect x="549" y="392.8" width="3.2" height="1" fill="#c4c4c4"/>
<line x1="559.8" y1="393.8" x2="559.8" y2="395.2" stroke="#777" stroke-width="0.5" />
<rect x="558.5" y="396.4" width="2.6" height="1.1" fill="#c4c4c4"/>
<line x1="571.55" y1="393.8" x2="571.55" y2="395.2" stroke="#777" stroke-width="0.5" />
<rect x="570.25" y="396.4" width="2.6" height="1.1" fill="#c4c4c4"/>
<line x1="583.3" y1="393.8" x2="583.3" y2="395.2" stroke="#777" stroke-width="0.5" />
<rect x="582" y="396.4" width="2.6" height="1.1" fill="#c4c4c4"/>
<line x1="595.05" y1="393.8" x2="595.05" y2="395.2" stroke="#777" stroke-width="0.5" />
<rect x="593.75" y="396.4" width="2.6" height="1.1" fill="#c4c4c4"/>
<line x1="606.8" y1="393.8" x2="606.8" y2="395.2" stroke="#777" stroke-width="0.5" />
<rect x="605.5" y="396.4" width="2.6" height="1.1" fill="#c4c4c4"/>
<path d="M555.8 393.4 L608.8 393.4" fill="none" stroke="#999" stroke-width="0.5" stroke-dasharray="0.6 0.8"/>
<text x="585.4" y="334.2" font-size="9.25" text-anchor="middle">C-peptide</text>
<ellipse cx="571.3" cy="387.1" rx="9" ry="7" fill="url(#cgB)" />
<path d="M558.73 385.85h0.6M576.91 386.08h0.6M572.4 379.34h0.6M569.51 385.05h0.6M578.09 387.93h0.6M571.18 383.29h0.6M565.18 387.06h0.6M580.9 377.19h0.6M583.14 390.59h0.6M574.14 385.08h0.6M568.83 380.95h0.6M575.92 386.15h0.6M557.27 384.53h0.6M567.43 383.81h0.6M585.75 392.93h0.6M577.4 376.74h0.6M578.01 387.64h0.6M582.38 389.76h0.6M562.77 393.21h0.6M574.79 384.37h0.6M564.78 386.31h0.6M562.95 384.93h0.6M578.35 392.43h0.6M576.61 384.91h0.6M566.38 385.21h0.6M582.99 387.61h0.6M566.76 391.68h0.6M570.51 382.83h0.6M572.51 386.55h0.6M561.5 384.11h0.6M561.99 391.74h0.6M580.35 385.43h0.6M567.71 389.18h0.6M571.26 389.96h0.6M575.02 389.31h0.6M576.05 381.9h0.6M576.63 376.52h0.6M572.13 385.62h0.6M574.06 386.11h0.6M573.06 377.63h0.6M567.39 382.85h0.6M573.93 388.06h0.6M567.89 384.29h0.6M565.92 386.31h0.6M574.33 390.68h0.6M570.03 381.4h0.6M564.98 390.7h0.6M563.35 385.1h0.6M571.35 383.49h0.6M569.42 390.04h0.6M570.2 388h0.6M570.99 380.63h0.6M558.2 392.04h0.6M566.93 392.88h0.6M579.36 384.38h0.6M566.21 383.98h0.6M583.04 387h0.6M569.14 391.53h0.6M564.2 383.81h0.6M566.78 386.62h0.6M561.59 383.53h0.6M572.02 381.66h0.6M563.49 389.09h0.6M563.56 385.82h0.6M576.76 387.4h0.6M584.36 386.38h0.6M559.86 388.8h0.6M572.63 390.93h0.6M560.51 386.24h0.6M579.09 388.07h0.6M579.31 383.27h0.6M574.49 387h0.6M582.5 381.92h0.6M579.86 388.11h0.6M571.59 383.56h0.6M563.23 379.24h0.6M573.32 382.01h0.6M579.43 389.33h0.6M574.6 392.85h0.6M570.51 391.68h0.6M558.83 384.59h0.6M578.35 386.31h0.6M582.95 387.49h0.6M572.19 385.96h0.6M570.61 383.04h0.6M568.55 391.16h0.6M566.22 386.21h0.6M565.59 387.24h0.6M575.06 389.78h0.6M568.76 383.19h0.6M573.35 391.64h0.6M572.23 384.31h0.6M569.26 392.25h0.6M564.47 386.23h0.6M559.6 385.87h0.6M576.38 392.37h0.6M575.73 392.41h0.6M584.16 378.58h0.6M563.21 390.91h0.6M572.59 381.9h0.6M571.33 378.14h0.6M570.04 390.72h0.6M571.28 390.36h0.6M574.87 387.21h0.6M563.88 387.34h0.6M576.55 383.99h0.6M577.02 389.11h0.6M571.83 382.71h0.6M582.55 385.25h0.6M578.71 384.27h0.6M573.34 388.94h0.6M577.36 377.58h0.6M564.45 380h0.6M572.7 383.56h0.6M575.29 382.57h0.6M570.94 389.11h0.6M558.66 393.29h0.6M573.06 391.27h0.6M580.16 388.52h0.6M581.05 389.86h0.6M563.97 387.36h0.6M570.95 391.34h0.6M584.32 379.7h0.6M571.36 383.64h0.6M573.03 391.68h0.6M583.2 378.69h0.6M565.68 390.88h0.6M574.62 375.5h0.6M563.78 387.64h0.6M569.05 384.99h0.6M579.94 381.19h0.6M572.29 392.12h0.6M557.67 387.96h0.6M569.48 383.64h0.6M586.68 383.62h0.6M576.41 382.56h0.6M564.25 387.96h0.6M579.24 386.3h0.6M575.62 386.3h0.6M579.07 388.17h0.6M573 390.75h0.6M574.82 387.68h0.6M568.51 387.87h0.6M570.92 391.41h0.6M567.35 389.8h0.6M560.12 383.74h0.6M579.82 388.3h0.6M556.01 384.68h0.6M569.7 383.26h0.6M560.08 379.94h0.6M582.7 384.53h0.6M576.57 390.12h0.6M565.1 387.7h0.6M571.74 381.28h0.6M572.17 387.02h0.6M572.52 384.81h0.6M567.35 386.77h0.6M564.19 391.73h0.6M573.26 386.73h0.6M568.68 388.61h0.6M571.13 384.32h0.6M585.24 390.13h0.6M573.77 388.49h0.6M565.35 387.74h0.6M567.63 383.76h0.6M570.68 387.9h0.6M571.77 387.31h0.6M557.42 389.56h0.6M565.28 386.09h0.6M559.76 389.26h0.6M573.43 385.49h0.6M567.74 383.76h0.6M581.45 383.64h0.6M562.55 383.13h0.6M571.5 385.19h0.6M570.43 388.37h0.6M567.09 385.64h0.6M569.26 392.11h0.6M582.35 391.79h0.6M569.55 388.26h0.6M564.1 386.63h0.6M571.75 383.2h0.6M571.9 392.99h0.6M568.26 388.58h0.6M570.02 377.12h0.6M576.3 380.71h0.6M559.13 388.71h0.6M572.07 389.31h0.6M573.7 393.01h0.6M573.25 392.27h0.6M575.02 380.7h0.6M572.42 389.52h0.6M573.57 387.16h0.6M574.61 382.76h0.6" fill="none" stroke="#3a86e6" stroke-width="0.6" stroke-linecap="round" opacity="0.8"/>
<ellipse cx="571.3" cy="387.1" rx="6.5" ry="5" fill="none" stroke="#8cc0f4" stroke-width="0.45"/>
<ellipse cx="571.3" cy="387.6" rx="4" ry="3" fill="none" stroke="#8cc0f4" stroke-width="0.45"/>
<path d="M577.8 393.2 L577.5 375.6 L578.4 372.6 L602.8 372.1 L605.3 372.8 L605.8 393.1 L577.8 393.2" fill="none" stroke="#111" stroke-width="0.8"/>
<text x="606.8" y="382.5" font-size="9.4" text-anchor="end">5.75</text>
<rect x="619.2" y="337.6" width="55" height="56.2" fill="#fff" stroke="#b8b8b8" stroke-width="0.8"/>
<line x1="617.8" y1="339.1" x2="619.2" y2="339.1" stroke="#777" stroke-width="0.5" />
<rect x="613.4" y="338.6" width="3.2" height="1" fill="#c4c4c4"/>
<line x1="618.4" y1="341.81" x2="619.2" y2="341.81" stroke="#999" stroke-width="0.4" />
<line x1="618.4" y1="344.52" x2="619.2" y2="344.52" stroke="#999" stroke-width="0.4" />
<line x1="618.4" y1="347.23" x2="619.2" y2="347.23" stroke="#999" stroke-width="0.4" />
<line x1="617.8" y1="349.94" x2="619.2" y2="349.94" stroke="#777" stroke-width="0.5" />
<rect x="613.4" y="349.44" width="3.2" height="1" fill="#c4c4c4"/>
<line x1="618.4" y1="352.65" x2="619.2" y2="352.65" stroke="#999" stroke-width="0.4" />
<line x1="618.4" y1="355.36" x2="619.2" y2="355.36" stroke="#999" stroke-width="0.4" />
<line x1="618.4" y1="358.07" x2="619.2" y2="358.07" stroke="#999" stroke-width="0.4" />
<line x1="617.8" y1="360.78" x2="619.2" y2="360.78" stroke="#777" stroke-width="0.5" />
<rect x="613.4" y="360.28" width="3.2" height="1" fill="#c4c4c4"/>
<line x1="618.4" y1="363.49" x2="619.2" y2="363.49" stroke="#999" stroke-width="0.4" />
<line x1="618.4" y1="366.2" x2="619.2" y2="366.2" stroke="#999" stroke-width="0.4" />
<line x1="618.4" y1="368.91" x2="619.2" y2="368.91" stroke="#999" stroke-width="0.4" />
<line x1="617.8" y1="371.62" x2="619.2" y2="371.62" stroke="#777" stroke-width="0.5" />
<rect x="613.4" y="371.12" width="3.2" height="1" fill="#c4c4c4"/>
<line x1="618.4" y1="374.33" x2="619.2" y2="374.33" stroke="#999" stroke-width="0.4" />
<line x1="618.4" y1="377.04" x2="619.2" y2="377.04" stroke="#999" stroke-width="0.4" />
<line x1="618.4" y1="379.75" x2="619.2" y2="379.75" stroke="#999" stroke-width="0.4" />
<line x1="617.8" y1="382.46" x2="619.2" y2="382.46" stroke="#777" stroke-width="0.5" />
<rect x="613.4" y="381.96" width="3.2" height="1" fill="#c4c4c4"/>
<line x1="618.4" y1="385.17" x2="619.2" y2="385.17" stroke="#999" stroke-width="0.4" />
<line x1="618.4" y1="387.88" x2="619.2" y2="387.88" stroke="#999" stroke-width="0.4" />
<line x1="618.4" y1="390.59" x2="619.2" y2="390.59" stroke="#999" stroke-width="0.4" />
<line x1="617.8" y1="393.3" x2="619.2" y2="393.3" stroke="#777" stroke-width="0.5" />
<rect x="613.4" y="392.8" width="3.2" height="1" fill="#c4c4c4"/>
<line x1="624.2" y1="393.8" x2="624.2" y2="395.2" stroke="#777" stroke-width="0.5" />
<rect x="622.9" y="396.4" width="2.6" height="1.1" fill="#c4c4c4"/>
<line x1="635.95" y1="393.8" x2="635.95" y2="395.2" stroke="#777" stroke-width="0.5" />
<rect x="634.65" y="396.4" width="2.6" height="1.1" fill="#c4c4c4"/>
<line x1="647.7" y1="393.8" x2="647.7" y2="395.2" stroke="#777" stroke-width="0.5" />
<rect x="646.4" y="396.4" width="2.6" height="1.1" fill="#c4c4c4"/>
<line x1="659.45" y1="393.8" x2="659.45" y2="395.2" stroke="#777" stroke-width="0.5" />
<rect x="658.15" y="396.4" width="2.6" height="1.1" fill="#c4c4c4"/>
<line x1="671.2" y1="393.8" x2="671.2" y2="395.2" stroke="#777" stroke-width="0.5" />
<rect x="669.9" y="396.4" width="2.6" height="1.1" fill="#c4c4c4"/>
<path d="M620.2 393.4 L673.2 393.4" fill="none" stroke="#999" stroke-width="0.5" stroke-dasharray="0.6 0.8"/>
<text x="650.6" y="334.2" font-size="9.25" text-anchor="middle">E-peptide</text>
<ellipse cx="639.2" cy="385.6" rx="18" ry="7" fill="url(#cgR)" />
<path d="M629.9 377.74h0.6M624.95 384.83h0.6M637.54 388.35h0.6M638.55 389.47h0.6M634.77 389.09h0.6M647.51 388.38h0.6M633.37 391.62h0.6M640.58 387.43h0.6M643.61 391.58h0.6M624.28 390.84h0.6M643.26 380.71h0.6M654.91 390.32h0.6M639.63 380.58h0.6M633.69 382.07h0.6M658.76 380.77h0.6M646.96 373.62h0.6M640.82 391.84h0.6M636.68 376.67h0.6M634.14 387.34h0.6M635.24 383.92h0.6M638.81 385.03h0.6M626.04 387.21h0.6M649.22 389.51h0.6M627.68 385.6h0.6M658.33 379.52h0.6M646.15 383.22h0.6M650.71 386.39h0.6M653.37 390.72h0.6M638.69 388.21h0.6M636.64 390.57h0.6M637.98 380.06h0.6M633.5 392.74h0.6M647.09 386.56h0.6M631.53 377.89h0.6M642.78 386.7h0.6M621.67 385.33h0.6M651.99 386.14h0.6M638.41 387.68h0.6M643.88 389.21h0.6M633.47 386.1h0.6M621.27 378.55h0.6M637.39 383.88h0.6M629.07 379.91h0.6M651.01 385.87h0.6M622.31 375.58h0.6M653.25 382.8h0.6M642.71 391.38h0.6M658.38 388.85h0.6M634.5 382.77h0.6M643.97 391.36h0.6M639.27 382.9h0.6M632.8 390.97h0.6M634.52 373.28h0.6M627.72 379.74h0.6M636.06 391.38h0.6M626.84 388.05h0.6M660.78 389.32h0.6M646.71 390.17h0.6M652.23 383.05h0.6M645.52 382.74h0.6M627.73 386.61h0.6M634.01 389.89h0.6M644.46 385.2h0.6M631.92 380.27h0.6M636.24 386.35h0.6M632.43 388.93h0.6M628.4 390.57h0.6M632.46 388.7h0.6M648.16 391.97h0.6M621.42 382.96h0.6M636.04 384.79h0.6M632.4 379.32h0.6M644.16 382.14h0.6M645.11 388.92h0.6M628.2 382.71h0.6M650.99 387.99h0.6M624.11 383.68h0.6M626.42 392.57h0.6M635.08 382.14h0.6M641.57 390.96h0.6M633.91 391.84h0.6M640.92 383.14h0.6M640.8 387.29h0.6M649.43 389.91h0.6M625.18 387.37h0.6M647.66 386.19h0.6M635.93 389.08h0.6M642.15 380.55h0.6M648.92 390.27h0.6M643.48 388.27h0.6M635.24 384.27h0.6M639.74 380.23h0.6M655.72 388.55h0.6M658.28 383.64h0.6M654.63 375.67h0.6M637.34 391.32h0.6M638.54 380.58h0.6M651.52 384.51h0.6M644.51 385.9h0.6M637.1 386.03h0.6M671.39 379.59h0.6M639.25 388.75h0.6M664.25 390.56h0.6M643.79 385.92h0.6M624.71 375.06h0.6M634.97 385.22h0.6M660.86 387.63h0.6M635.29 381.61h0.6M648.9 385.19h0.6M649.9 387.23h0.6M646.51 392.06h0.6M630.08 385.87h0.6M635.24 383.89h0.6M660.08 384.68h0.6M643.34 392.11h0.6M637.08 392.08h0.6M635.92 388.75h0.6M634.58 385.71h0.6M660.31 385.21h0.6M641.49 392.29h0.6M642.42 388.31h0.6M625.06 390.91h0.6M664.74 390.54h0.6M639.14 388.6h0.6M626.36 388.74h0.6M653.84 385.1h0.6M634.75 388.25h0.6M622.41 384.65h0.6M632.61 383.8h0.6M670.24 386.61h0.6M630.53 376.65h0.6M646.08 381.18h0.6M642.73 384.48h0.6M629.51 381.31h0.6M654.58 386.58h0.6M631.56 381.19h0.6M634.61 382.04h0.6M643.82 374.81h0.6M627.25 389.82h0.6M644.51 387.09h0.6M656.8 375.54h0.6M645.39 384.41h0.6M635.63 380.84h0.6M643.28 386.76h0.6M635.26 387.88h0.6M625.69 389.87h0.6M632.53 385.9h0.6M636.72 385.27h0.6M635.41 383.12h0.6M626.35 386.03h0.6M644.87 384.49h0.6M637.03 389.97h0.6M627.43 384.99h0.6M666.42 384.27h0.6M655.96 383.03h0.6M643.51 379.53h0.6M641.35 388.48h0.6M637.66 384.45h0.6M637.97 387.5h0.6M628.36 384.9h0.6M627.74 386.13h0.6M628.35 388.73h0.6M640.24 383.76h0.6M639.98 378.97h0.6M641.01 382.79h0.6M648.47 384.58h0.6M631.45 388.78h0.6M626.57 385.54h0.6M653.2 381.56h0.6M655.26 382.84h0.6M634.66 386.32h0.6M624.63 385.72h0.6M622.01 379.07h0.6M629.12 390.32h0.6M652.41 374.68h0.6M643.4 382.1h0.6M647.25 378.91h0.6M633.14 391.42h0.6M645.09 376.86h0.6M639.72 391.39h0.6M635.4 382.97h0.6M641.04 376.8h0.6M635.27 389.3h0.6M655.53 384.38h0.6M651.98 385.82h0.6M645.61 385.14h0.6M628.89 376.76h0.6M648.93 389.17h0.6M650.18 386.57h0.6M622.83 381.71h0.6M636.53 392.85h0.6M628.42 384.02h0.6M642.24 380.55h0.6M642.65 380.42h0.6M630.72 386.21h0.6M635.08 385.61h0.6M645.74 381.64h0.6M624.19 393.21h0.6M634.01 380.53h0.6M649.72 380.47h0.6M645.21 382.6h0.6M645.55 373.74h0.6M622.74 390.54h0.6M655.03 384.51h0.6M639.44 383.18h0.6M656.06 391.72h0.6M640.07 382.73h0.6M640.98 382.92h0.6M655.64 376.33h0.6M629.3 384.77h0.6M640.86 375.58h0.6M646.75 390.29h0.6M627.14 378.78h0.6M660.75 386.43h0.6M623.37 379.04h0.6M647.74 389.35h0.6M621.14 378.03h0.6M644.04 385.3h0.6M642.1 389.78h0.6M620.66 383.93h0.6M630.01 383.05h0.6M644.9 390.37h0.6M647.06 385.43h0.6M645.73 391.2h0.6M634.44 385.88h0.6M620.85 386.93h0.6M631.75 383.81h0.6M644.54 384.72h0.6M648.05 386.22h0.6M650.08 381.51h0.6M632.87 381.6h0.6M631.06 389.78h0.6M645.38 391.8h0.6M640.59 382.42h0.6M644.83 384.57h0.6M650.86 383.15h0.6M646.45 380.29h0.6M629.09 387.7h0.6M625.64 383.18h0.6M649.07 389.57h0.6M643.16 388.43h0.6M649.47 388.15h0.6M629.38 387.93h0.6M662.5 391.48h0.6M656.36 388.1h0.6M641.85 391.26h0.6M627.74 389.12h0.6M645.9 387.7h0.6M654.84 389.88h0.6M656.94 386.7h0.6M638.45 387.96h0.6M649.36 378.49h0.6M645.03 388.56h0.6M639.12 381.3h0.6M638.68 379.18h0.6M629.71 384.28h0.6M650.88 388.66h0.6M637.17 385.66h0.6M637.58 388.87h0.6M630.5 378.96h0.6M630.79 381.83h0.6M646.1 376.72h0.6M637.9 384.04h0.6M643.67 392.1h0.6M648.23 383.53h0.6M628.3 387.24h0.6M628.55 384.17h0.6M633.2 386.78h0.6M642.3 390.6h0.6M652.04 385.17h0.6M647.86 388.73h0.6M625.74 389.05h0.6M645.51 388.92h0.6M647.1 388.6h0.6M643.45 387.49h0.6M647.28 389.28h0.6M668.23 377.13h0.6M634.93 390.05h0.6M640.64 391.57h0.6M642.82 377.93h0.6M632.62 382.03h0.6M631.53 392.01h0.6M628.38 390.47h0.6M644.88 391.82h0.6M649.87 379.92h0.6" fill="none" stroke="#f04040" stroke-width="0.6" stroke-linecap="round" opacity="0.8"/>
<ellipse cx="639.2" cy="385.6" rx="12" ry="4" fill="none" stroke="#fbb" stroke-width="0.45"/>
<ellipse cx="639.2" cy="386.1" rx="7" ry="2.4" fill="none" stroke="#fbb" stroke-width="0.45"/>
<ellipse cx="657.2" cy="385.6" rx="8" ry="2.4" fill="none" stroke="#fbb" stroke-width="0.45"/>
<path d="M642.2 393.2 L641.9 375.6 L642.8 372.6 L667.2 372.1 L669.7 372.8 L670.2 393.1 L642.2 393.2" fill="none" stroke="#111" stroke-width="0.8"/>
<text x="671.2" y="382.5" font-size="9.4" text-anchor="end">23.9</text>
<text x="0" y="447.3" font-size="9.5">M</text>
<text x="5.1" y="462.4" font-size="8.1" textLength="67.2" lengthAdjust="spacingAndGlyphs">Gamma irradiation</text>
<text x="11.4" y="471.9" font-size="8.1" textLength="54.3" lengthAdjust="spacingAndGlyphs">(1.0Gy/mouse)</text>
<circle cx="32.7" cy="486.1" r="6.5" fill="#f3c31c" stroke="#222" stroke-width="0.7"/>
<path d="M33.5 484.71 L35.5 481.25 A5.6 5.6 0 0 0 29.9 481.25 L31.9 484.71 A1.6 1.6 0 0 1 33.5 484.71 Z" fill="#111"/>
<path d="M31.1 486.1 L27.1 486.1 A5.6 5.6 0 0 0 29.9 490.95 L31.9 487.49 A1.6 1.6 0 0 1 31.1 486.1 Z" fill="#111"/>
<path d="M33.5 487.49 L35.5 490.95 A5.6 5.6 0 0 0 38.3 486.1 L34.3 486.1 A1.6 1.6 0 0 1 33.5 487.49 Z" fill="#111"/>
<circle cx="32.7" cy="486.1" r="1" fill="#111" />
<path d="M49.4 514.7 C56.4 513.2, 59.4 504.2, 64.4 497.2 S69.4 491.7, 75.4 490.2" fill="none" stroke="#e2b2ae" stroke-width="1.1" stroke-linecap="round"/>
<path d="M17.4 523.2 L23.9 523.6 L23.4 525.5 L16.9 525.8 Z" fill="#e3b9b3"/>
<path d="M32.9 524.8 L44.9 525.4 L44.4 527.4 L33.9 528.5 L32.4 527.2 Z" fill="#e3b9b3"/>
<ellipse cx="20.6" cy="498.9" rx="2.8" ry="3.3" fill="#e9e7e9" stroke="#b9b6b9" stroke-width="0.45"/>
<path d="M6.4 504.2 C8.4 502.2, 11.4 500.6, 15.4 500 C18.4 499.6, 22.4 500.6, 26.4 501.4 C32.4 500.6, 39.4 500.8, 43.9 503.4 C47.9 506, 50.4 511.2, 50.4 515.7 C50.4 520.2, 49.2 522.7, 45.9 523.8 L29.4 524.3 C25.4 524.2, 21.4 522.2, 17.9 518.6 C14.4 515, 11.9 510.7, 9.9 508 C8.4 506.7, 7.2 505.4, 6.4 504.2 Z" fill="#e9e7e9" stroke="#b9b6b9" stroke-width="0.45"/>
<ellipse cx="22.8" cy="504" rx="3.2" ry="3.7" fill="#d9abaa" />
<circle cx="14" cy="504" r="0.7" fill="#222" />
<circle cx="6.8" cy="504.7" r="0.45" fill="#caa" />
<path d="M39.9 517.4 C36.9 518.2, 36 521.2, 37 523.2 L38.2 523.2 C37.6 521.2, 38.2 519, 40.6 518 Z" fill="#c28a3c"/>
<path d="M148.16 513.91 C155.3 512.38, 158.36 503.2, 163.46 496.06 S168.56 490.45, 174.68 488.92" fill="none" stroke="#e2b2ae" stroke-width="1.12" stroke-linecap="round"/>
<path d="M115.52 522.58 L122.15 522.99 L121.64 524.93 L115.01 525.23 Z" fill="#e3b9b3"/>
<path d="M131.33 524.21 L143.57 524.82 L143.06 526.86 L132.35 527.99 L130.82 526.66 Z" fill="#e3b9b3"/>
<ellipse cx="118.78" cy="497.79" rx="2.86" ry="3.37" fill="#e9e7e9" stroke="#b9b6b9" stroke-width="0.45"/>
<path d="M104.3 503.2 C106.34 501.16, 109.4 499.53, 113.48 498.92 C116.54 498.51, 120.62 499.53, 124.7 500.34 C130.82 499.53, 137.96 499.73, 142.55 502.38 C146.63 505.04, 149.18 510.34, 149.18 514.93 C149.18 519.52, 147.96 522.07, 144.59 523.19 L127.76 523.7 C123.68 523.6, 119.6 521.56, 116.03 517.89 C112.46 514.22, 109.91 509.83, 107.87 507.08 C106.34 505.75, 105.12 504.42, 104.3 503.2 Z" fill="#e9e7e9" stroke="#b9b6b9" stroke-width="0.45"/>
<ellipse cx="121.03" cy="503" rx="3.26" ry="3.77" fill="#d9abaa" />
<circle cx="112.05" cy="503" r="0.71" fill="#222" />
<circle cx="104.71" cy="503.71" r="0.46" fill="#caa" />
<path d="M138.47 516.66 C135.41 517.48, 134.49 520.54, 135.51 522.58 L136.74 522.58 C136.12 520.54, 136.74 518.3, 139.18 517.28 Z" fill="#c28a3c"/>
<path d="M257.87 515 C264.8 513.51, 267.77 504.6, 272.72 497.67 S277.67 492.23, 283.61 490.74" fill="none" stroke="#e2b2ae" stroke-width="1.09" stroke-linecap="round"/>
<path d="M226.19 523.41 L232.62 523.81 L232.13 525.69 L225.7 525.98 Z" fill="#e3b9b3"/>
<path d="M241.54 524.99 L253.42 525.59 L252.92 527.57 L242.53 528.66 L241.04 527.37 Z" fill="#e3b9b3"/>
<ellipse cx="229.36" cy="499.35" rx="2.77" ry="3.27" fill="#e9e7e9" stroke="#b9b6b9" stroke-width="0.45"/>
<path d="M215.3 504.6 C217.28 502.62, 220.25 501.04, 224.21 500.44 C227.18 500.05, 231.14 501.04, 235.1 501.83 C241.04 501.04, 247.97 501.23, 252.43 503.81 C256.38 506.38, 258.86 511.53, 258.86 515.99 C258.86 520.44, 257.67 522.92, 254.41 524 L238.07 524.5 C234.11 524.4, 230.15 522.42, 226.69 518.86 C223.22 515.29, 220.75 511.04, 218.77 508.36 C217.28 507.08, 216.09 505.79, 215.3 504.6 Z" fill="#e9e7e9" stroke="#b9b6b9" stroke-width="0.45"/>
<ellipse cx="231.54" cy="504.4" rx="3.17" ry="3.66" fill="#d9abaa" />
<circle cx="222.82" cy="504.4" r="0.69" fill="#222" />
<circle cx="215.7" cy="505.1" r="0.45" fill="#caa" />
<path d="M248.47 517.67 C245.5 518.46, 244.6 521.43, 245.59 523.41 L246.78 523.41 C246.19 521.43, 246.78 519.25, 249.16 518.26 Z" fill="#c28a3c"/>
<path d="M60 657.5 C66 656, 69 647, 74 640 S79 633, 87 631.5" fill="none" stroke="#e2b2ae" stroke-width="1.1" stroke-linecap="round"/>
<path d="M28 666 L34.5 666.4 L34 668.3 L27.5 668.6 Z" fill="#e3b9b3"/>
<path d="M43.5 667.6 L55.5 668.2 L55 670.2 L44.5 671.3 L43 670 Z" fill="#e3b9b3"/>
<ellipse cx="31.2" cy="641.7" rx="2.8" ry="3.3" fill="#e9e7e9" stroke="#b9b6b9" stroke-width="0.45"/>
<path d="M17 647 C19 645, 22 643.4, 26 642.8 C29 642.4, 33 643.4, 37 644.2 C43 643.4, 50 643.6, 54.5 646.2 C58.5 648.8, 61 654, 61 658.5 C61 663, 59.8 665.5, 56.5 666.6 L40 667.1 C36 667, 32 665, 28.5 661.4 C25 657.8, 22.5 653.5, 20.5 650.8 C19 649.5, 17.8 648.2, 17 647 Z" fill="#e9e7e9" stroke="#b9b6b9" stroke-width="0.45"/>
<ellipse cx="33.4" cy="646.8" rx="3.2" ry="3.7" fill="#d9abaa" />
<circle cx="24.6" cy="646.8" r="0.7" fill="#222" />
<circle cx="17.4" cy="647.5" r="0.45" fill="#caa" />
<path d="M50.5 660.2 C47.5 661, 46.6 664, 47.6 666 L48.8 666 C48.2 664, 48.8 661.8, 51.2 660.8 Z" fill="#c28a3c"/>
<text x="10.2" y="536.5" font-size="8.1" textLength="45.3" lengthAdjust="spacingAndGlyphs">C-NKG mice</text>
<text x="17.5" y="546.2" font-size="8.1" textLength="30.1" lengthAdjust="spacingAndGlyphs">(3 days)</text>
<text x="64.8" y="508.4" font-size="8.1" textLength="31.6" lengthAdjust="spacingAndGlyphs">24 hours</text>
<line x1="64.8" y1="514.2" x2="97" y2="514.2" stroke="#000" stroke-width="1.4" />
<path d="M103.2 514.2 L96.4 511.2 L96.4 517.2 Z" fill="#000"/>
<text x="96.4" y="536.5" font-size="8.1" textLength="74.4" lengthAdjust="spacingAndGlyphs">Human CD34<tspan dy="-2.8" font-size="5.4">+</tspan><tspan dy="2.8"> HSCs</tspan></text>
<text x="104.5" y="546.2" font-size="8.1" textLength="55" lengthAdjust="spacingAndGlyphs">(vein injection)</text>
<line x1="156.4" y1="514.8" x2="208" y2="514.8" stroke="#000" stroke-width="1.4" />
<path d="M214.5 514.8 L207.7 511.8 L207.7 517.8 Z" fill="#000"/>
<text x="198.8" y="539.8" font-size="8.1" textLength="74.8" lengthAdjust="spacingAndGlyphs">huHSC-C-NKG-ProF</text>
<line x1="267.2" y1="516" x2="346.5" y2="516" stroke="#000" stroke-width="1.4" />
<path d="M353.2 516 L346.4 513 L346.4 519 Z" fill="#000"/>
<text x="276.8" y="510.9" font-size="8.1" textLength="66.5" lengthAdjust="spacingAndGlyphs">Retro-orbital blood</text>
<text x="282.3" y="527.6" font-size="8.1" textLength="54.6" lengthAdjust="spacingAndGlyphs">Flow cytometry</text>
<rect x="372" y="465.6" width="70.3" height="69.1" fill="#fff" stroke="#a0a0a0" stroke-width="0.9"/>
<line x1="372" y1="465.6" x2="372" y2="534.7" stroke="#333" stroke-width="1" />
<line x1="372" y1="534.7" x2="442.3" y2="534.7" stroke="#333" stroke-width="1" />
<line x1="370" y1="468.9" x2="372" y2="468.9" stroke="#333" stroke-width="0.6" />
<line x1="370" y1="491" x2="372" y2="491" stroke="#333" stroke-width="0.6" />
<line x1="370" y1="506.8" x2="372" y2="506.8" stroke="#333" stroke-width="0.6" />
<line x1="370" y1="530.8" x2="372" y2="530.8" stroke="#333" stroke-width="0.6" />
<line x1="371" y1="467.6" x2="372" y2="467.6" stroke="#555" stroke-width="0.4" />
<line x1="371" y1="472.6" x2="372" y2="472.6" stroke="#555" stroke-width="0.4" />
<line x1="371" y1="477.6" x2="372" y2="477.6" stroke="#555" stroke-width="0.4" />
<line x1="371" y1="482.6" x2="372" y2="482.6" stroke="#555" stroke-width="0.4" />
<line x1="371" y1="487.6" x2="372" y2="487.6" stroke="#555" stroke-width="0.4" />
<line x1="371" y1="492.6" x2="372" y2="492.6" stroke="#555" stroke-width="0.4" />
<line x1="371" y1="497.6" x2="372" y2="497.6" stroke="#555" stroke-width="0.4" />
<line x1="371" y1="502.6" x2="372" y2="502.6" stroke="#555" stroke-width="0.4" />
<line x1="371" y1="507.6" x2="372" y2="507.6" stroke="#555" stroke-width="0.4" />
<line x1="371" y1="512.6" x2="372" y2="512.6" stroke="#555" stroke-width="0.4" />
<line x1="371" y1="517.6" x2="372" y2="517.6" stroke="#555" stroke-width="0.4" />
<line x1="371" y1="522.6" x2="372" y2="522.6" stroke="#555" stroke-width="0.4" />
<line x1="371" y1="527.6" x2="372" y2="527.6" stroke="#555" stroke-width="0.4" />
<line x1="371" y1="532.6" x2="372" y2="532.6" stroke="#555" stroke-width="0.4" />
<line x1="373" y1="534.7" x2="373" y2="536.7" stroke="#333" stroke-width="0.6" />
<line x1="389.3" y1="534.7" x2="389.3" y2="536.7" stroke="#333" stroke-width="0.6" />
<line x1="407" y1="534.7" x2="407" y2="536.7" stroke="#333" stroke-width="0.6" />
<line x1="424.5" y1="534.7" x2="424.5" y2="536.7" stroke="#333" stroke-width="0.6" />
<line x1="440.5" y1="534.7" x2="440.5" y2="536.7" stroke="#333" stroke-width="0.6" />
<line x1="374" y1="534.7" x2="374" y2="535.7" stroke="#555" stroke-width="0.4" />
<line x1="379" y1="534.7" x2="379" y2="535.7" stroke="#555" stroke-width="0.4" />
<line x1="384" y1="534.7" x2="384" y2="535.7" stroke="#555" stroke-width="0.4" />
<line x1="389" y1="534.7" x2="389" y2="535.7" stroke="#555" stroke-width="0.4" />
<line x1="394" y1="534.7" x2="394" y2="535.7" stroke="#555" stroke-width="0.4" />
<line x1="399" y1="534.7" x2="399" y2="535.7" stroke="#555" stroke-width="0.4" />
<line x1="404" y1="534.7" x2="404" y2="535.7" stroke="#555" stroke-width="0.4" />
<line x1="409" y1="534.7" x2="409" y2="535.7" stroke="#555" stroke-width="0.4" />
<line x1="414" y1="534.7" x2="414" y2="535.7" stroke="#555" stroke-width="0.4" />
<line x1="419" y1="534.7" x2="419" y2="535.7" stroke="#555" stroke-width="0.4" />
<line x1="424" y1="534.7" x2="424" y2="535.7" stroke="#555" stroke-width="0.4" />
<line x1="429" y1="534.7" x2="429" y2="535.7" stroke="#555" stroke-width="0.4" />
<line x1="434" y1="534.7" x2="434" y2="535.7" stroke="#555" stroke-width="0.4" />
<line x1="439" y1="534.7" x2="439" y2="535.7" stroke="#555" stroke-width="0.4" />
<text x="368" y="468.9" font-size="5.2" text-anchor="middle" fill="#222" transform="rotate(-90 368 468.9)">10<tspan dy="-2" font-size="3.6">7.3</tspan></text>
<text x="368" y="491" font-size="5.2" text-anchor="middle" fill="#222" transform="rotate(-90 368 491)">10<tspan dy="-2" font-size="3.6">5</tspan></text>
<text x="368" y="506.8" font-size="5.2" text-anchor="middle" fill="#222" transform="rotate(-90 368 506.8)">10<tspan dy="-2" font-size="3.6">4</tspan></text>
<text x="368" y="530.8" font-size="5.2" text-anchor="middle" fill="#222" transform="rotate(-90 368 530.8)">-10<tspan dy="-2" font-size="3.6">4.1</tspan></text>
<text x="375.5" y="544.4" font-size="5.2" text-anchor="middle" fill="#222">-10<tspan dy="-2" font-size="3.6">3.9</tspan></text>
<text x="389.2" y="544.4" font-size="5.2" text-anchor="middle" fill="#222">0</text>
<text x="407.6" y="544.4" font-size="5.2" text-anchor="middle" fill="#222">10<tspan dy="-2" font-size="3.6">4</tspan></text>
<text x="425.3" y="544.4" font-size="5.2" text-anchor="middle" fill="#222">10<tspan dy="-2" font-size="3.6">5</tspan></text>
<text x="441" y="544.4" font-size="5.2" text-anchor="middle" fill="#222">10<tspan dy="-2" font-size="3.6">6.3</tspan></text>
<text x="389.8" y="553.4" font-size="5.4" fill="#222" textLength="34.4" lengthAdjust="spacingAndGlyphs">FITC-hCD45-H</text>
<text x="359.7" y="500.3" font-size="5.4" text-anchor="middle" fill="#222" textLength="59.2" lengthAdjust="spacingAndGlyphs" transform="rotate(-90 359.7 500.3)">APC-Fire750-mCD45-H</text>
<path d="M396.01 498.71h0.5M389.1 491.76h0.5M394.19 500.05h0.5M394.42 490.91h0.5M389.2 494.42h0.5M396.83 494.56h0.5M391.03 493.88h0.5M393.39 492.26h0.5M392.64 495.44h0.5M399.87 494.42h0.5M396.9 491.37h0.5M396.43 495.11h0.5M390.27 494.52h0.5M396.62 493.59h0.5M397.17 499.38h0.5M399.8 499.69h0.5M387.04 495.68h0.5M389.64 497.57h0.5M392.98 495.31h0.5M394.69 492.75h0.5M393.08 492.35h0.5M401.85 493.18h0.5M392.73 489.07h0.5M386.14 491.98h0.5M396.18 497.03h0.5M393.9 492.6h0.5M400.83 491.39h0.5M388.88 496.14h0.5M388.26 495.45h0.5M396.95 494.4h0.5M394.46 494.74h0.5M389.68 484.65h0.5M387.27 494.59h0.5M385.4 492.84h0.5M393.58 498.82h0.5M386.61 492.95h0.5M393.66 496.27h0.5M386.54 500.47h0.5M389.04 498.04h0.5M391.77 495.9h0.5M400.06 496.85h0.5M393.24 491.44h0.5M389.75 490.11h0.5M401.62 489.71h0.5M381.21 499.81h0.5M398.34 493.47h0.5M396.38 492.01h0.5M390.09 496.2h0.5M394.41 493.16h0.5M399.88 496.94h0.5M393.27 490.86h0.5M393.27 493.61h0.5M392.31 497.14h0.5M390.09 495.45h0.5M396.2 495.73h0.5M402.89 489.07h0.5M392.37 490.85h0.5M392.34 502.58h0.5M385.33 493.67h0.5M395.56 494.89h0.5M396.72 489.66h0.5M396.99 491.56h0.5M387.19 496.39h0.5M394.76 492.27h0.5M388.97 493.95h0.5M392.57 494.04h0.5M388.08 487.21h0.5M398.47 495.13h0.5M387.06 489.59h0.5M389.51 493.25h0.5M383.08 499.02h0.5M394.5 493.54h0.5M394.15 495.3h0.5M397.34 495.05h0.5M398.23 499.48h0.5M391.19 493.12h0.5M388.63 493.82h0.5M389.33 494.59h0.5M393.94 496.26h0.5M387.41 498h0.5M391.18 494.2h0.5M390.27 488.18h0.5M393.71 488.91h0.5M397.52 494.68h0.5M399.55 496.61h0.5M395.71 499h0.5M392.37 499.44h0.5M391.99 495.36h0.5M389.53 496.27h0.5M395.55 492.94h0.5M409.9 518.93h0.5M423.45 518.59h0.5M412.33 517.02h0.5M417.98 511.72h0.5M415.42 523.04h0.5M409.87 518.42h0.5M433.53 521h0.5M427.42 518.62h0.5M409.51 527.05h0.5M422.48 519.7h0.5M433.15 521.28h0.5M420.54 515.95h0.5M418.84 518.61h0.5M414.68 516.61h0.5M412.1 518.7h0.5M415.34 520.16h0.5M428.14 519.9h0.5M420.23 523.37h0.5M425.27 514.9h0.5M414.35 519.56h0.5M413.05 521.13h0.5M406.1 513.7h0.5M427.86 520.64h0.5M407.3 519.23h0.5M430.75 515.91h0.5M410.57 515.62h0.5M412.2 514.18h0.5M416.18 514.97h0.5M420.53 525.24h0.5M411.67 521.54h0.5M429.33 512.57h0.5M420.9 518.98h0.5M417.35 521.24h0.5M416.52 519.99h0.5M416.92 518.63h0.5M413.78 525.35h0.5M419.57 515.88h0.5M435.55 523.4h0.5M418.45 517.18h0.5M414.15 522.45h0.5M417.41 517.02h0.5M426.73 518.26h0.5M419.59 524.41h0.5M426.9 522.48h0.5M423.35 522.59h0.5M418.66 521.69h0.5M428.36 517.86h0.5M409.78 520.5h0.5M419.05 520.7h0.5M415.22 520.48h0.5M427.68 525.6h0.5M434.25 520.09h0.5M431.46 517.26h0.5M429.37 519.39h0.5M430.62 519.94h0.5M418.18 517.02h0.5M430.02 519.17h0.5M425.7 520.35h0.5M403.74 520.69h0.5M417.05 520.1h0.5M423.85 513.97h0.5M417.5 518.84h0.5M423.11 521.63h0.5M414.59 518.36h0.5M424.98 513.9h0.5M434.79 516.37h0.5M430.5 519.41h0.5M435.01 521.91h0.5M419.74 514.28h0.5M421.06 519.91h0.5M424.35 515.49h0.5M413.43 516.83h0.5M422.25 516.58h0.5M419.08 521.59h0.5M416.66 522.76h0.5M422.37 518.32h0.5M428.73 520.38h0.5M417.73 517.37h0.5M419.65 519.97h0.5M429.1 519.76h0.5M415.09 515.3h0.5M422.05 520.1h0.5M429.03 517.53h0.5M409.72 521.33h0.5M418.64 515.62h0.5M433.21 521.48h0.5M420.52 519.78h0.5M414.09 521.76h0.5M416.57 517.75h0.5M417.66 515.84h0.5M428.2 523.65h0.5M426.08 513.29h0.5M417.6 517.23h0.5M422.99 513.05h0.5M402.89 517.73h0.5M427.82 518.48h0.5M437.56 516.65h0.5M420.33 518.59h0.5M413.41 522.1h0.5M409.5 516.07h0.5M417.13 517.68h0.5M428.99 517.54h0.5M424.01 517.71h0.5M430.18 518.96h0.5M422.1 514.46h0.5M425.62 517.22h0.5M427.08 520.42h0.5M424.34 522.14h0.5M423.01 516.56h0.5M421.27 519.48h0.5M410.67 520.72h0.5M431.68 519.68h0.5M420.93 520.29h0.5M428.75 517.5h0.5M427.6 516.94h0.5M424.25 520.45h0.5M409.82 520.84h0.5M421.75 514.37h0.5M416.43 517.26h0.5M412.94 520.16h0.5M413.73 519.14h0.5M411.38 518.27h0.5M434.52 520.15h0.5M407.66 516.39h0.5M418.91 514.48h0.5M427.77 518.89h0.5M419.46 519.15h0.5M414.59 515.83h0.5M395.31 514.5h0.5M421.88 520.9h0.5M418.54 513.9h0.5M417.33 519.1h0.5M409.72 522.81h0.5M411.1 519h0.5M411.35 521.52h0.5M409.98 516.5h0.5M428.84 515.5h0.5M415.71 520.5h0.5M422.83 514.13h0.5M424.79 518.19h0.5M429.69 514.18h0.5M426.07 520.12h0.5M417 517.83h0.5M423.06 517.08h0.5M417.24 516.86h0.5M421.08 520.87h0.5M407.36 519.07h0.5M422.44 523.18h0.5M414.1 522.49h0.5M416.45 520.35h0.5M421.75 519.75h0.5M417.27 516.27h0.5M431.79 523.04h0.5M419.07 518.52h0.5M418.3 515.28h0.5M411.15 520.14h0.5M427.52 518.36h0.5M412.55 516h0.5M415.1 520.93h0.5M420.36 515.02h0.5M410.74 519.9h0.5M422.34 523.87h0.5M431.4 519.5h0.5M414.57 519.55h0.5M410.95 517.08h0.5M427.94 520.69h0.5M427.29 523.32h0.5M416.68 521.21h0.5M420.54 519.86h0.5M421.78 520.48h0.5M408.98 515.18h0.5M420.71 520.34h0.5M416.13 518.7h0.5M408.8 521.66h0.5M423.6 523.16h0.5M416.73 518.72h0.5M420.51 522.78h0.5M424.44 520.07h0.5M406.91 516.6h0.5M408.29 518.47h0.5M426.78 519.14h0.5M412.65 524.63h0.5M411.23 522.83h0.5M429.18 519.7h0.5M430.67 515.97h0.5M415.55 518.15h0.5M422.92 518.49h0.5M433.5 517.93h0.5M418.14 515.62h0.5M423.76 521.19h0.5M413.98 515.49h0.5M408.96 522.22h0.5M426.22 519.76h0.5M425.98 520.34h0.5M423.57 514.48h0.5M424.06 520.94h0.5M428.98 521.67h0.5M414.57 519.72h0.5M408.73 522.98h0.5M409.07 520.94h0.5M409.02 516.48h0.5M406.91 519.42h0.5M405.59 517.3h0.5M406.64 519.06h0.5M405.49 520.8h0.5M405.6 517.91h0.5M404.25 519.9h0.5M406.69 522.93h0.5M409.34 519.35h0.5M407.6 521.88h0.5M409.89 517.09h0.5M406.24 518.66h0.5M408.75 520.51h0.5M407.84 516.33h0.5M406.63 522h0.5M405.17 516.56h0.5M409.43 519.42h0.5M411.71 516.03h0.5M411.03 519.17h0.5M406.62 525.77h0.5M407.04 520.2h0.5M407.16 518.82h0.5M409.01 518.77h0.5M410.35 520.56h0.5M408.9 518.86h0.5M410.98 515.47h0.5M411.15 521.46h0.5M407.99 514.04h0.5M409.61 513.74h0.5M409.24 518.54h0.5" fill="none" stroke="#2030e0" stroke-width="0.6" stroke-linecap="round"/>
<ellipse cx="392.6" cy="494.6" rx="5.6" ry="4.6" fill="url(#heat1)" />
<ellipse cx="393.5" cy="494.6" rx="4.5" ry="3.6" fill="url(#heat1)" />
<ellipse cx="423.5" cy="518.8" rx="10" ry="4.5" fill="url(#heat1)" />
<ellipse cx="414" cy="519" rx="6" ry="2.6" fill="#1838e0" opacity="0.7"/>
<ellipse cx="426.5" cy="518.6" rx="6.5" ry="3.4" fill="url(#heat1)" />
<ellipse cx="386.5" cy="494.5" rx="2.2" ry="3.8" fill="none" stroke="#b04040" stroke-width="0.5"/>
<path d="M388 490 L397 488.5 L398 498 L389 499 Z" fill="none" stroke="#b04a4a" stroke-width="0.5"/>
<rect x="409.1" y="503.5" width="29.7" height="27" fill="none" stroke="#c8a048" stroke-width="0.9"/>
<text x="381.8" y="480.9" font-size="6.3" fill="#b83a3a" textLength="18.6" lengthAdjust="spacingAndGlyphs">mCD45</text>
<text x="381.6" y="487.4" font-size="6.3" fill="#b83a3a" textLength="19.2" lengthAdjust="spacingAndGlyphs">40.14%</text>
<text x="423" y="499.9" font-size="6.3" fill="#c8a048" textLength="16.8" lengthAdjust="spacingAndGlyphs">hCD45</text>
<text x="421.6" y="506.4" font-size="6.3" fill="#c8a048" textLength="18.2" lengthAdjust="spacingAndGlyphs">58.60%</text>
<path d="M401.2 559.8 L401.2 595.3 L52.2 595.3 L52.2 624.5" fill="none" stroke="#000" stroke-width="1.4"/>
<path d="M52.2 631 L48.6 624 L55.8 624 Z" fill="#000"/>
<line x1="73.3" y1="655.6" x2="174" y2="655.6" stroke="#000" stroke-width="1.4" />
<path d="M180.4 655.6 L173.6 652.6 L173.6 658.6 Z" fill="#000"/>
<text x="82.3" y="669.8" font-size="8.1" textLength="78.9" lengthAdjust="spacingAndGlyphs">SW480 subcutaneous</text>
<text x="108" y="679.2" font-size="8.1" textLength="29.3" lengthAdjust="spacingAndGlyphs">injection</text>
<text x="168.2" y="618.6" font-size="9.25" textLength="193" lengthAdjust="spacingAndGlyphs">C-peptide or E-peptide intraperitoneal injection</text>
<path d="M233.4 653 L233.4 634 Q233.4 631.7 235.7 631.7 L318.3 631.7 Q320.6 631.7 320.6 634 L320.6 653" fill="none" stroke="#000" stroke-width="1.3"/>
<line x1="276.9" y1="626.1" x2="276.9" y2="631.7" stroke="#000" stroke-width="1.3" />
<line x1="262.3" y1="637.5" x2="262.3" y2="650" stroke="#000" stroke-width="1.3" />
<line x1="291.6" y1="637.5" x2="291.6" y2="650" stroke="#000" stroke-width="1.3" />
<path d="M233.4 654.4 L229.9 647.8 L236.9 647.8 Z" fill="#000"/>
<path d="M262.3 654.4 L258.8 647.8 L265.8 647.8 Z" fill="#000"/>
<path d="M291.6 654.4 L288.1 647.8 L295.1 647.8 Z" fill="#000"/>
<path d="M320.6 654.4 L317.1 647.8 L324.1 647.8 Z" fill="#000"/>
<line x1="189.6" y1="661.2" x2="433" y2="661.2" stroke="#000" stroke-width="1.4" />
<path d="M439.6 661.2 L432.1 657.9 L432.1 664.5 Z" fill="#000"/>
<line x1="189.6" y1="655.9" x2="189.6" y2="661.2" stroke="#000" stroke-width="1.3" />
<text x="190.2" y="672.6" font-size="10.4" text-anchor="middle">0</text>
<line x1="233.4" y1="655.9" x2="233.4" y2="661.2" stroke="#000" stroke-width="1.3" />
<text x="234" y="672.6" font-size="10.4" text-anchor="middle">8</text>
<line x1="262.3" y1="655.9" x2="262.3" y2="661.2" stroke="#000" stroke-width="1.3" />
<text x="262.9" y="672.6" font-size="10.4" text-anchor="middle">11</text>
<line x1="291.6" y1="655.9" x2="291.6" y2="661.2" stroke="#000" stroke-width="1.3" />
<text x="292.2" y="672.6" font-size="10.4" text-anchor="middle">14</text>
<line x1="320.6" y1="655.9" x2="320.6" y2="661.2" stroke="#000" stroke-width="1.3" />
<text x="321.2" y="672.6" font-size="10.4" text-anchor="middle">17</text>
<line x1="388.3" y1="655.9" x2="388.3" y2="661.2" stroke="#000" stroke-width="1.3" />
<text x="388.9" y="672.6" font-size="10.4" text-anchor="middle">25</text>
<text x="376.9" y="648.4" font-size="8.1" textLength="29.6" lengthAdjust="spacingAndGlyphs">sacrifice</text>
<text x="467.9" y="446.4" font-size="9.5">N</text>
<line x1="524.8" y1="470.2" x2="524.8" y2="543.7" stroke="#000" stroke-width="1.3" />
<line x1="521.3" y1="543.1" x2="524.8" y2="543.1" stroke="#000" stroke-width="1.1" />
<text x="519.8" y="546.3" font-size="9.2" text-anchor="end">0</text>
<line x1="521.3" y1="519" x2="524.8" y2="519" stroke="#000" stroke-width="1.1" />
<text x="519.8" y="522.2" font-size="9.2" text-anchor="end">500</text>
<line x1="521.3" y1="494.9" x2="524.8" y2="494.9" stroke="#000" stroke-width="1.1" />
<text x="519.8" y="498.1" font-size="9.2" text-anchor="end">1000</text>
<line x1="521.3" y1="470.8" x2="524.8" y2="470.8" stroke="#000" stroke-width="1.1" />
<text x="519.8" y="474" font-size="9.2" text-anchor="end">1500</text>
<line x1="524.2" y1="543.1" x2="649.2" y2="543.1" stroke="#000" stroke-width="1.3" />
<line x1="539" y1="543.1" x2="539" y2="546.1" stroke="#000" stroke-width="1.1" />
<text x="539" y="554.8" font-size="9.2" text-anchor="middle">10</text>
<line x1="559.9" y1="543.1" x2="559.9" y2="546.1" stroke="#000" stroke-width="1.1" />
<text x="559.9" y="554.8" font-size="9.2" text-anchor="middle">13</text>
<line x1="580.7" y1="543.1" x2="580.7" y2="546.1" stroke="#000" stroke-width="1.1" />
<text x="580.7" y="554.8" font-size="9.2" text-anchor="middle">16</text>
<line x1="601.5" y1="543.1" x2="601.5" y2="546.1" stroke="#000" stroke-width="1.1" />
<text x="601.5" y="554.8" font-size="9.2" text-anchor="middle">19</text>
<line x1="622.3" y1="543.1" x2="622.3" y2="546.1" stroke="#000" stroke-width="1.1" />
<text x="622.3" y="554.8" font-size="9.2" text-anchor="middle">22</text>
<line x1="643.3" y1="543.1" x2="643.3" y2="546.1" stroke="#000" stroke-width="1.1" />
<text x="643.3" y="554.8" font-size="9.2" text-anchor="middle">25</text>
<text x="594.5" y="563.8" font-size="9.25" text-anchor="middle">Days</text>
<text x="491.8" y="503" font-size="9.1" text-anchor="middle" transform="rotate(-90 491.8 503)">Tumor Volume(mm<tspan dy="-3.2" font-size="6">3</tspan><tspan dy="3.2">)</tspan></text>
<line x1="532" y1="462" x2="538.6" y2="462" stroke="#0a14f0" stroke-width="0.8" />
<circle cx="535.3" cy="462" r="1.5" fill="#0a14f0" />
<text x="543" y="464.9" font-size="9.1">C-peptide</text>
<line x1="532" y1="475.4" x2="538.6" y2="475.4" stroke="#f01a1a" stroke-width="0.8" />
<path d="M535.3 473.6 L533.57 476.75 L537.02 476.75 Z" fill="#f01a1a"/>
<text x="543" y="477.5" font-size="9.1">E-peptide</text>
<polyline points="539,535.82 559.9,529.51 580.7,519.63 601.5,512.4 622.3,501.02 643.3,488.3" fill="none" stroke="#0a14f0" stroke-width="0.8"/>
<line x1="539" y1="535.1" x2="539" y2="536.54" stroke="#0a14f0" stroke-width="0.8" />
<line x1="537" y1="535.1" x2="541" y2="535.1" stroke="#0a14f0" stroke-width="0.8" />
<line x1="537" y1="536.54" x2="541" y2="536.54" stroke="#0a14f0" stroke-width="0.8" />
<circle cx="539" cy="535.82" r="1.7" fill="#0a14f0" />
<line x1="559.9" y1="527.72" x2="559.9" y2="531.05" stroke="#0a14f0" stroke-width="0.8" />
<line x1="557.9" y1="527.72" x2="561.9" y2="527.72" stroke="#0a14f0" stroke-width="0.8" />
<line x1="557.9" y1="531.05" x2="561.9" y2="531.05" stroke="#0a14f0" stroke-width="0.8" />
<circle cx="559.9" cy="529.51" r="1.7" fill="#0a14f0" />
<line x1="580.7" y1="516.11" x2="580.7" y2="522.71" stroke="#0a14f0" stroke-width="0.8" />
<line x1="578.7" y1="516.11" x2="582.7" y2="516.11" stroke="#0a14f0" stroke-width="0.8" />
<line x1="578.7" y1="522.71" x2="582.7" y2="522.71" stroke="#0a14f0" stroke-width="0.8" />
<circle cx="580.7" cy="519.63" r="1.7" fill="#0a14f0" />
<line x1="601.5" y1="509.12" x2="601.5" y2="515.29" stroke="#0a14f0" stroke-width="0.8" />
<line x1="599.5" y1="509.12" x2="603.5" y2="509.12" stroke="#0a14f0" stroke-width="0.8" />
<line x1="599.5" y1="515.29" x2="603.5" y2="515.29" stroke="#0a14f0" stroke-width="0.8" />
<circle cx="601.5" cy="512.4" r="1.7" fill="#0a14f0" />
<line x1="622.3" y1="495.53" x2="622.3" y2="506.52" stroke="#0a14f0" stroke-width="0.8" />
<line x1="620.3" y1="495.53" x2="624.3" y2="495.53" stroke="#0a14f0" stroke-width="0.8" />
<line x1="620.3" y1="506.52" x2="624.3" y2="506.52" stroke="#0a14f0" stroke-width="0.8" />
<circle cx="622.3" cy="501.02" r="1.7" fill="#0a14f0" />
<line x1="643.3" y1="480.2" x2="643.3" y2="496.39" stroke="#0a14f0" stroke-width="0.8" />
<line x1="641.3" y1="480.2" x2="645.3" y2="480.2" stroke="#0a14f0" stroke-width="0.8" />
<line x1="641.3" y1="496.39" x2="645.3" y2="496.39" stroke="#0a14f0" stroke-width="0.8" />
<circle cx="643.3" cy="488.3" r="1.7" fill="#0a14f0" />
<polyline points="539,537.99 559.9,536.5 580.7,533.22 601.5,529.89 622.3,527.1 643.3,522.9" fill="none" stroke="#f01a1a" stroke-width="0.8"/>
<line x1="539" y1="537.51" x2="539" y2="538.47" stroke="#f01a1a" stroke-width="0.8" />
<line x1="537" y1="537.51" x2="541" y2="537.51" stroke="#f01a1a" stroke-width="0.8" />
<line x1="537" y1="538.47" x2="541" y2="538.47" stroke="#f01a1a" stroke-width="0.8" />
<path d="M539 535.95 L537.04 539.52 L540.96 539.52 Z" fill="#f01a1a"/>
<line x1="559.9" y1="535.77" x2="559.9" y2="537.22" stroke="#f01a1a" stroke-width="0.8" />
<line x1="557.9" y1="535.77" x2="561.9" y2="535.77" stroke="#f01a1a" stroke-width="0.8" />
<line x1="557.9" y1="537.22" x2="561.9" y2="537.22" stroke="#f01a1a" stroke-width="0.8" />
<path d="M559.9 534.46 L557.94 538.03 L561.86 538.03 Z" fill="#f01a1a"/>
<line x1="580.7" y1="530.62" x2="580.7" y2="535.39" stroke="#f01a1a" stroke-width="0.8" />
<line x1="578.7" y1="530.62" x2="582.7" y2="530.62" stroke="#f01a1a" stroke-width="0.8" />
<line x1="578.7" y1="535.39" x2="582.7" y2="535.39" stroke="#f01a1a" stroke-width="0.8" />
<path d="M580.7 531.18 L578.75 534.75 L582.66 534.75 Z" fill="#f01a1a"/>
<line x1="601.5" y1="525.12" x2="601.5" y2="533.89" stroke="#f01a1a" stroke-width="0.8" />
<line x1="599.5" y1="525.12" x2="603.5" y2="525.12" stroke="#f01a1a" stroke-width="0.8" />
<line x1="599.5" y1="533.89" x2="603.5" y2="533.89" stroke="#f01a1a" stroke-width="0.8" />
<path d="M601.5 527.85 L599.54 531.42 L603.46 531.42 Z" fill="#f01a1a"/>
<line x1="622.3" y1="521.8" x2="622.3" y2="531.48" stroke="#f01a1a" stroke-width="0.8" />
<line x1="620.3" y1="521.8" x2="624.3" y2="521.8" stroke="#f01a1a" stroke-width="0.8" />
<line x1="620.3" y1="531.48" x2="624.3" y2="531.48" stroke="#f01a1a" stroke-width="0.8" />
<path d="M622.3 525.06 L620.34 528.63 L624.25 528.63 Z" fill="#f01a1a"/>
<line x1="643.3" y1="516.11" x2="643.3" y2="529.31" stroke="#f01a1a" stroke-width="0.8" />
<line x1="641.3" y1="516.11" x2="645.3" y2="516.11" stroke="#f01a1a" stroke-width="0.8" />
<line x1="641.3" y1="529.31" x2="645.3" y2="529.31" stroke="#f01a1a" stroke-width="0.8" />
<path d="M643.3 520.86 L641.34 524.43 L645.25 524.43 Z" fill="#f01a1a"/>
<line x1="648.7" y1="485" x2="648.7" y2="527.1" stroke="#000" stroke-width="1.4" />
<text x="654.3" y="507.5" font-size="7.6" text-anchor="middle" transform="rotate(90 654.3 507.5)" textLength="29.6" lengthAdjust="spacingAndGlyphs"><tspan font-style="italic">p</tspan>&lt;0.0001</text>
<text x="468.2" y="578.1" font-size="9.5">O</text>
<rect x="501.1" y="575.8" width="143.5" height="109.8" fill="url(#bgO)"/>
<rect x="506.4" y="655.6" width="138.2" height="29.6" fill="url(#rulerO)"/>
<path d="M507.2 656.2v7M507.2 684.8v-5.6M508.38 656.2v3.2M508.38 684.8v-2.56M509.56 656.2v3.2M509.56 684.8v-2.56M510.74 656.2v3.2M510.74 684.8v-2.56M511.92 656.2v3.2M511.92 684.8v-2.56M513.1 656.2v5M513.1 684.8v-4M514.28 656.2v3.2M514.28 684.8v-2.56M515.46 656.2v3.2M515.46 684.8v-2.56M516.64 656.2v3.2M516.64 684.8v-2.56M517.82 656.2v3.2M517.82 684.8v-2.56M519 656.2v7M519 684.8v-5.6M520.18 656.2v3.2M520.18 684.8v-2.56M521.36 656.2v3.2M521.36 684.8v-2.56M522.54 656.2v3.2M522.54 684.8v-2.56M523.72 656.2v3.2M523.72 684.8v-2.56M524.9 656.2v5M524.9 684.8v-4M526.08 656.2v3.2M526.08 684.8v-2.56M527.26 656.2v3.2M527.26 684.8v-2.56M528.44 656.2v3.2M528.44 684.8v-2.56M529.62 656.2v3.2M529.62 684.8v-2.56M530.8 656.2v7M530.8 684.8v-5.6M531.98 656.2v3.2M531.98 684.8v-2.56M533.16 656.2v3.2M533.16 684.8v-2.56M534.34 656.2v3.2M534.34 684.8v-2.56M535.52 656.2v3.2M535.52 684.8v-2.56M536.7 656.2v5M536.7 684.8v-4M537.88 656.2v3.2M537.88 684.8v-2.56M539.06 656.2v3.2M539.06 684.8v-2.56M540.24 656.2v3.2M540.24 684.8v-2.56M541.42 656.2v3.2M541.42 684.8v-2.56M542.6 656.2v7M542.6 684.8v-5.6M543.78 656.2v3.2M543.78 684.8v-2.56M544.96 656.2v3.2M544.96 684.8v-2.56M546.14 656.2v3.2M546.14 684.8v-2.56M547.32 656.2v3.2M547.32 684.8v-2.56M548.5 656.2v5M548.5 684.8v-4M549.68 656.2v3.2M549.68 684.8v-2.56M550.86 656.2v3.2M550.86 684.8v-2.56M552.04 656.2v3.2M552.04 684.8v-2.56M553.22 656.2v3.2M553.22 684.8v-2.56M554.4 656.2v7M554.4 684.8v-5.6M555.58 656.2v3.2M555.58 684.8v-2.56M556.76 656.2v3.2M556.76 684.8v-2.56M557.94 656.2v3.2M557.94 684.8v-2.56M559.12 656.2v3.2M559.12 684.8v-2.56M560.3 656.2v5M560.3 684.8v-4M561.48 656.2v3.2M561.48 684.8v-2.56M562.66 656.2v3.2M562.66 684.8v-2.56M563.84 656.2v3.2M563.84 684.8v-2.56M565.02 656.2v3.2M565.02 684.8v-2.56M566.2 656.2v7M566.2 684.8v-5.6M567.38 656.2v3.2M567.38 684.8v-2.56M568.56 656.2v3.2M568.56 684.8v-2.56M569.74 656.2v3.2M569.74 684.8v-2.56M570.92 656.2v3.2M570.92 684.8v-2.56M572.1 656.2v5M572.1 684.8v-4M573.28 656.2v3.2M573.28 684.8v-2.56M574.46 656.2v3.2M574.46 684.8v-2.56M575.64 656.2v3.2M575.64 684.8v-2.56M576.82 656.2v3.2M576.82 684.8v-2.56M578 656.2v7M578 684.8v-5.6M579.18 656.2v3.2M579.18 684.8v-2.56M580.36 656.2v3.2M580.36 684.8v-2.56M581.54 656.2v3.2M581.54 684.8v-2.56M582.72 656.2v3.2M582.72 684.8v-2.56M583.9 656.2v5M583.9 684.8v-4M585.08 656.2v3.2M585.08 684.8v-2.56M586.26 656.2v3.2M586.26 684.8v-2.56M587.44 656.2v3.2M587.44 684.8v-2.56M588.62 656.2v3.2M588.62 684.8v-2.56M589.8 656.2v7M589.8 684.8v-5.6M590.98 656.2v3.2M590.98 684.8v-2.56M592.16 656.2v3.2M592.16 684.8v-2.56M593.34 656.2v3.2M593.34 684.8v-2.56M594.52 656.2v3.2M594.52 684.8v-2.56M595.7 656.2v5M595.7 684.8v-4M596.88 656.2v3.2M596.88 684.8v-2.56M598.06 656.2v3.2M598.06 684.8v-2.56M599.24 656.2v3.2M599.24 684.8v-2.56M600.42 656.2v3.2M600.42 684.8v-2.56M601.6 656.2v7M601.6 684.8v-5.6M602.78 656.2v3.2M602.78 684.8v-2.56M603.96 656.2v3.2M603.96 684.8v-2.56M605.14 656.2v3.2M605.14 684.8v-2.56M606.32 656.2v3.2M606.32 684.8v-2.56M607.5 656.2v5M607.5 684.8v-4M608.68 656.2v3.2M608.68 684.8v-2.56M609.86 656.2v3.2M609.86 684.8v-2.56M611.04 656.2v3.2M611.04 684.8v-2.56M612.22 656.2v3.2M612.22 684.8v-2.56M613.4 656.2v7M613.4 684.8v-5.6M614.58 656.2v3.2M614.58 684.8v-2.56M615.76 656.2v3.2M615.76 684.8v-2.56M616.94 656.2v3.2M616.94 684.8v-2.56M618.12 656.2v3.2M618.12 684.8v-2.56M619.3 656.2v5M619.3 684.8v-4M620.48 656.2v3.2M620.48 684.8v-2.56M621.66 656.2v3.2M621.66 684.8v-2.56M622.84 656.2v3.2M622.84 684.8v-2.56M624.02 656.2v3.2M624.02 684.8v-2.56M625.2 656.2v7M625.2 684.8v-5.6M626.38 656.2v3.2M626.38 684.8v-2.56M627.56 656.2v3.2M627.56 684.8v-2.56M628.74 656.2v3.2M628.74 684.8v-2.56M629.92 656.2v3.2M629.92 684.8v-2.56M631.1 656.2v5M631.1 684.8v-4M632.28 656.2v3.2M632.28 684.8v-2.56M633.46 656.2v3.2M633.46 684.8v-2.56M634.64 656.2v3.2M634.64 684.8v-2.56M635.82 656.2v3.2M635.82 684.8v-2.56M637 656.2v7M637 684.8v-5.6M638.18 656.2v3.2M638.18 684.8v-2.56M639.36 656.2v3.2M639.36 684.8v-2.56M640.54 656.2v3.2M640.54 684.8v-2.56M641.72 656.2v3.2M641.72 684.8v-2.56M642.9 656.2v5M642.9 684.8v-4" fill="none" stroke="#6e6e72" stroke-width="0.5"/>
<text x="518.2" y="674.6" font-size="8.6" text-anchor="middle" fill="#3a3a3a">1</text>
<text x="530.05" y="674.6" font-size="8.6" text-anchor="middle" fill="#3a3a3a">2</text>
<text x="541.9" y="674.6" font-size="8.6" text-anchor="middle" fill="#3a3a3a">3</text>
<text x="553.75" y="674.6" font-size="8.6" text-anchor="middle" fill="#3a3a3a">4</text>
<text x="565.6" y="674.6" font-size="8.6" text-anchor="middle" fill="#3a3a3a">5</text>
<text x="577.45" y="674.6" font-size="8.6" text-anchor="middle" fill="#3a3a3a">6</text>
<text x="589.3" y="674.6" font-size="8.6" text-anchor="middle" fill="#3a3a3a">7</text>
<text x="601.15" y="674.6" font-size="8.6" text-anchor="middle" fill="#3a3a3a">8</text>
<text x="613" y="674.6" font-size="8.6" text-anchor="middle" fill="#3a3a3a">9</text>
<text x="624.9" y="674.6" font-size="10.2" text-anchor="middle" fill="#b02020">10</text>
<text x="635.2" y="674.6" font-size="8.6" text-anchor="middle" fill="#3a3a3a">1</text>
<g transform="rotate(-7.09 517 595)"><ellipse cx="517" cy="595" rx="8.6" ry="7.22" fill="#cc9670"/><ellipse cx="518.07" cy="592.21" rx="6.1" ry="4.88" fill="#cc9670"/><ellipse cx="515.45" cy="592.69" rx="6.76" ry="4.89" fill="#cc9670"/><ellipse cx="517" cy="595" rx="8.08" ry="6.79" fill="url(#tumO)"/><ellipse cx="518.07" cy="592.21" rx="5.73" ry="4.59" fill="url(#tumO)"/><ellipse cx="515.45" cy="592.69" rx="6.36" ry="4.59" fill="url(#tumO)"/><ellipse cx="521.16" cy="591.94" rx="3.26" ry="2.68" fill="url(#redO)" opacity="0.6"/><ellipse cx="521.06" cy="597.6" rx="3.03" ry="2.81" fill="url(#redO)" opacity="0.6"/><ellipse cx="519" cy="592.18" rx="2.02" ry="1.39" fill="#faeee2" opacity="0.8"/><ellipse cx="519.75" cy="592.42" rx="1.94" ry="1.15" fill="#faeee2" opacity="0.8"/></g>
<g transform="rotate(32.56 545 595)"><ellipse cx="545" cy="595" rx="8.08" ry="7.22" fill="#cc9670"/><ellipse cx="541.74" cy="594.27" rx="5.75" ry="4.83" fill="#cc9670"/><ellipse cx="548.07" cy="595.66" rx="5.79" ry="5.47" fill="#cc9670"/><ellipse cx="545" cy="595" rx="7.6" ry="6.79" fill="url(#tumO)"/><ellipse cx="541.74" cy="594.27" rx="5.41" ry="4.54" fill="url(#tumO)"/><ellipse cx="548.07" cy="595.66" rx="5.44" ry="5.14" fill="url(#tumO)"/><ellipse cx="543.64" cy="598.55" rx="2.53" ry="2.84" fill="url(#redO)" opacity="0.6"/><ellipse cx="541.01" cy="592.88" rx="2.55" ry="3.33" fill="url(#redO)" opacity="0.6"/><ellipse cx="545.71" cy="594.24" rx="1.94" ry="1.48" fill="#faeee2" opacity="0.8"/><ellipse cx="543.72" cy="595.93" rx="1.4" ry="1.31" fill="#faeee2" opacity="0.8"/></g>
<g transform="rotate(-32.78 573.3 595)"><ellipse cx="573.3" cy="595" rx="7.74" ry="7.57" fill="#cc9670"/><ellipse cx="576.01" cy="594.47" rx="6.11" ry="5.92" fill="#cc9670"/><ellipse cx="573.13" cy="598.1" rx="5.42" ry="5.31" fill="#cc9670"/><ellipse cx="573.3" cy="595" rx="7.28" ry="7.11" fill="url(#tumO)"/><ellipse cx="576.01" cy="594.47" rx="5.75" ry="5.57" fill="url(#tumO)"/><ellipse cx="573.13" cy="598.1" rx="5.09" ry="4.99" fill="url(#tumO)"/><ellipse cx="575.65" cy="597.6" rx="2.64" ry="2.8" fill="url(#redO)" opacity="0.6"/><ellipse cx="574.81" cy="595.74" rx="2.44" ry="2.56" fill="url(#redO)" opacity="0.6"/><ellipse cx="572.81" cy="596.33" rx="1.82" ry="1.36" fill="#faeee2" opacity="0.8"/><ellipse cx="571.47" cy="596.41" rx="1.29" ry="1.12" fill="#faeee2" opacity="0.8"/></g>
<g transform="rotate(-25.63 600.6 595)"><ellipse cx="600.6" cy="595" rx="7.05" ry="7.57" fill="#cc9670"/><ellipse cx="597.67" cy="596.56" rx="4.99" ry="5.11" fill="#cc9670"/><ellipse cx="599.3" cy="592.52" rx="5.13" ry="5.1" fill="#cc9670"/><ellipse cx="600.6" cy="595" rx="6.63" ry="7.11" fill="url(#tumO)"/><ellipse cx="597.67" cy="596.56" rx="4.69" ry="4.8" fill="url(#tumO)"/><ellipse cx="599.3" cy="592.52" rx="4.82" ry="4.8" fill="url(#tumO)"/><ellipse cx="602.49" cy="591.44" rx="2.45" ry="3.41" fill="url(#redO)" opacity="0.6"/><ellipse cx="597.55" cy="594.13" rx="2.31" ry="2.54" fill="url(#redO)" opacity="0.6"/><ellipse cx="600.56" cy="596.5" rx="1.76" ry="1.1" fill="#faeee2" opacity="0.8"/><ellipse cx="601.71" cy="593.67" rx="1.07" ry="1.07" fill="#faeee2" opacity="0.8"/></g>
<g transform="rotate(-22.22 630.2 595)"><ellipse cx="630.2" cy="595" rx="6.88" ry="7.74" fill="#cc9670"/><ellipse cx="627.51" cy="593.65" rx="4.69" ry="5.15" fill="#cc9670"/><ellipse cx="630.68" cy="591.75" rx="4.59" ry="5.61" fill="#cc9670"/><ellipse cx="630.2" cy="595" rx="6.47" ry="7.28" fill="url(#tumO)"/><ellipse cx="627.51" cy="593.65" rx="4.41" ry="4.84" fill="url(#tumO)"/><ellipse cx="630.68" cy="591.75" rx="4.32" ry="5.28" fill="url(#tumO)"/><ellipse cx="631.59" cy="596.63" rx="3.12" ry="3.52" fill="url(#redO)" opacity="0.6"/><ellipse cx="631.52" cy="598.84" rx="2.67" ry="2.4" fill="url(#redO)" opacity="0.6"/><ellipse cx="632.17" cy="592.51" rx="1.08" ry="0.99" fill="#faeee2" opacity="0.8"/><ellipse cx="630.02" cy="596.27" rx="1.24" ry="1.59" fill="#faeee2" opacity="0.8"/></g>
<g transform="rotate(-4.91 519.1 630.3)"><ellipse cx="519.1" cy="630.3" rx="6.54" ry="5.85" fill="#e4c4a8"/><ellipse cx="516.8" cy="629.98" rx="4.93" ry="3.92" fill="#e4c4a8"/><ellipse cx="518.68" cy="628.07" rx="4.85" ry="4.43" fill="#e4c4a8"/><ellipse cx="519.1" cy="630.3" rx="6.14" ry="5.5" fill="url(#tumO2)"/><ellipse cx="516.8" cy="629.98" rx="4.64" ry="3.69" fill="url(#tumO2)"/><ellipse cx="518.68" cy="628.07" rx="4.56" ry="4.16" fill="url(#tumO2)"/><ellipse cx="515.93" cy="633.01" rx="1.97" ry="2.6" fill="url(#redO2)" opacity="0.5"/><ellipse cx="516.19" cy="632.54" rx="2.65" ry="2.23" fill="url(#redO2)" opacity="0.5"/><ellipse cx="519.56" cy="631.55" rx="1.23" ry="1.18" fill="#fcf4ec" opacity="0.8"/><ellipse cx="516.39" cy="628.41" rx="1.37" ry="1.01" fill="#fcf4ec" opacity="0.8"/></g>
<g transform="rotate(9.64 547 630.3)"><ellipse cx="547" cy="630.3" rx="5.16" ry="5.68" fill="#e4c4a8"/><ellipse cx="546.29" cy="632.66" rx="3.71" ry="4" fill="#e4c4a8"/><ellipse cx="548.99" cy="630.57" rx="3.79" ry="3.81" fill="#e4c4a8"/><ellipse cx="547" cy="630.3" rx="4.85" ry="5.34" fill="url(#tumO2)"/><ellipse cx="546.29" cy="632.66" rx="3.48" ry="3.76" fill="url(#tumO2)"/><ellipse cx="548.99" cy="630.57" rx="3.56" ry="3.58" fill="url(#tumO2)"/><ellipse cx="546.17" cy="628.56" rx="2.27" ry="2.34" fill="url(#redO2)" opacity="0.5"/><ellipse cx="548.78" cy="632.74" rx="2.22" ry="2.48" fill="url(#redO2)" opacity="0.5"/><ellipse cx="544.79" cy="628.77" rx="0.87" ry="0.79" fill="#fcf4ec" opacity="0.8"/><ellipse cx="546.26" cy="629.51" rx="1.23" ry="0.83" fill="#fcf4ec" opacity="0.8"/></g>
<g transform="rotate(-21.88 573.5 630.3)"><ellipse cx="573.5" cy="630.3" rx="5.5" ry="4.99" fill="#e4c4a8"/><ellipse cx="575.56" cy="629.9" rx="4.19" ry="3.39" fill="#e4c4a8"/><ellipse cx="571.14" cy="631.21" rx="4.28" ry="3.86" fill="#e4c4a8"/><ellipse cx="573.5" cy="630.3" rx="5.17" ry="4.69" fill="url(#tumO2)"/><ellipse cx="575.56" cy="629.9" rx="3.94" ry="3.19" fill="url(#tumO2)"/><ellipse cx="571.14" cy="631.21" rx="4.02" ry="3.63" fill="url(#tumO2)"/><ellipse cx="573.1" cy="628.6" rx="2.21" ry="1.37" fill="url(#redO2)" opacity="0.5"/><ellipse cx="570.94" cy="628.99" rx="2.28" ry="1.99" fill="url(#redO2)" opacity="0.5"/><ellipse cx="573.06" cy="630" rx="1.04" ry="1" fill="#fcf4ec" opacity="0.8"/><ellipse cx="573.04" cy="629.79" rx="0.93" ry="0.77" fill="#fcf4ec" opacity="0.8"/></g>
<g transform="rotate(-30.56 601.3 630.3)"><ellipse cx="601.3" cy="630.3" rx="5.16" ry="5.5" fill="#e4c4a8"/><ellipse cx="603.15" cy="630.31" rx="4" ry="3.69" fill="#e4c4a8"/><ellipse cx="600.98" cy="627.85" rx="3.69" ry="3.67" fill="#e4c4a8"/><ellipse cx="601.3" cy="630.3" rx="4.85" ry="5.17" fill="url(#tumO2)"/><ellipse cx="603.15" cy="630.31" rx="3.76" ry="3.47" fill="url(#tumO2)"/><ellipse cx="600.98" cy="627.85" rx="3.47" ry="3.45" fill="url(#tumO2)"/><ellipse cx="602.95" cy="633.05" rx="1.92" ry="2.03" fill="url(#redO2)" opacity="0.5"/><ellipse cx="599.24" cy="631.29" rx="2.13" ry="1.44" fill="url(#redO2)" opacity="0.5"/><ellipse cx="602.13" cy="629.9" rx="0.77" ry="0.65" fill="#fcf4ec" opacity="0.8"/><ellipse cx="598.91" cy="631.35" rx="1.2" ry="1.06" fill="#fcf4ec" opacity="0.8"/></g>
<g transform="rotate(3.57 630.8 630.3)"><ellipse cx="630.8" cy="630.3" rx="4.99" ry="4.82" fill="#e4c4a8"/><ellipse cx="631.49" cy="631.94" rx="3.41" ry="3.51" fill="#e4c4a8"/><ellipse cx="632.18" cy="628.84" rx="3.79" ry="3.31" fill="#e4c4a8"/><ellipse cx="630.8" cy="630.3" rx="4.69" ry="4.53" fill="url(#tumO2)"/><ellipse cx="631.49" cy="631.94" rx="3.2" ry="3.3" fill="url(#tumO2)"/><ellipse cx="632.18" cy="628.84" rx="3.56" ry="3.11" fill="url(#tumO2)"/><ellipse cx="630.39" cy="631.52" rx="2.29" ry="1.39" fill="url(#redO2)" opacity="0.5"/><ellipse cx="629.76" cy="628.49" rx="1.66" ry="1.88" fill="url(#redO2)" opacity="0.5"/><ellipse cx="629.14" cy="630.35" rx="1.18" ry="0.99" fill="#fcf4ec" opacity="0.8"/><ellipse cx="631.16" cy="629.84" rx="0.87" ry="0.87" fill="#fcf4ec" opacity="0.8"/></g>
<text x="644.8" y="600.9" font-size="9.25" textLength="40.5" lengthAdjust="spacingAndGlyphs">C-peptide</text>
<text x="644.8" y="634" font-size="9.25" textLength="40.5" lengthAdjust="spacingAndGlyphs">E-peptide</text>
<text x="0" y="699.2" font-size="9.5">P</text>
<line x1="43.4" y1="707.6" x2="43.4" y2="811.5" stroke="#000" stroke-width="1.3" />
<line x1="37.7" y1="810.9" x2="43.4" y2="810.9" stroke="#000" stroke-width="1.1" />
<text x="37" y="814.1" font-size="9.3" text-anchor="end">0.0</text>
<line x1="37.7" y1="790.36" x2="43.4" y2="790.36" stroke="#000" stroke-width="1.1" />
<text x="37" y="793.56" font-size="9.3" text-anchor="end">0.2</text>
<line x1="37.7" y1="769.82" x2="43.4" y2="769.82" stroke="#000" stroke-width="1.1" />
<text x="37" y="773.02" font-size="9.3" text-anchor="end">0.4</text>
<line x1="37.7" y1="749.28" x2="43.4" y2="749.28" stroke="#000" stroke-width="1.1" />
<text x="37" y="752.48" font-size="9.3" text-anchor="end">0.6</text>
<line x1="37.7" y1="728.74" x2="43.4" y2="728.74" stroke="#000" stroke-width="1.1" />
<text x="37" y="731.94" font-size="9.3" text-anchor="end">0.8</text>
<line x1="37.7" y1="708.2" x2="43.4" y2="708.2" stroke="#000" stroke-width="1.1" />
<text x="37" y="711.4" font-size="9.3" text-anchor="end">1.0</text>
<line x1="42.8" y1="810.9" x2="119.8" y2="810.9" stroke="#000" stroke-width="1.3" />
<line x1="64.7" y1="810.9" x2="64.7" y2="813.9" stroke="#000" stroke-width="1.1" />
<line x1="97.4" y1="810.9" x2="97.4" y2="813.9" stroke="#000" stroke-width="1.1" />
<text x="14.3" y="757.6" font-size="9.1" text-anchor="middle" transform="rotate(-90 14.3 757.6)" textLength="69.2" lengthAdjust="spacingAndGlyphs">Tumor Weight(g)</text>
<rect x="60.1" y="712.76" width="3.2" height="3.2" fill="#0a14f0"/>
<rect x="66.9" y="715.33" width="3.2" height="3.2" fill="#0a14f0"/>
<rect x="63.1" y="723.44" width="3.2" height="3.2" fill="#0a14f0"/>
<rect x="63.1" y="728.17" width="3.2" height="3.2" fill="#0a14f0"/>
<rect x="63.1" y="732.27" width="3.2" height="3.2" fill="#0a14f0"/>
<line x1="64.7" y1="715.9" x2="64.7" y2="732.33" stroke="#0a14f0" stroke-width="1.1" />
<line x1="59.7" y1="715.9" x2="69.7" y2="715.9" stroke="#0a14f0" stroke-width="1.1" />
<line x1="59.7" y1="732.33" x2="69.7" y2="732.33" stroke="#0a14f0" stroke-width="1.1" />
<line x1="55.2" y1="724.32" x2="74.2" y2="724.32" stroke="#0a14f0" stroke-width="1.43" />
<path d="M97.4 766.17 L95.68 769.32 L99.12 769.32 Z" fill="#f01a1a"/>
<path d="M94 773.16 L92.28 776.31 L95.72 776.31 Z" fill="#f01a1a"/>
<path d="M101.2 774.18 L99.48 777.33 L102.92 777.33 Z" fill="#f01a1a"/>
<path d="M97.4 770.59 L95.68 773.74 L99.12 773.74 Z" fill="#f01a1a"/>
<path d="M97.4 780.04 L95.68 783.19 L99.12 783.19 Z" fill="#f01a1a"/>
<line x1="97.4" y1="769.51" x2="97.4" y2="779.06" stroke="#f01a1a" stroke-width="1.1" />
<line x1="92.4" y1="769.51" x2="102.4" y2="769.51" stroke="#f01a1a" stroke-width="1.1" />
<line x1="92.4" y1="779.06" x2="102.4" y2="779.06" stroke="#f01a1a" stroke-width="1.1" />
<line x1="87.9" y1="774.24" x2="106.9" y2="774.24" stroke="#f01a1a" stroke-width="1.43" />
<line x1="64.5" y1="704.4" x2="104" y2="704.4" stroke="#000" stroke-width="1.3" />
<text x="88.9" y="701.1" font-size="7" text-anchor="middle"><tspan font-style="italic">p</tspan>&lt;0.0001</text>
<text x="78.1" y="822.5" font-size="9.3" text-anchor="end" transform="rotate(-30 78.1 822.5)">C-peptide</text>
<text x="117.2" y="821.8" font-size="9.3" text-anchor="end" transform="rotate(-30 117.2 821.8)">E-peptide</text>
<text x="161.9" y="700.3" font-size="9.5">Q</text>
<line x1="216.5" y1="702.4" x2="216.5" y2="812.3" stroke="#000" stroke-width="1.3" />
<line x1="212.3" y1="811.7" x2="216.5" y2="811.7" stroke="#000" stroke-width="1.1" />
<text x="209.4" y="814.9" font-size="8.7" text-anchor="end">1</text>
<line x1="212.3" y1="784.53" x2="216.5" y2="784.53" stroke="#000" stroke-width="1.1" />
<text x="209.4" y="787.73" font-size="8.7" text-anchor="end">2</text>
<line x1="212.3" y1="757.35" x2="216.5" y2="757.35" stroke="#000" stroke-width="1.1" />
<text x="209.4" y="760.55" font-size="8.7" text-anchor="end">3</text>
<line x1="212.3" y1="730.17" x2="216.5" y2="730.17" stroke="#000" stroke-width="1.1" />
<text x="209.4" y="733.38" font-size="8.7" text-anchor="end">4</text>
<line x1="212.3" y1="703" x2="216.5" y2="703" stroke="#000" stroke-width="1.1" />
<text x="209.4" y="706.2" font-size="8.7" text-anchor="end">5</text>
<line x1="215.9" y1="811.7" x2="299.5" y2="811.7" stroke="#000" stroke-width="1.3" />
<line x1="240.1" y1="811.7" x2="240.1" y2="814.7" stroke="#000" stroke-width="1.1" />
<line x1="275.7" y1="811.7" x2="275.7" y2="814.7" stroke="#000" stroke-width="1.1" />
<text x="200.6" y="757" font-size="8.9" text-anchor="middle" transform="rotate(-90 200.6 757)" textLength="121.6" lengthAdjust="spacingAndGlyphs">h-CD8<tspan dy="-3" font-size="5.8">+</tspan><tspan dy="3"> of h-CD45</tspan><tspan dy="-3" font-size="5.8">+</tspan><tspan dy="3"> TIL  Cells (%)</tspan></text>
<rect x="238.5" y="747.6" width="3.2" height="3.2" fill="#0a14f0"/>
<rect x="231" y="757.11" width="3.2" height="3.2" fill="#0a14f0"/>
<rect x="246" y="757.11" width="3.2" height="3.2" fill="#0a14f0"/>
<rect x="238.5" y="760.64" width="3.2" height="3.2" fill="#0a14f0"/>
<rect x="238.5" y="778.85" width="3.2" height="3.2" fill="#0a14f0"/>
<line x1="240.1" y1="750.56" x2="240.1" y2="773.65" stroke="#0a14f0" stroke-width="1.1" />
<line x1="234.6" y1="750.56" x2="245.6" y2="750.56" stroke="#0a14f0" stroke-width="1.1" />
<line x1="234.6" y1="773.65" x2="245.6" y2="773.65" stroke="#0a14f0" stroke-width="1.1" />
<line x1="228.6" y1="762.24" x2="251.6" y2="762.24" stroke="#0a14f0" stroke-width="1.43" />
<path d="M275.7 720.22 L273.97 723.37 L277.43 723.37 Z" fill="#f01a1a"/>
<path d="M268.2 727.02 L266.47 730.17 L269.93 730.17 Z" fill="#f01a1a"/>
<path d="M275.7 728.38 L273.97 731.52 L277.43 731.52 Z" fill="#f01a1a"/>
<path d="M283.2 729.73 L281.47 732.88 L284.93 732.88 Z" fill="#f01a1a"/>
<path d="M275.7 736.53 L273.97 739.68 L277.43 739.68 Z" fill="#f01a1a"/>
<line x1="275.7" y1="724.2" x2="275.7" y2="735.61" stroke="#f01a1a" stroke-width="1.1" />
<line x1="270.2" y1="724.2" x2="281.2" y2="724.2" stroke="#f01a1a" stroke-width="1.1" />
<line x1="270.2" y1="735.61" x2="281.2" y2="735.61" stroke="#f01a1a" stroke-width="1.1" />
<line x1="264.2" y1="729.63" x2="287.2" y2="729.63" stroke="#f01a1a" stroke-width="1.43" />
<line x1="239.9" y1="713.2" x2="280.1" y2="713.2" stroke="#000" stroke-width="1.3" />
<text x="263.3" y="707.5" font-size="7" text-anchor="middle"><tspan font-style="italic">p</tspan>=0.0005</text>
<text x="251.1" y="820.2" font-size="9.2" text-anchor="end" transform="rotate(-30 251.1 820.2)">C-peptide</text>
<text x="291.5" y="820.2" font-size="9.2" text-anchor="end" transform="rotate(-30 291.5 820.2)">E-peptide</text>
<text x="328.8" y="699.7" font-size="9.5">R</text>
<text x="351.9" y="723.5" font-size="9.1" text-anchor="middle" transform="rotate(-90 351.9 723.5)">SSC-A</text>
<line x1="352.7" y1="742" x2="352.7" y2="802.9" stroke="#000" stroke-width="1.4" />
<path d="M352.7 736.4 L349.6 742.7 L355.8 742.7 Z" fill="#000"/>
<line x1="352.7" y1="802.9" x2="457" y2="802.9" stroke="#000" stroke-width="1.4" />
<path d="M462.9 802.9 L456.6 799.9 L456.6 805.9 Z" fill="#000"/>
<text x="465" y="805.6" font-size="9.25" textLength="58.4" lengthAdjust="spacingAndGlyphs">h-CD8-BV650</text>
<text x="403.6" y="819.2" font-size="9.25" textLength="73.4" lengthAdjust="spacingAndGlyphs">Gate from h-CD3<tspan dy="-3" font-size="6">+</tspan></text>
<rect x="364.7" y="719.1" width="72.4" height="71.6" fill="#fff" stroke="#b8b8b8" stroke-width="0.8"/>
<line x1="363.3" y1="720.6" x2="364.7" y2="720.6" stroke="#777" stroke-width="0.5" />
<rect x="358.9" y="720.1" width="3.2" height="1" fill="#c4c4c4"/>
<line x1="363.9" y1="724.08" x2="364.7" y2="724.08" stroke="#999" stroke-width="0.4" />
<line x1="363.9" y1="727.56" x2="364.7" y2="727.56" stroke="#999" stroke-width="0.4" />
<line x1="363.9" y1="731.04" x2="364.7" y2="731.04" stroke="#999" stroke-width="0.4" />
<line x1="363.3" y1="734.52" x2="364.7" y2="734.52" stroke="#777" stroke-width="0.5" />
<rect x="358.9" y="734.02" width="3.2" height="1" fill="#c4c4c4"/>
<line x1="363.9" y1="738" x2="364.7" y2="738" stroke="#999" stroke-width="0.4" />
<line x1="363.9" y1="741.48" x2="364.7" y2="741.48" stroke="#999" stroke-width="0.4" />
<line x1="363.9" y1="744.96" x2="364.7" y2="744.96" stroke="#999" stroke-width="0.4" />
<line x1="363.3" y1="748.44" x2="364.7" y2="748.44" stroke="#777" stroke-width="0.5" />
<rect x="358.9" y="747.94" width="3.2" height="1" fill="#c4c4c4"/>
<line x1="363.9" y1="751.92" x2="364.7" y2="751.92" stroke="#999" stroke-width="0.4" />
<line x1="363.9" y1="755.4" x2="364.7" y2="755.4" stroke="#999" stroke-width="0.4" />
<line x1="363.9" y1="758.88" x2="364.7" y2="758.88" stroke="#999" stroke-width="0.4" />
<line x1="363.3" y1="762.36" x2="364.7" y2="762.36" stroke="#777" stroke-width="0.5" />
<rect x="358.9" y="761.86" width="3.2" height="1" fill="#c4c4c4"/>
<line x1="363.9" y1="765.84" x2="364.7" y2="765.84" stroke="#999" stroke-width="0.4" />
<line x1="363.9" y1="769.32" x2="364.7" y2="769.32" stroke="#999" stroke-width="0.4" />
<line x1="363.9" y1="772.8" x2="364.7" y2="772.8" stroke="#999" stroke-width="0.4" />
<line x1="363.3" y1="776.28" x2="364.7" y2="776.28" stroke="#777" stroke-width="0.5" />
<rect x="358.9" y="775.78" width="3.2" height="1" fill="#c4c4c4"/>
<line x1="363.9" y1="779.76" x2="364.7" y2="779.76" stroke="#999" stroke-width="0.4" />
<line x1="363.9" y1="783.24" x2="364.7" y2="783.24" stroke="#999" stroke-width="0.4" />
<line x1="363.9" y1="786.72" x2="364.7" y2="786.72" stroke="#999" stroke-width="0.4" />
<line x1="363.3" y1="790.2" x2="364.7" y2="790.2" stroke="#777" stroke-width="0.5" />
<rect x="358.9" y="789.7" width="3.2" height="1" fill="#c4c4c4"/>
<line x1="369.7" y1="790.7" x2="369.7" y2="792.1" stroke="#777" stroke-width="0.5" />
<rect x="368.4" y="793.3" width="2.6" height="1.1" fill="#c4c4c4"/>
<line x1="385.8" y1="790.7" x2="385.8" y2="792.1" stroke="#777" stroke-width="0.5" />
<rect x="384.5" y="793.3" width="2.6" height="1.1" fill="#c4c4c4"/>
<line x1="401.9" y1="790.7" x2="401.9" y2="792.1" stroke="#777" stroke-width="0.5" />
<rect x="400.6" y="793.3" width="2.6" height="1.1" fill="#c4c4c4"/>
<line x1="418" y1="790.7" x2="418" y2="792.1" stroke="#777" stroke-width="0.5" />
<rect x="416.7" y="793.3" width="2.6" height="1.1" fill="#c4c4c4"/>
<line x1="434.1" y1="790.7" x2="434.1" y2="792.1" stroke="#777" stroke-width="0.5" />
<rect x="432.8" y="793.3" width="2.6" height="1.1" fill="#c4c4c4"/>
<path d="M365.7 790.3 L436.1 790.3" fill="none" stroke="#999" stroke-width="0.5" stroke-dasharray="0.6 0.8"/>
<text x="404.8" y="716.7" font-size="9.25" text-anchor="middle">C-peptide</text>
<ellipse cx="384.2" cy="781.6" rx="19" ry="10" fill="url(#cgK2)" />
<path d="M377.83 783.82h0.6M367.99 778.36h0.6M373.05 780.15h0.6M382.39 775.74h0.6M387.64 775.1h0.6M391.07 777.5h0.6M388.04 783.72h0.6M382.98 778.91h0.6M374.78 776.42h0.6M403.77 784.48h0.6M407.78 783.46h0.6M388.73 778.96h0.6M381.3 774.38h0.6M396.83 786.34h0.6M403.11 788.58h0.6M371.62 769.93h0.6M394.11 782.9h0.6M372.22 777.39h0.6M394.59 790.17h0.6M389.99 778.47h0.6M395.04 786.9h0.6M369.42 785.26h0.6M372.18 781.79h0.6M390.6 781.93h0.6M365.49 783.48h0.6M366.5 784.95h0.6M378.26 778.32h0.6M387.05 782.87h0.6M407.37 783.81h0.6M398.32 776.28h0.6M397.84 785.79h0.6M401.69 788.38h0.6M373.02 775.39h0.6M374.53 778.64h0.6M401.97 772.23h0.6M384.87 786.42h0.6M382.32 774.84h0.6M373.09 784.22h0.6M393.64 780.87h0.6M388.57 788.25h0.6M366.02 788.02h0.6M384.34 774.3h0.6M385.8 784.23h0.6M391.63 782.15h0.6M382.01 780.18h0.6M385.45 787.4h0.6M390.22 784.93h0.6M386.64 788.29h0.6M368.77 777.47h0.6M370.88 779.89h0.6M409.18 779.85h0.6M385.49 780.6h0.6M374.91 777.48h0.6M379.79 779.33h0.6M381.27 773.8h0.6M397.1 783.94h0.6M374.96 779.24h0.6M372.92 772.36h0.6M392.76 779.45h0.6M397.82 788.8h0.6M366.99 776.12h0.6M390.8 778.93h0.6M375.5 779.6h0.6M389.61 775h0.6M385.17 786.89h0.6M376.94 779.77h0.6M389.8 786.25h0.6M396.82 783.9h0.6M405.06 778.5h0.6M405.34 784.42h0.6M380.26 774.69h0.6M404.18 782.87h0.6M391.47 789.24h0.6M379.16 785.46h0.6M395.52 789.59h0.6M377.42 781.38h0.6M375.91 777.02h0.6M406.23 783.02h0.6M383.85 782.58h0.6M386.18 774.39h0.6M378.4 783.5h0.6M368.48 780.59h0.6M379.04 776.75h0.6M366.75 778.63h0.6M387 784.24h0.6M391.86 773.26h0.6M366.6 784.26h0.6M393.55 784.36h0.6M405.01 785.08h0.6M402.06 781.59h0.6M384.38 777.26h0.6M385.61 779.78h0.6M376.53 784.64h0.6M389.05 779.51h0.6M387.01 783.24h0.6M389.96 778.33h0.6M392.73 779.37h0.6M388.3 779.07h0.6M410.68 774.62h0.6M397.49 776.82h0.6M405.36 775.55h0.6M393.58 780.79h0.6M396.46 775.26h0.6M380.07 783.85h0.6M395.16 778.6h0.6M375.09 781.95h0.6M378.41 776.5h0.6M381.62 788.44h0.6M391.63 779.68h0.6M391.92 774.65h0.6M376.41 781.19h0.6" fill="none" stroke="#888" stroke-width="0.6" stroke-linecap="round" opacity="0.8"/>
<ellipse cx="384.2" cy="781.6" rx="16" ry="7.5" fill="none" stroke="#777" stroke-width="0.45"/>
<ellipse cx="384.2" cy="782" rx="12.5" ry="5.6" fill="none" stroke="#777" stroke-width="0.45"/>
<ellipse cx="384.2" cy="782.3" rx="9" ry="3.8" fill="none" stroke="#777" stroke-width="0.45"/>
<ellipse cx="384.2" cy="782.5" rx="5.5" ry="2.2" fill="none" stroke="#777" stroke-width="0.45"/>
<ellipse cx="409.4" cy="783.8" rx="4.2" ry="3.8" fill="url(#cgK2)" />
<ellipse cx="409.4" cy="783.8" rx="3.2" ry="2.8" fill="none" stroke="#777" stroke-width="0.5"/>
<ellipse cx="409.4" cy="783.8" rx="1.8" ry="1.5" fill="none" stroke="#888" stroke-width="0.5"/>
<ellipse cx="380.7" cy="790.5" rx="2" ry="0.8" fill="#111" />
<path d="M401.6 790.5 L403.3 765.6 L422.1 765.6 L422.1 790.5 L401.6 790.5" fill="none" stroke="#111" stroke-width="0.8"/>
<text x="404" y="773.7" font-size="9.4">14.8</text>
<rect x="448.2" y="719.1" width="72.4" height="71.6" fill="#fff" stroke="#b8b8b8" stroke-width="0.8"/>
<line x1="446.8" y1="720.6" x2="448.2" y2="720.6" stroke="#777" stroke-width="0.5" />
<rect x="442.4" y="720.1" width="3.2" height="1" fill="#c4c4c4"/>
<line x1="447.4" y1="724.08" x2="448.2" y2="724.08" stroke="#999" stroke-width="0.4" />
<line x1="447.4" y1="727.56" x2="448.2" y2="727.56" stroke="#999" stroke-width="0.4" />
<line x1="447.4" y1="731.04" x2="448.2" y2="731.04" stroke="#999" stroke-width="0.4" />
<line x1="446.8" y1="734.52" x2="448.2" y2="734.52" stroke="#777" stroke-width="0.5" />
<rect x="442.4" y="734.02" width="3.2" height="1" fill="#c4c4c4"/>
<line x1="447.4" y1="738" x2="448.2" y2="738" stroke="#999" stroke-width="0.4" />
<line x1="447.4" y1="741.48" x2="448.2" y2="741.48" stroke="#999" stroke-width="0.4" />
<line x1="447.4" y1="744.96" x2="448.2" y2="744.96" stroke="#999" stroke-width="0.4" />
<line x1="446.8" y1="748.44" x2="448.2" y2="748.44" stroke="#777" stroke-width="0.5" />
<rect x="442.4" y="747.94" width="3.2" height="1" fill="#c4c4c4"/>
<line x1="447.4" y1="751.92" x2="448.2" y2="751.92" stroke="#999" stroke-width="0.4" />
<line x1="447.4" y1="755.4" x2="448.2" y2="755.4" stroke="#999" stroke-width="0.4" />
<line x1="447.4" y1="758.88" x2="448.2" y2="758.88" stroke="#999" stroke-width="0.4" />
<line x1="446.8" y1="762.36" x2="448.2" y2="762.36" stroke="#777" stroke-width="0.5" />
<rect x="442.4" y="761.86" width="3.2" height="1" fill="#c4c4c4"/>
<line x1="447.4" y1="765.84" x2="448.2" y2="765.84" stroke="#999" stroke-width="0.4" />
<line x1="447.4" y1="769.32" x2="448.2" y2="769.32" stroke="#999" stroke-width="0.4" />
<line x1="447.4" y1="772.8" x2="448.2" y2="772.8" stroke="#999" stroke-width="0.4" />
<line x1="446.8" y1="776.28" x2="448.2" y2="776.28" stroke="#777" stroke-width="0.5" />
<rect x="442.4" y="775.78" width="3.2" height="1" fill="#c4c4c4"/>
<line x1="447.4" y1="779.76" x2="448.2" y2="779.76" stroke="#999" stroke-width="0.4" />
<line x1="447.4" y1="783.24" x2="448.2" y2="783.24" stroke="#999" stroke-width="0.4" />
<line x1="447.4" y1="786.72" x2="448.2" y2="786.72" stroke="#999" stroke-width="0.4" />
<line x1="446.8" y1="790.2" x2="448.2" y2="790.2" stroke="#777" stroke-width="0.5" />
<rect x="442.4" y="789.7" width="3.2" height="1" fill="#c4c4c4"/>
<line x1="453.2" y1="790.7" x2="453.2" y2="792.1" stroke="#777" stroke-width="0.5" />
<rect x="451.9" y="793.3" width="2.6" height="1.1" fill="#c4c4c4"/>
<line x1="469.3" y1="790.7" x2="469.3" y2="792.1" stroke="#777" stroke-width="0.5" />
<rect x="468" y="793.3" width="2.6" height="1.1" fill="#c4c4c4"/>
<line x1="485.4" y1="790.7" x2="485.4" y2="792.1" stroke="#777" stroke-width="0.5" />
<rect x="484.1" y="793.3" width="2.6" height="1.1" fill="#c4c4c4"/>
<line x1="501.5" y1="790.7" x2="501.5" y2="792.1" stroke="#777" stroke-width="0.5" />
<rect x="500.2" y="793.3" width="2.6" height="1.1" fill="#c4c4c4"/>
<line x1="517.6" y1="790.7" x2="517.6" y2="792.1" stroke="#777" stroke-width="0.5" />
<rect x="516.3" y="793.3" width="2.6" height="1.1" fill="#c4c4c4"/>
<path d="M449.2 790.3 L519.6 790.3" fill="none" stroke="#999" stroke-width="0.5" stroke-dasharray="0.6 0.8"/>
<text x="486.3" y="716.7" font-size="9.25" text-anchor="middle">E-peptide</text>
<ellipse cx="469.2" cy="783.6" rx="18" ry="9" fill="url(#cgR2)" />
<path d="M487.18 785.27h0.6M477.47 787.54h0.6M459.13 776.56h0.6M455.71 785.13h0.6M481.88 784.18h0.6M452.88 789.92h0.6M449.94 781.4h0.6M462.36 784.73h0.6M482.37 776.88h0.6M465.37 785.02h0.6M455.2 783.19h0.6M471.46 777.59h0.6M453.51 783.35h0.6M466.48 784.6h0.6M495.74 787.63h0.6M474.54 780.4h0.6M480.37 780.08h0.6M488.03 788.94h0.6M466.91 781.79h0.6M454.07 778.08h0.6M477.87 781.2h0.6M450.86 782.34h0.6M469.94 782.18h0.6M459.55 781.26h0.6M475.6 789.24h0.6M484.12 782.5h0.6M479.82 787.04h0.6M474.64 772.57h0.6M468.44 782.32h0.6M485.13 782.33h0.6M474.61 784.78h0.6M484.4 787.03h0.6M480.71 787.12h0.6M466.07 784.04h0.6M495.15 783.75h0.6M475.32 783.26h0.6M465.71 770.12h0.6M489.74 778.28h0.6M459.22 789.7h0.6M462.47 775.31h0.6M476.59 780.13h0.6M467.96 781.67h0.6M454.14 787.46h0.6M460.91 782h0.6M464.03 787.27h0.6M472.15 786.19h0.6M477.97 777.37h0.6M486.63 782.14h0.6M477.42 782.78h0.6M472.39 786.51h0.6M471.29 788.52h0.6M471.81 784h0.6M453.34 781.84h0.6M488.13 775.12h0.6M460.95 781.93h0.6M483.17 789.17h0.6M469.95 784.01h0.6M467.26 781.4h0.6M463.42 781.5h0.6M467.36 783.95h0.6M461.58 786.42h0.6M468.75 786.01h0.6M452.81 780.44h0.6M470.32 784.88h0.6M466.67 790.03h0.6M485.94 786.73h0.6M474.55 786.09h0.6M467.46 778.53h0.6M462.94 780.75h0.6M464.24 780.29h0.6M456.29 784.18h0.6M486.27 779.66h0.6M454.37 779h0.6M453.6 782.93h0.6M454.96 777.21h0.6M467.09 782.97h0.6M488.49 789.44h0.6M461.11 774.33h0.6M476.03 781.57h0.6M485.61 783.02h0.6M467.39 778.22h0.6M468.66 788.79h0.6M459.41 784.49h0.6M462.12 787.68h0.6M468.51 786.05h0.6M472.98 779.61h0.6M455.34 789.51h0.6M465.02 778.96h0.6M470.32 788.6h0.6M470.22 789.63h0.6M465.47 783.36h0.6M471.2 780.57h0.6M453.03 779.82h0.6M476.99 781.67h0.6M472.79 786.78h0.6M486.16 777.75h0.6M462.8 783.37h0.6M474.35 780.25h0.6M469.63 780.15h0.6M479.66 789.3h0.6M460.07 786.32h0.6M456.85 785.46h0.6M452.14 784.79h0.6M483.31 787.79h0.6M465.07 790.09h0.6M462.87 778.49h0.6M466.06 785.05h0.6M467.47 784.76h0.6M486.86 778.2h0.6M475.89 789.42h0.6M465.6 784.4h0.6M465.88 782.19h0.6M490.89 777.23h0.6M462.42 781.39h0.6M469.72 782.34h0.6M477.04 786.06h0.6M491.14 787.61h0.6M458.49 776.48h0.6M464.49 780.92h0.6M466.3 789.66h0.6" fill="none" stroke="#f47878" stroke-width="0.6" stroke-linecap="round" opacity="0.8"/>
<ellipse cx="469.2" cy="783.6" rx="15" ry="7" fill="none" stroke="#f8a0a0" stroke-width="0.45"/>
<ellipse cx="469.2" cy="784" rx="11" ry="5" fill="none" stroke="#f8a0a0" stroke-width="0.45"/>
<ellipse cx="469.2" cy="784.3" rx="7" ry="3" fill="none" stroke="#f8a0a0" stroke-width="0.45"/>
<ellipse cx="470.2" cy="784.5" rx="3.5" ry="1.4" fill="none" stroke="#f8a0a0" stroke-width="0.45"/>
<ellipse cx="495" cy="783.8" rx="4.6" ry="4.2" fill="url(#cgR)" />
<ellipse cx="495" cy="783.8" rx="3.4" ry="3" fill="#f04848" opacity="0.75"/>
<ellipse cx="464.2" cy="790.5" rx="2" ry="0.8" fill="#111" />
<path d="M483.3 790.5 L486.6 765.1 L505.6 765.1 L505.6 790.5 L483.3 790.5" fill="none" stroke="#111" stroke-width="0.8"/>
<text x="487.3" y="773.7" font-size="9.4">26.7</text>
<text x="542.7" y="699.9" font-size="9.5">S</text>
<line x1="588.1" y1="706.3" x2="588.1" y2="815.9" stroke="#000" stroke-width="1.3" />
<line x1="583" y1="815.3" x2="588.1" y2="815.3" stroke="#000" stroke-width="1.1" />
<text x="582" y="818.5" font-size="9" text-anchor="end">0</text>
<line x1="583" y1="793.62" x2="588.1" y2="793.62" stroke="#000" stroke-width="1.1" />
<text x="582" y="796.82" font-size="9" text-anchor="end">5</text>
<line x1="583" y1="771.94" x2="588.1" y2="771.94" stroke="#000" stroke-width="1.1" />
<text x="582" y="775.14" font-size="9" text-anchor="end">10</text>
<line x1="583" y1="750.26" x2="588.1" y2="750.26" stroke="#000" stroke-width="1.1" />
<text x="582" y="753.46" font-size="9" text-anchor="end">15</text>
<line x1="583" y1="728.58" x2="588.1" y2="728.58" stroke="#000" stroke-width="1.1" />
<text x="582" y="731.78" font-size="9" text-anchor="end">20</text>
<line x1="583" y1="706.9" x2="588.1" y2="706.9" stroke="#000" stroke-width="1.1" />
<text x="582" y="710.1" font-size="9" text-anchor="end">25</text>
<line x1="587.5" y1="815.3" x2="670.8" y2="815.3" stroke="#000" stroke-width="1.3" />
<line x1="611.2" y1="815.3" x2="611.2" y2="818.3" stroke="#000" stroke-width="1.1" />
<line x1="646.8" y1="815.3" x2="646.8" y2="818.3" stroke="#000" stroke-width="1.1" />
<text x="568.8" y="759.5" font-size="8.9" text-anchor="middle" transform="rotate(-90 568.8 759.5)" textLength="131.3" lengthAdjust="spacingAndGlyphs">h-Granzyme B in h-CD8<tspan dy="-3" font-size="5.8">+</tspan><tspan dy="3"> T Cell &#160;&#160;(%)</tspan></text>
<rect x="606.4" y="771.64" width="3.2" height="3.2" fill="#0a14f0"/>
<rect x="613.1" y="773.38" width="3.2" height="3.2" fill="#0a14f0"/>
<rect x="609.6" y="780.31" width="3.2" height="3.2" fill="#0a14f0"/>
<rect x="606.4" y="792.02" width="3.2" height="3.2" fill="#0a14f0"/>
<rect x="612.8" y="792.02" width="3.2" height="3.2" fill="#0a14f0"/>
<line x1="611.2" y1="774.11" x2="611.2" y2="792.32" stroke="#0a14f0" stroke-width="1.1" />
<line x1="606.2" y1="774.11" x2="616.2" y2="774.11" stroke="#0a14f0" stroke-width="1.1" />
<line x1="606.2" y1="792.32" x2="616.2" y2="792.32" stroke="#0a14f0" stroke-width="1.1" />
<line x1="600.2" y1="783.21" x2="622.2" y2="783.21" stroke="#0a14f0" stroke-width="1.43" />
<path d="M643.3 710.74 L641.57 713.89 L645.02 713.89 Z" fill="#f01a1a"/>
<path d="M650.3 712.47 L648.57 715.62 L652.02 715.62 Z" fill="#f01a1a"/>
<path d="M643.3 722.44 L641.57 725.59 L645.02 725.59 Z" fill="#f01a1a"/>
<path d="M650.3 722.44 L648.57 725.59 L652.02 725.59 Z" fill="#f01a1a"/>
<path d="M646.8 731.12 L645.07 734.27 L648.52 734.27 Z" fill="#f01a1a"/>
<line x1="646.8" y1="713.84" x2="646.8" y2="732.48" stroke="#f01a1a" stroke-width="1.1" />
<line x1="641.8" y1="713.84" x2="651.8" y2="713.84" stroke="#f01a1a" stroke-width="1.1" />
<line x1="641.8" y1="732.48" x2="651.8" y2="732.48" stroke="#f01a1a" stroke-width="1.1" />
<line x1="635.8" y1="723.38" x2="657.8" y2="723.38" stroke="#f01a1a" stroke-width="1.43" />
<line x1="611.2" y1="704.7" x2="647.8" y2="704.7" stroke="#000" stroke-width="1.3" />
<text x="630.2" y="701.4" font-size="7" text-anchor="middle"><tspan font-style="italic">p</tspan>&lt;0.0001</text>
<text x="628.1" y="821.7" font-size="9.2" text-anchor="end" transform="rotate(-30 628.1 821.7)">C-peptide</text>
<text x="668.4" y="821.7" font-size="9.2" text-anchor="end" transform="rotate(-30 668.4 821.7)">E-peptide</text>
<text x="0" y="845.2" font-size="9.5">T</text>
<text x="31" y="879.5" font-size="9.1" text-anchor="middle" transform="rotate(-90 31 879.5)">SSC-A</text>
<line x1="26.5" y1="900" x2="26.5" y2="952.2" stroke="#000" stroke-width="1.4" />
<path d="M26.5 894 L23.25 900.5 L29.75 900.5 Z" fill="#000"/>
<line x1="26.5" y1="952.2" x2="155" y2="952.2" stroke="#000" stroke-width="1.4" />
<path d="M161.2 952.2 L154.7 949.2 L154.7 955.2 Z" fill="#000"/>
<text x="167.9" y="956.6" font-size="9.25" textLength="54.4" lengthAdjust="spacingAndGlyphs">h-GZMB-APC</text>
<text x="94.7" y="967.6" font-size="9.25" textLength="73.2" lengthAdjust="spacingAndGlyphs">Gate from h-CD8<tspan dy="-3" font-size="6">+</tspan></text>
<rect x="43.3" y="860.1" width="80" height="79.6" fill="#fff" stroke="#b8b8b8" stroke-width="0.8"/>
<line x1="41.9" y1="861.6" x2="43.3" y2="861.6" stroke="#777" stroke-width="0.5" />
<rect x="37.5" y="861.1" width="3.2" height="1" fill="#c4c4c4"/>
<line x1="42.5" y1="865.48" x2="43.3" y2="865.48" stroke="#999" stroke-width="0.4" />
<line x1="42.5" y1="869.36" x2="43.3" y2="869.36" stroke="#999" stroke-width="0.4" />
<line x1="42.5" y1="873.24" x2="43.3" y2="873.24" stroke="#999" stroke-width="0.4" />
<line x1="41.9" y1="877.12" x2="43.3" y2="877.12" stroke="#777" stroke-width="0.5" />
<rect x="37.5" y="876.62" width="3.2" height="1" fill="#c4c4c4"/>
<line x1="42.5" y1="881" x2="43.3" y2="881" stroke="#999" stroke-width="0.4" />
<line x1="42.5" y1="884.88" x2="43.3" y2="884.88" stroke="#999" stroke-width="0.4" />
<line x1="42.5" y1="888.76" x2="43.3" y2="888.76" stroke="#999" stroke-width="0.4" />
<line x1="41.9" y1="892.64" x2="43.3" y2="892.64" stroke="#777" stroke-width="0.5" />
<rect x="37.5" y="892.14" width="3.2" height="1" fill="#c4c4c4"/>
<line x1="42.5" y1="896.52" x2="43.3" y2="896.52" stroke="#999" stroke-width="0.4" />
<line x1="42.5" y1="900.4" x2="43.3" y2="900.4" stroke="#999" stroke-width="0.4" />
<line x1="42.5" y1="904.28" x2="43.3" y2="904.28" stroke="#999" stroke-width="0.4" />
<line x1="41.9" y1="908.16" x2="43.3" y2="908.16" stroke="#777" stroke-width="0.5" />
<rect x="37.5" y="907.66" width="3.2" height="1" fill="#c4c4c4"/>
<line x1="42.5" y1="912.04" x2="43.3" y2="912.04" stroke="#999" stroke-width="0.4" />
<line x1="42.5" y1="915.92" x2="43.3" y2="915.92" stroke="#999" stroke-width="0.4" />
<line x1="42.5" y1="919.8" x2="43.3" y2="919.8" stroke="#999" stroke-width="0.4" />
<line x1="41.9" y1="923.68" x2="43.3" y2="923.68" stroke="#777" stroke-width="0.5" />
<rect x="37.5" y="923.18" width="3.2" height="1" fill="#c4c4c4"/>
<line x1="42.5" y1="927.56" x2="43.3" y2="927.56" stroke="#999" stroke-width="0.4" />
<line x1="42.5" y1="931.44" x2="43.3" y2="931.44" stroke="#999" stroke-width="0.4" />
<line x1="42.5" y1="935.32" x2="43.3" y2="935.32" stroke="#999" stroke-width="0.4" />
<line x1="41.9" y1="939.2" x2="43.3" y2="939.2" stroke="#777" stroke-width="0.5" />
<rect x="37.5" y="938.7" width="3.2" height="1" fill="#c4c4c4"/>
<line x1="48.3" y1="939.7" x2="48.3" y2="941.1" stroke="#777" stroke-width="0.5" />
<rect x="47" y="942.3" width="2.6" height="1.1" fill="#c4c4c4"/>
<line x1="66.3" y1="939.7" x2="66.3" y2="941.1" stroke="#777" stroke-width="0.5" />
<rect x="65" y="942.3" width="2.6" height="1.1" fill="#c4c4c4"/>
<line x1="84.3" y1="939.7" x2="84.3" y2="941.1" stroke="#777" stroke-width="0.5" />
<rect x="83" y="942.3" width="2.6" height="1.1" fill="#c4c4c4"/>
<line x1="102.3" y1="939.7" x2="102.3" y2="941.1" stroke="#777" stroke-width="0.5" />
<rect x="101" y="942.3" width="2.6" height="1.1" fill="#c4c4c4"/>
<line x1="120.3" y1="939.7" x2="120.3" y2="941.1" stroke="#777" stroke-width="0.5" />
<rect x="119" y="942.3" width="2.6" height="1.1" fill="#c4c4c4"/>
<path d="M44.3 939.3 L122.3 939.3" fill="none" stroke="#999" stroke-width="0.5" stroke-dasharray="0.6 0.8"/>
<text x="87.3" y="857.8" font-size="9.25" text-anchor="middle">C-peptide</text>
<ellipse cx="65.8" cy="931.6" rx="15" ry="10" fill="url(#cgK)" />
<path d="M66.23 937.5h0.6M67.13 937.9h0.6M73.91 929.35h0.6M80.1 929.97h0.6M53.7 929.5h0.6M58.51 929.17h0.6M74.95 931.5h0.6M83.32 930.61h0.6M72.65 932.28h0.6M49.44 932.88h0.6M71.27 937.81h0.6M55.19 938.1h0.6M79.45 927.82h0.6M49.93 935.21h0.6M46.54 933.63h0.6M82.52 930.79h0.6M73.46 923.39h0.6M61.13 929.9h0.6M75.82 931.12h0.6M75.36 932.14h0.6M60.61 933.3h0.6M70.05 931h0.6M75.17 928.02h0.6M69.48 935.84h0.6M61.52 932.37h0.6M66.87 924.36h0.6M82.64 930.56h0.6M77.57 928.62h0.6M55.17 930.11h0.6M73.81 921.11h0.6M74.14 923.24h0.6M75.06 932.49h0.6M75.99 935.06h0.6M55.69 928.51h0.6M69.83 928.82h0.6M64.21 925.01h0.6M75.3 933.45h0.6M53.99 930.11h0.6M77.12 930.89h0.6M71.49 928.87h0.6M60.76 931.93h0.6M59.78 927.57h0.6M66.75 929.22h0.6M78.99 932.12h0.6M59.43 924.38h0.6M55.87 929.52h0.6M72.91 930.57h0.6M61.97 924.48h0.6M64.41 925.95h0.6M81.27 932.51h0.6M81.33 930.9h0.6M51.25 937.25h0.6M59.84 934.49h0.6M53.98 928.46h0.6" fill="none" stroke="#777" stroke-width="0.6" stroke-linecap="round" opacity="0.8"/>
<ellipse cx="65.8" cy="931.6" rx="12.5" ry="7.8" fill="none" stroke="#7a7a7a" stroke-width="0.45"/>
<ellipse cx="65.8" cy="931.9" rx="10" ry="6" fill="none" stroke="#7a7a7a" stroke-width="0.45"/>
<ellipse cx="65.8" cy="932.2" rx="7.5" ry="4.4" fill="none" stroke="#7a7a7a" stroke-width="0.45"/>
<ellipse cx="66.3" cy="932.4" rx="5" ry="3" fill="none" stroke="#7a7a7a" stroke-width="0.45"/>
<ellipse cx="66.8" cy="932.4" rx="2.5" ry="1.4" fill="none" stroke="#7a7a7a" stroke-width="0.45"/>
<ellipse cx="67.3" cy="932.6" rx="2.6" ry="1.2" fill="#eee" opacity="0.8"/>
<path d="M108.69 922.97h0.5M101.62 929.84h0.5M107.67 928.61h0.5M107.04 924.65h0.5M109.15 928.71h0.5M86.43 927.64h0.5M98.96 922.65h0.5M92.14 922.28h0.5M83.24 924.82h0.5M87.76 926.49h0.5M103.09 928.76h0.5M105.31 936.48h0.5M106.37 937.26h0.5M97.42 932.84h0.5M105.98 930.8h0.5M85.28 930.43h0.5M96.14 924.97h0.5M83.9 925.05h0.5M100.83 935.1h0.5M99.68 928.93h0.5M82.1 922.17h0.5M99.64 930.57h0.5M94.09 924.84h0.5M84.75 924.98h0.5M84.9 931.69h0.5M89.9 930.98h0.5M93.32 930.87h0.5M102.14 934.59h0.5M85.49 937.46h0.5M105.19 935.22h0.5M93.98 937.33h0.5M104.05 925.92h0.5M100.53 935.69h0.5M102.38 936.49h0.5M96.11 932.84h0.5M83.43 932.72h0.5M85.4 933.69h0.5M106.57 928.05h0.5M83.26 922.79h0.5M95.77 924.59h0.5" fill="none" stroke="#888" stroke-width="0.5" stroke-linecap="round"/>
<ellipse cx="62.3" cy="939.5" rx="1.6" ry="0.8" fill="#111" />
<path d="M77.2 939.2 L82.3 907.2 L105.8 907.2 L105.8 939.2 L77.2 939.2" fill="none" stroke="#111" stroke-width="0.8"/>
<text x="85.6" y="919.6" font-size="9.4">7.79</text>
<rect x="126.6" y="860.1" width="80" height="79.6" fill="#fff" stroke="#b8b8b8" stroke-width="0.8"/>
<line x1="125.2" y1="861.6" x2="126.6" y2="861.6" stroke="#777" stroke-width="0.5" />
<rect x="120.8" y="861.1" width="3.2" height="1" fill="#c4c4c4"/>
<line x1="125.8" y1="865.48" x2="126.6" y2="865.48" stroke="#999" stroke-width="0.4" />
<line x1="125.8" y1="869.36" x2="126.6" y2="869.36" stroke="#999" stroke-width="0.4" />
<line x1="125.8" y1="873.24" x2="126.6" y2="873.24" stroke="#999" stroke-width="0.4" />
<line x1="125.2" y1="877.12" x2="126.6" y2="877.12" stroke="#777" stroke-width="0.5" />
<rect x="120.8" y="876.62" width="3.2" height="1" fill="#c4c4c4"/>
<line x1="125.8" y1="881" x2="126.6" y2="881" stroke="#999" stroke-width="0.4" />
<line x1="125.8" y1="884.88" x2="126.6" y2="884.88" stroke="#999" stroke-width="0.4" />
<line x1="125.8" y1="888.76" x2="126.6" y2="888.76" stroke="#999" stroke-width="0.4" />
<line x1="125.2" y1="892.64" x2="126.6" y2="892.64" stroke="#777" stroke-width="0.5" />
<rect x="120.8" y="892.14" width="3.2" height="1" fill="#c4c4c4"/>
<line x1="125.8" y1="896.52" x2="126.6" y2="896.52" stroke="#999" stroke-width="0.4" />
<line x1="125.8" y1="900.4" x2="126.6" y2="900.4" stroke="#999" stroke-width="0.4" />
<line x1="125.8" y1="904.28" x2="126.6" y2="904.28" stroke="#999" stroke-width="0.4" />
<line x1="125.2" y1="908.16" x2="126.6" y2="908.16" stroke="#777" stroke-width="0.5" />
<rect x="120.8" y="907.66" width="3.2" height="1" fill="#c4c4c4"/>
<line x1="125.8" y1="912.04" x2="126.6" y2="912.04" stroke="#999" stroke-width="0.4" />
<line x1="125.8" y1="915.92" x2="126.6" y2="915.92" stroke="#999" stroke-width="0.4" />
<line x1="125.8" y1="919.8" x2="126.6" y2="919.8" stroke="#999" stroke-width="0.4" />
<line x1="125.2" y1="923.68" x2="126.6" y2="923.68" stroke="#777" stroke-width="0.5" />
<rect x="120.8" y="923.18" width="3.2" height="1" fill="#c4c4c4"/>
<line x1="125.8" y1="927.56" x2="126.6" y2="927.56" stroke="#999" stroke-width="0.4" />
<line x1="125.8" y1="931.44" x2="126.6" y2="931.44" stroke="#999" stroke-width="0.4" />
<line x1="125.8" y1="935.32" x2="126.6" y2="935.32" stroke="#999" stroke-width="0.4" />
<line x1="125.2" y1="939.2" x2="126.6" y2="939.2" stroke="#777" stroke-width="0.5" />
<rect x="120.8" y="938.7" width="3.2" height="1" fill="#c4c4c4"/>
<line x1="131.6" y1="939.7" x2="131.6" y2="941.1" stroke="#777" stroke-width="0.5" />
<rect x="130.3" y="942.3" width="2.6" height="1.1" fill="#c4c4c4"/>
<line x1="149.6" y1="939.7" x2="149.6" y2="941.1" stroke="#777" stroke-width="0.5" />
<rect x="148.3" y="942.3" width="2.6" height="1.1" fill="#c4c4c4"/>
<line x1="167.6" y1="939.7" x2="167.6" y2="941.1" stroke="#777" stroke-width="0.5" />
<rect x="166.3" y="942.3" width="2.6" height="1.1" fill="#c4c4c4"/>
<line x1="185.6" y1="939.7" x2="185.6" y2="941.1" stroke="#777" stroke-width="0.5" />
<rect x="184.3" y="942.3" width="2.6" height="1.1" fill="#c4c4c4"/>
<line x1="203.6" y1="939.7" x2="203.6" y2="941.1" stroke="#777" stroke-width="0.5" />
<rect x="202.3" y="942.3" width="2.6" height="1.1" fill="#c4c4c4"/>
<path d="M127.6 939.3 L205.6 939.3" fill="none" stroke="#999" stroke-width="0.5" stroke-dasharray="0.6 0.8"/>
<text x="180.1" y="857.8" font-size="9.25" text-anchor="middle">E-peptide</text>
<ellipse cx="149.6" cy="931.6" rx="16" ry="9.5" fill="url(#cgR)" />
<path d="M134.02 924.55h0.6M134.42 933.73h0.6M160.79 929.26h0.6M147.96 923.57h0.6M151.32 930.54h0.6M149.44 927.71h0.6M149.31 928.56h0.6M142.71 935.75h0.6M150.32 934.3h0.6M135.18 931.26h0.6M143.49 938.28h0.6M152.94 931.41h0.6M148.83 933.74h0.6M145.05 926.97h0.6M142.6 933h0.6M152.45 923.29h0.6M131.94 934.63h0.6M150.69 936.16h0.6M156.54 930.66h0.6M151.18 932.6h0.6M140.91 923.41h0.6M160.41 933.42h0.6M142.51 934.3h0.6M150.53 936.5h0.6M153.49 937.48h0.6M140.33 925.94h0.6M137.59 932.58h0.6M155.29 930.4h0.6M152.19 935.64h0.6M148.96 926.36h0.6M146.51 932.88h0.6M159.79 936.77h0.6M151.07 937.11h0.6M150.27 935.9h0.6M141.38 927.54h0.6M144.63 930.59h0.6M145.11 936.23h0.6M166.33 937.39h0.6M149.96 938.04h0.6M147.52 925.47h0.6M144.08 934.33h0.6M146.93 927.98h0.6M130.89 923.23h0.6M162.8 928.13h0.6M144.76 929.94h0.6M158.08 921.48h0.6M147.56 933.07h0.6M139.19 930.53h0.6M159.4 924.82h0.6M138.4 934.17h0.6M135 932.52h0.6M140.22 925.96h0.6M156.97 932.88h0.6M147.48 931.21h0.6M142.56 928.95h0.6M147.48 933.35h0.6M140.04 936.09h0.6M167.74 934.46h0.6M161.67 930.95h0.6M132.1 928.64h0.6M141.16 925.52h0.6M137.62 932.54h0.6M146.51 933.38h0.6M152.2 924.31h0.6" fill="none" stroke="#f07070" stroke-width="0.6" stroke-linecap="round" opacity="0.8"/>
<ellipse cx="149.6" cy="931.6" rx="14" ry="7.8" fill="none" stroke="#f58a8a" stroke-width="0.45"/>
<ellipse cx="149.6" cy="931.9" rx="11" ry="6" fill="none" stroke="#f58a8a" stroke-width="0.45"/>
<ellipse cx="149.6" cy="932.2" rx="8" ry="4.4" fill="none" stroke="#f58a8a" stroke-width="0.45"/>
<ellipse cx="150.1" cy="932.4" rx="5" ry="2.8" fill="none" stroke="#f58a8a" stroke-width="0.45"/>
<ellipse cx="175.6" cy="932.1" rx="8" ry="3.5" fill="none" stroke="#f58a8a" stroke-width="0.45"/>
<ellipse cx="175.6" cy="932.1" rx="5" ry="2" fill="none" stroke="#f58a8a" stroke-width="0.45"/>
<ellipse cx="175.6" cy="932.1" rx="2.5" ry="1" fill="none" stroke="#f58a8a" stroke-width="0.45"/>
<ellipse cx="150.6" cy="932.6" rx="3" ry="1.3" fill="#fff" opacity="0.8"/>
<ellipse cx="145.6" cy="939.5" rx="1.6" ry="0.8" fill="#111" />
<path d="M166.2 939.2 L171.3 907.2 L194.8 907.2 L194.8 939.2 L166.2 939.2" fill="none" stroke="#111" stroke-width="0.8"/>
<text x="174.6" y="919.6" font-size="9.4">20.0</text>
<text x="293.5" y="845.3" font-size="9.5">U</text>
<line x1="336" y1="839.2" x2="336" y2="950.2" stroke="#000" stroke-width="1.3" />
<line x1="331.1" y1="949.6" x2="336" y2="949.6" stroke="#000" stroke-width="1.1" />
<text x="330.7" y="952.8" font-size="9.2" text-anchor="end">0</text>
<line x1="331.1" y1="922.15" x2="336" y2="922.15" stroke="#000" stroke-width="1.1" />
<text x="330.7" y="925.35" font-size="9.2" text-anchor="end">10</text>
<line x1="331.1" y1="894.7" x2="336" y2="894.7" stroke="#000" stroke-width="1.1" />
<text x="330.7" y="897.9" font-size="9.2" text-anchor="end">20</text>
<line x1="331.1" y1="867.25" x2="336" y2="867.25" stroke="#000" stroke-width="1.1" />
<text x="330.7" y="870.45" font-size="9.2" text-anchor="end">30</text>
<line x1="331.1" y1="839.8" x2="336" y2="839.8" stroke="#000" stroke-width="1.1" />
<text x="330.7" y="843" font-size="9.2" text-anchor="end">40</text>
<line x1="335.4" y1="949.6" x2="413.3" y2="949.6" stroke="#000" stroke-width="1.3" />
<line x1="358.1" y1="949.6" x2="358.1" y2="952.6" stroke="#000" stroke-width="1.1" />
<line x1="391" y1="949.6" x2="391" y2="952.6" stroke="#000" stroke-width="1.1" />
<text x="315.8" y="893.9" font-size="8.9" text-anchor="middle" transform="rotate(-90 315.8 893.9)" textLength="121.7" lengthAdjust="spacingAndGlyphs">h-IFN-γ in h-CD8<tspan dy="-3" font-size="5.8">+</tspan><tspan dy="3"> T Cell &#160;&#160;(%)</tspan></text>
<rect x="349.5" y="895.3" width="3.2" height="3.2" fill="#0a14f0"/>
<rect x="356.5" y="896.94" width="3.2" height="3.2" fill="#0a14f0"/>
<rect x="356.5" y="909.57" width="3.2" height="3.2" fill="#0a14f0"/>
<rect x="363.5" y="910.67" width="3.2" height="3.2" fill="#0a14f0"/>
<rect x="349.5" y="913.14" width="3.2" height="3.2" fill="#0a14f0"/>
<line x1="358.1" y1="898.54" x2="358.1" y2="915.29" stroke="#0a14f0" stroke-width="1.1" />
<line x1="352.6" y1="898.54" x2="363.6" y2="898.54" stroke="#0a14f0" stroke-width="1.1" />
<line x1="352.6" y1="915.29" x2="363.6" y2="915.29" stroke="#0a14f0" stroke-width="1.1" />
<line x1="347.1" y1="907.05" x2="369.1" y2="907.05" stroke="#0a14f0" stroke-width="1.43" />
<path d="M391 866 L389.27 869.15 L392.73 869.15 Z" fill="#f01a1a"/>
<path d="M384 878.63 L382.27 881.78 L385.73 881.78 Z" fill="#f01a1a"/>
<path d="M391 876.43 L389.27 879.58 L392.73 879.58 Z" fill="#f01a1a"/>
<path d="M398 874.78 L396.27 877.93 L399.73 877.93 Z" fill="#f01a1a"/>
<path d="M398 879.18 L396.27 882.33 L399.73 882.33 Z" fill="#f01a1a"/>
<line x1="391" y1="871.92" x2="391" y2="883.17" stroke="#f01a1a" stroke-width="1.1" />
<line x1="385.5" y1="871.92" x2="396.5" y2="871.92" stroke="#f01a1a" stroke-width="1.1" />
<line x1="385.5" y1="883.17" x2="396.5" y2="883.17" stroke="#f01a1a" stroke-width="1.1" />
<line x1="380" y1="877.41" x2="402" y2="877.41" stroke="#f01a1a" stroke-width="1.43" />
<line x1="355.2" y1="858.6" x2="395.5" y2="858.6" stroke="#000" stroke-width="1.3" />
<text x="377.6" y="852.5" font-size="7" text-anchor="middle"><tspan font-style="italic">p</tspan>=0.0002</text>
<text x="374.6" y="956" font-size="9.2" text-anchor="end" transform="rotate(-30 374.6 956)">C-peptide</text>
<text x="415" y="956" font-size="9.2" text-anchor="end" transform="rotate(-30 415 956)">E-peptide</text>
<text x="447.2" y="845.3" font-size="9.5">V</text>
<text x="472.1" y="870" font-size="9.1" text-anchor="middle" transform="rotate(-90 472.1 870)">SSC-A</text>
<line x1="467.8" y1="889" x2="467.8" y2="951.7" stroke="#000" stroke-width="1.4" />
<path d="M467.8 883.4 L464.55 889.9 L471.05 889.9 Z" fill="#000"/>
<line x1="467.8" y1="951.7" x2="607" y2="951.7" stroke="#000" stroke-width="1.4" />
<path d="M613.2 951.7 L606.7 948.7 L606.7 954.7 Z" fill="#000"/>
<text x="619.1" y="955.9" font-size="9.25" textLength="45.9" lengthAdjust="spacingAndGlyphs">h-IFN-γ-PE</text>
<text x="536.8" y="969.9" font-size="9.25" textLength="72.9" lengthAdjust="spacingAndGlyphs">Gate from h-CD8<tspan dy="-3" font-size="6">+</tspan></text>
<rect x="487.7" y="859.5" width="81.5" height="79.6" fill="#fff" stroke="#b8b8b8" stroke-width="0.8"/>
<line x1="486.3" y1="861" x2="487.7" y2="861" stroke="#777" stroke-width="0.5" />
<rect x="481.9" y="860.5" width="3.2" height="1" fill="#c4c4c4"/>
<line x1="486.9" y1="864.88" x2="487.7" y2="864.88" stroke="#999" stroke-width="0.4" />
<line x1="486.9" y1="868.76" x2="487.7" y2="868.76" stroke="#999" stroke-width="0.4" />
<line x1="486.9" y1="872.64" x2="487.7" y2="872.64" stroke="#999" stroke-width="0.4" />
<line x1="486.3" y1="876.52" x2="487.7" y2="876.52" stroke="#777" stroke-width="0.5" />
<rect x="481.9" y="876.02" width="3.2" height="1" fill="#c4c4c4"/>
<line x1="486.9" y1="880.4" x2="487.7" y2="880.4" stroke="#999" stroke-width="0.4" />
<line x1="486.9" y1="884.28" x2="487.7" y2="884.28" stroke="#999" stroke-width="0.4" />
<line x1="486.9" y1="888.16" x2="487.7" y2="888.16" stroke="#999" stroke-width="0.4" />
<line x1="486.3" y1="892.04" x2="487.7" y2="892.04" stroke="#777" stroke-width="0.5" />
<rect x="481.9" y="891.54" width="3.2" height="1" fill="#c4c4c4"/>
<line x1="486.9" y1="895.92" x2="487.7" y2="895.92" stroke="#999" stroke-width="0.4" />
<line x1="486.9" y1="899.8" x2="487.7" y2="899.8" stroke="#999" stroke-width="0.4" />
<line x1="486.9" y1="903.68" x2="487.7" y2="903.68" stroke="#999" stroke-width="0.4" />
<line x1="486.3" y1="907.56" x2="487.7" y2="907.56" stroke="#777" stroke-width="0.5" />
<rect x="481.9" y="907.06" width="3.2" height="1" fill="#c4c4c4"/>
<line x1="486.9" y1="911.44" x2="487.7" y2="911.44" stroke="#999" stroke-width="0.4" />
<line x1="486.9" y1="915.32" x2="487.7" y2="915.32" stroke="#999" stroke-width="0.4" />
<line x1="486.9" y1="919.2" x2="487.7" y2="919.2" stroke="#999" stroke-width="0.4" />
<line x1="486.3" y1="923.08" x2="487.7" y2="923.08" stroke="#777" stroke-width="0.5" />
<rect x="481.9" y="922.58" width="3.2" height="1" fill="#c4c4c4"/>
<line x1="486.9" y1="926.96" x2="487.7" y2="926.96" stroke="#999" stroke-width="0.4" />
<line x1="486.9" y1="930.84" x2="487.7" y2="930.84" stroke="#999" stroke-width="0.4" />
<line x1="486.9" y1="934.72" x2="487.7" y2="934.72" stroke="#999" stroke-width="0.4" />
<line x1="486.3" y1="938.6" x2="487.7" y2="938.6" stroke="#777" stroke-width="0.5" />
<rect x="481.9" y="938.1" width="3.2" height="1" fill="#c4c4c4"/>
<line x1="492.7" y1="939.1" x2="492.7" y2="940.5" stroke="#777" stroke-width="0.5" />
<rect x="491.4" y="941.7" width="2.6" height="1.1" fill="#c4c4c4"/>
<line x1="511.07" y1="939.1" x2="511.07" y2="940.5" stroke="#777" stroke-width="0.5" />
<rect x="509.77" y="941.7" width="2.6" height="1.1" fill="#c4c4c4"/>
<line x1="529.45" y1="939.1" x2="529.45" y2="940.5" stroke="#777" stroke-width="0.5" />
<rect x="528.15" y="941.7" width="2.6" height="1.1" fill="#c4c4c4"/>
<line x1="547.83" y1="939.1" x2="547.83" y2="940.5" stroke="#777" stroke-width="0.5" />
<rect x="546.53" y="941.7" width="2.6" height="1.1" fill="#c4c4c4"/>
<line x1="566.2" y1="939.1" x2="566.2" y2="940.5" stroke="#777" stroke-width="0.5" />
<rect x="564.9" y="941.7" width="2.6" height="1.1" fill="#c4c4c4"/>
<path d="M488.7 938.7 L568.2 938.7" fill="none" stroke="#999" stroke-width="0.5" stroke-dasharray="0.6 0.8"/>
<text x="531.4" y="856.7" font-size="9.25" text-anchor="middle">C-peptide</text>
<ellipse cx="515.7" cy="928" rx="15" ry="10" fill="url(#cgK)" />
<path d="M504.23 928.22h0.6M518.6 923.91h0.6M509.73 934.93h0.6M507.24 928.41h0.6M509.03 930.5h0.6M522 934.14h0.6M526.5 923.27h0.6M510.29 924.6h0.6M511.11 929.13h0.6M514.69 923.84h0.6M504.46 922.29h0.6M511.78 925.74h0.6M514.09 924.24h0.6M511.72 929.45h0.6M523.74 929.72h0.6M524.54 928.44h0.6M534.79 913.43h0.6M511.89 929.11h0.6M513.84 929.49h0.6M518.24 934.82h0.6M514.01 927.15h0.6M506.3 928.41h0.6M511.82 929.61h0.6M512.42 929.44h0.6M510.61 921.34h0.6M509.34 924.3h0.6M524.02 926.71h0.6M518.19 932.63h0.6M520.2 926.47h0.6M517.52 916.25h0.6M521.72 923.51h0.6M498.36 931.12h0.6M511.67 919.21h0.6M521.06 934.16h0.6M515.21 924.32h0.6M520.28 937.25h0.6M507.29 925.87h0.6M508.79 928.34h0.6M515.76 930.37h0.6M511.56 929.63h0.6M533.63 920.46h0.6M512.41 926.82h0.6M511.44 926.31h0.6M512.44 929.89h0.6M512.14 928.03h0.6M514.48 931.58h0.6M495.39 930.44h0.6M501.87 923.85h0.6M513.99 921.92h0.6M518.54 928.72h0.6M522.9 932.51h0.6M504.6 937.77h0.6M517.19 930.52h0.6M507.92 922.71h0.6M523.51 929.5h0.6M499.97 931.19h0.6M519.02 918h0.6M495.01 925.37h0.6" fill="none" stroke="#666" stroke-width="0.6" stroke-linecap="round" opacity="0.8"/>
<ellipse cx="515.7" cy="928" rx="12.5" ry="8.5" fill="none" stroke="#6a6a6a" stroke-width="0.45"/>
<ellipse cx="515.7" cy="928.3" rx="10" ry="6.6" fill="none" stroke="#6a6a6a" stroke-width="0.45"/>
<ellipse cx="515.7" cy="928.6" rx="7.5" ry="4.8" fill="none" stroke="#6a6a6a" stroke-width="0.45"/>
<ellipse cx="516.2" cy="928.8" rx="5" ry="3.2" fill="none" stroke="#6a6a6a" stroke-width="0.45"/>
<ellipse cx="516.7" cy="928.8" rx="2.5" ry="1.6" fill="none" stroke="#6a6a6a" stroke-width="0.45"/>
<path d="M562.96 920.96h0.5M564.58 922.26h0.5M545.36 935.46h0.5M541.22 927.66h0.5M533.84 936.72h0.5M565.14 920.93h0.5M532.36 926.95h0.5M547.41 933.01h0.5M540.72 929.3h0.5M533.79 921.75h0.5M530.69 928.42h0.5M549.09 929.84h0.5M563.25 923.63h0.5M540.72 926.76h0.5M563.65 923.65h0.5M538.74 926.03h0.5M553.91 923.09h0.5M534.27 932.13h0.5M549.56 929.08h0.5M528.22 922.48h0.5M531.56 924.81h0.5M562.11 937.28h0.5M559.87 924.89h0.5M549.2 935.43h0.5M540.74 925.48h0.5M554.83 924.35h0.5M545.71 924.74h0.5M558.98 927.87h0.5M531.42 917.82h0.5M552.11 919.83h0.5M553.13 921.95h0.5M547.88 924.36h0.5M552.58 920.16h0.5M543.24 930.64h0.5M537.57 937.33h0.5M565.37 936.86h0.5M563.1 936.33h0.5M549.39 934.25h0.5M543.13 918.82h0.5M562.87 935.89h0.5" fill="none" stroke="#888" stroke-width="0.5" stroke-linecap="round"/>
<ellipse cx="512.7" cy="938.9" rx="1.6" ry="0.8" fill="#111" />
<path d="M524.9 938.2 L530.8 908.6 L557.8 908.6 L557.8 938.2 L524.9 938.2" fill="none" stroke="#111" stroke-width="0.8"/>
<text x="532" y="917.3" font-size="9.4">13.81</text>
<rect x="584.5" y="859.5" width="81.5" height="79.6" fill="#fff" stroke="#b8b8b8" stroke-width="0.8"/>
<line x1="583.1" y1="861" x2="584.5" y2="861" stroke="#777" stroke-width="0.5" />
<rect x="578.7" y="860.5" width="3.2" height="1" fill="#c4c4c4"/>
<line x1="583.7" y1="864.88" x2="584.5" y2="864.88" stroke="#999" stroke-width="0.4" />
<line x1="583.7" y1="868.76" x2="584.5" y2="868.76" stroke="#999" stroke-width="0.4" />
<line x1="583.7" y1="872.64" x2="584.5" y2="872.64" stroke="#999" stroke-width="0.4" />
<line x1="583.1" y1="876.52" x2="584.5" y2="876.52" stroke="#777" stroke-width="0.5" />
<rect x="578.7" y="876.02" width="3.2" height="1" fill="#c4c4c4"/>
<line x1="583.7" y1="880.4" x2="584.5" y2="880.4" stroke="#999" stroke-width="0.4" />
<line x1="583.7" y1="884.28" x2="584.5" y2="884.28" stroke="#999" stroke-width="0.4" />
<line x1="583.7" y1="888.16" x2="584.5" y2="888.16" stroke="#999" stroke-width="0.4" />
<line x1="583.1" y1="892.04" x2="584.5" y2="892.04" stroke="#777" stroke-width="0.5" />
<rect x="578.7" y="891.54" width="3.2" height="1" fill="#c4c4c4"/>
<line x1="583.7" y1="895.92" x2="584.5" y2="895.92" stroke="#999" stroke-width="0.4" />
<line x1="583.7" y1="899.8" x2="584.5" y2="899.8" stroke="#999" stroke-width="0.4" />
<line x1="583.7" y1="903.68" x2="584.5" y2="903.68" stroke="#999" stroke-width="0.4" />
<line x1="583.1" y1="907.56" x2="584.5" y2="907.56" stroke="#777" stroke-width="0.5" />
<rect x="578.7" y="907.06" width="3.2" height="1" fill="#c4c4c4"/>
<line x1="583.7" y1="911.44" x2="584.5" y2="911.44" stroke="#999" stroke-width="0.4" />
<line x1="583.7" y1="915.32" x2="584.5" y2="915.32" stroke="#999" stroke-width="0.4" />
<line x1="583.7" y1="919.2" x2="584.5" y2="919.2" stroke="#999" stroke-width="0.4" />
<line x1="583.1" y1="923.08" x2="584.5" y2="923.08" stroke="#777" stroke-width="0.5" />
<rect x="578.7" y="922.58" width="3.2" height="1" fill="#c4c4c4"/>
<line x1="583.7" y1="926.96" x2="584.5" y2="926.96" stroke="#999" stroke-width="0.4" />
<line x1="583.7" y1="930.84" x2="584.5" y2="930.84" stroke="#999" stroke-width="0.4" />
<line x1="583.7" y1="934.72" x2="584.5" y2="934.72" stroke="#999" stroke-width="0.4" />
<line x1="583.1" y1="938.6" x2="584.5" y2="938.6" stroke="#777" stroke-width="0.5" />
<rect x="578.7" y="938.1" width="3.2" height="1" fill="#c4c4c4"/>
<line x1="589.5" y1="939.1" x2="589.5" y2="940.5" stroke="#777" stroke-width="0.5" />
<rect x="588.2" y="941.7" width="2.6" height="1.1" fill="#c4c4c4"/>
<line x1="607.88" y1="939.1" x2="607.88" y2="940.5" stroke="#777" stroke-width="0.5" />
<rect x="606.58" y="941.7" width="2.6" height="1.1" fill="#c4c4c4"/>
<line x1="626.25" y1="939.1" x2="626.25" y2="940.5" stroke="#777" stroke-width="0.5" />
<rect x="624.95" y="941.7" width="2.6" height="1.1" fill="#c4c4c4"/>
<line x1="644.62" y1="939.1" x2="644.62" y2="940.5" stroke="#777" stroke-width="0.5" />
<rect x="643.33" y="941.7" width="2.6" height="1.1" fill="#c4c4c4"/>
<line x1="663" y1="939.1" x2="663" y2="940.5" stroke="#777" stroke-width="0.5" />
<rect x="661.7" y="941.7" width="2.6" height="1.1" fill="#c4c4c4"/>
<path d="M585.5 938.7 L665 938.7" fill="none" stroke="#999" stroke-width="0.5" stroke-dasharray="0.6 0.8"/>
<text x="627.7" y="856.7" font-size="9.25" text-anchor="middle">E-peptide</text>
<ellipse cx="612.5" cy="928.5" rx="16" ry="9.5" fill="url(#cgR)" />
<path d="M604.65 929.91h0.6M622.19 925.4h0.6M626.72 932.83h0.6M618.49 930.04h0.6M625.08 931.65h0.6M620.05 922.76h0.6M615.82 938.01h0.6M618.67 925.28h0.6M610.27 935.9h0.6M634.27 926.62h0.6M623.84 922.95h0.6M614.42 935.32h0.6M599.67 931.62h0.6M605.73 928.77h0.6M614.67 927.69h0.6M607.64 932.25h0.6M617.39 927.98h0.6M591.37 922.88h0.6M594.99 921.11h0.6M604.05 931.81h0.6M605.92 931.99h0.6M610.23 930.11h0.6M628.69 927.75h0.6M607.14 922.95h0.6M614.69 931.9h0.6M630.75 926.61h0.6M596.64 930.77h0.6M615.34 928.12h0.6M605.75 932.29h0.6M605.77 933.74h0.6M611.09 930.94h0.6M619.66 924.66h0.6M614.19 925.99h0.6M608.39 933.96h0.6M622.57 929.69h0.6M616.84 933.03h0.6M607.85 936.87h0.6M604.89 928.31h0.6M602.86 925.47h0.6M615.49 937.04h0.6M611.11 928.11h0.6M602.76 927.22h0.6M635.28 935.37h0.6M589.56 917.68h0.6M601.89 929.29h0.6M620.65 934.66h0.6M606.23 928.83h0.6M619.64 922.85h0.6M636.45 935.67h0.6M592.7 934.08h0.6M609.73 929.37h0.6M602.75 926.95h0.6M614.77 922.76h0.6M605.44 932.25h0.6M596.4 929.41h0.6M615.72 923.73h0.6M613.56 929.15h0.6M606.58 926.34h0.6M618.73 924.28h0.6M616.37 927.98h0.6M615.07 926.34h0.6M612.87 933.63h0.6M610.38 933.84h0.6M598.64 928.27h0.6M625.97 929.81h0.6M602.3 933.25h0.6M606.75 937.26h0.6M613.41 930.56h0.6M610.16 921.5h0.6M616.17 932.68h0.6" fill="none" stroke="#f07070" stroke-width="0.6" stroke-linecap="round" opacity="0.8"/>
<ellipse cx="612.5" cy="928.5" rx="14" ry="8" fill="none" stroke="#f58a8a" stroke-width="0.45"/>
<ellipse cx="612.5" cy="928.8" rx="11" ry="6.2" fill="none" stroke="#f58a8a" stroke-width="0.45"/>
<ellipse cx="612.5" cy="929.1" rx="8" ry="4.5" fill="none" stroke="#f58a8a" stroke-width="0.45"/>
<ellipse cx="613" cy="929.3" rx="5" ry="2.8" fill="none" stroke="#f58a8a" stroke-width="0.45"/>
<ellipse cx="640.5" cy="928.5" rx="10" ry="4" fill="none" stroke="#f58a8a" stroke-width="0.45"/>
<ellipse cx="640.5" cy="928.5" rx="6.5" ry="2.5" fill="none" stroke="#f58a8a" stroke-width="0.45"/>
<ellipse cx="640.5" cy="928.5" rx="3" ry="1.2" fill="none" stroke="#f58a8a" stroke-width="0.45"/>
<ellipse cx="612.5" cy="929.5" rx="3" ry="1.3" fill="#fff" opacity="0.8"/>
<ellipse cx="609.5" cy="938.9" rx="1.6" ry="0.8" fill="#111" />
<path d="M620.2 938.2 L626.1 908.6 L653.1 908.6 L653.1 938.2 L620.2 938.2" fill="none" stroke="#111" stroke-width="0.8"/>
<text x="627.3" y="917.3" font-size="9.4">29.8</text>
</svg>
</body></html>
